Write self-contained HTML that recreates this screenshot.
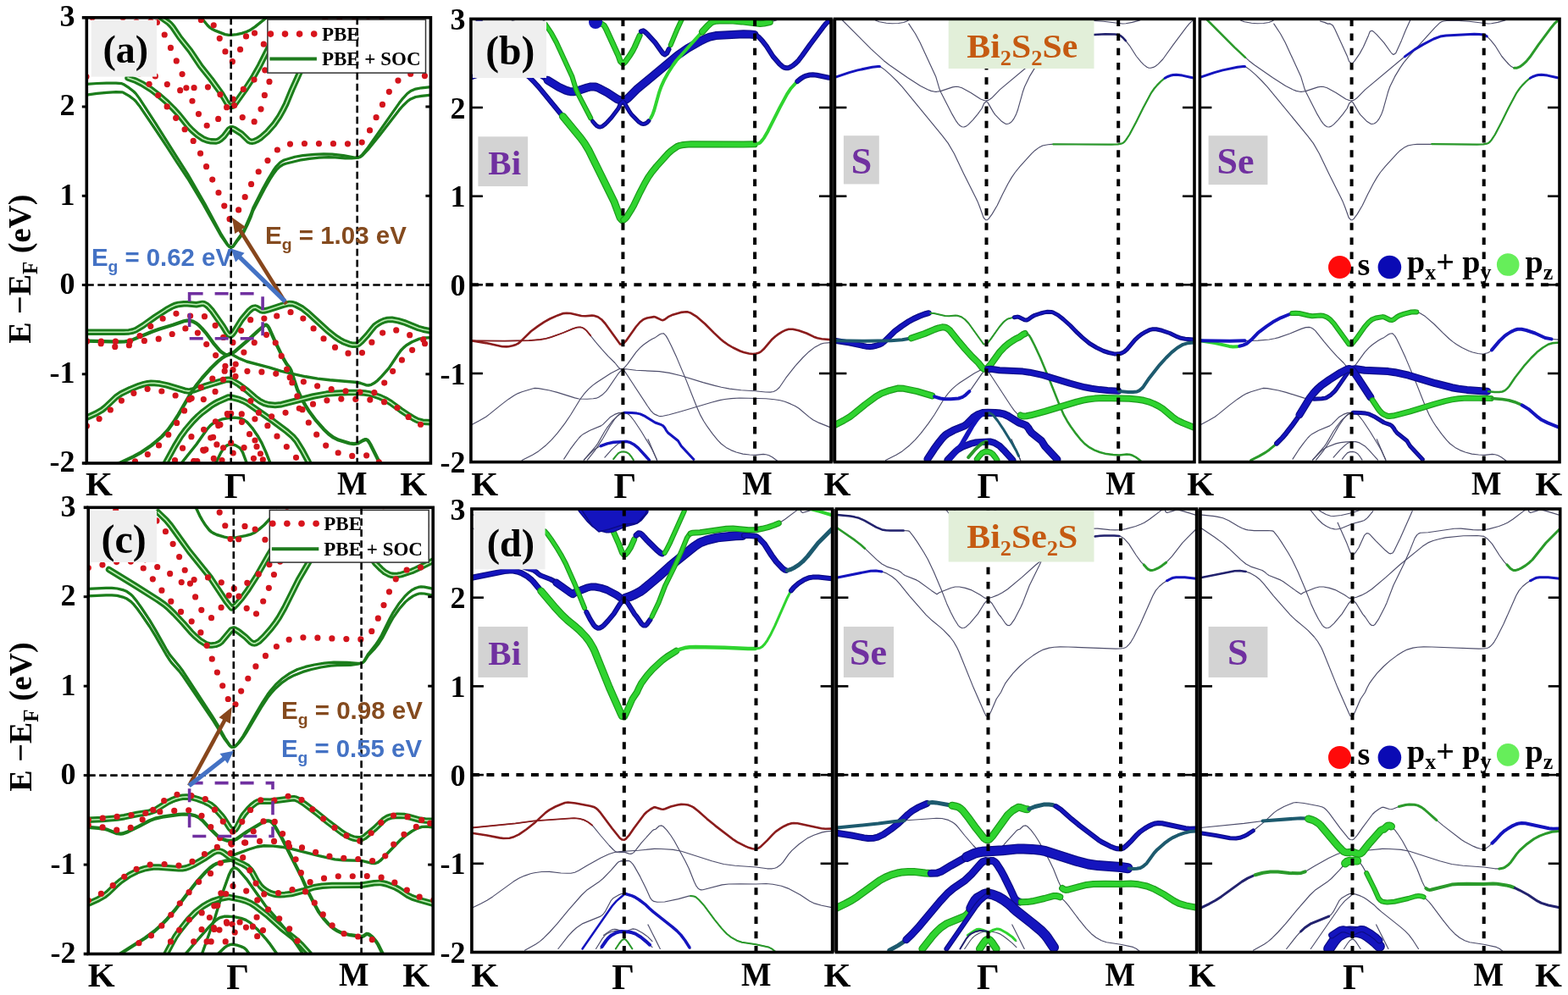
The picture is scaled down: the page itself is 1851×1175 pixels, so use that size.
<!DOCTYPE html>
<html><head><meta charset="utf-8"><title>Band structures</title>
<style>html,body{margin:0;padding:0;background:#fff;overflow:hidden}svg{display:block}</style>
</head><body>
<svg width="1851" height="1175" viewBox="0 0 1851 1175">
<rect width="1851" height="1175" fill="#fff"/>
<defs>
<clipPath id="cl_a"><rect x="102.3" y="20.8" width="406.1" height="526.2"/></clipPath>
<clipPath id="cl_b1"><rect x="555.9" y="22.4" width="425.1" height="523.2"/></clipPath>
<clipPath id="cl_b2"><rect x="985.4" y="22.4" width="424.6" height="523.2"/></clipPath>
<clipPath id="cl_b3"><rect x="1416.4" y="22.4" width="424.6" height="523.2"/></clipPath>
<clipPath id="cl_c"><rect x="104.2" y="599.3" width="407.0" height="527.2"/></clipPath>
<clipPath id="cl_d1"><rect x="556.9" y="601.0" width="425.7" height="523.5"/></clipPath>
<clipPath id="cl_d2"><rect x="987.4" y="601.0" width="425.2" height="523.5"/></clipPath>
<clipPath id="cl_d3"><rect x="1417.0" y="601.0" width="424.7" height="523.5"/></clipPath>
</defs>
<g clip-path="url(#cl_a)">
<path d="M102 99.4L114.6 98.5 125.7 98.2 136.9 98.2 143.8 98.7 145.6 99.4 152.6 103.9 157.8 108 160.2 110.4 164.5 116.1 183.2 144.8 209 185.9 221.6 205.6 241.9 240.8 261.3 276.9 268.3 288.2 270.6 290.9 272.7 292.3 275.1 290.9 279.8 283.7 285.9 275.3 287.9 271.8 296 253.5 298.7 245.7 310.2 223 316.5 211.5 322.7 201.3 326.3 196.3 330.2 192.3 332 190.9 335.5 189 348.1 185.3 357.5 183.6 371.1 182.3 382.2 181.8 392.2 182.1 405.4 183.6 418.6 186 421.6 186.2 424.3 185.3 427.1 183.2 433.4 175.6 471.2 121.8 475.5 116.3 480.8 110.5 484.8 107.4 490.6 105.1 497.6 103.8 510 102.6" fill="none" stroke="#1b7d1b" stroke-width="3.2" stroke-linejoin="round" stroke-linecap="round"/>
<path d="M102 112.1L114.6 110.4 125.7 109.4 136.9 108.6 143.8 108.8 145.6 109.3 152.6 113.4 157.8 117.2 160.2 119.5 164.5 124.9 183.2 152.5 196.4 172.3 209 192 221.6 210.8 239.6 240.8 261.3 279.1 268.3 289 270.6 291.3 272.7 292.3 275.1 291.3 279.8 284.7 285.9 277.2 287.9 274 292.1 265.6 296 256.7 298.7 249 312.3 223 318.6 212 322.7 205.6 326.3 200.7 330.2 196.9 333.8 194.6 337.2 193.2 353.7 189.2 365.4 187.4 376.7 186.2 388 185.7 395.7 185.9 407.4 186.9 415.1 186.9 423.1 186.1 425.3 185.5 428 183.4 434.4 176.7 448 159.9 471.2 129.9 475.5 125 480.8 119.8 484.8 116.9 490.6 114.5 497.6 113.3 510 112.1" fill="none" stroke="#1b7d1b" stroke-width="3.2" stroke-linejoin="round" stroke-linecap="round"/>
<path d="M151 92L160.4 95.3 167.4 98.8 178.6 105.8 187.3 112.4 196.1 120 204.8 128.6 211.4 135.8 222.3 149.4 226.7 153.9 233.3 159.7 239.8 164 244.4 165.8 249 166.8 255.1 167 257.9 166.2 260.2 164.7 264.3 160.9 270.3 153 272.8 151.7 274.5 151.8 276.5 152.5 285 157.9 293.5 166.1 295.7 167.1 297.6 167.2 299.6 166.9 303.6 165.3 308 162.5 315.6 155.8 323.3 147.1 329.8 137.6 333.7 130.7 337.6 123 344.7 105.8 366.2 58.3" fill="none" stroke="#1b7d1b" stroke-width="7.5" stroke-linejoin="round" stroke-linecap="round"/>
<path d="M151 92L160.4 95.3 167.4 98.8 178.6 105.8 187.3 112.4 196.1 120 204.8 128.6 211.4 135.8 222.3 149.4 226.7 153.9 233.3 159.7 239.8 164 244.4 165.8 249 166.8 255.1 167 257.9 166.2 260.2 164.7 264.3 160.9 270.3 153 272.8 151.7 274.5 151.8 276.5 152.5 285 157.9 293.5 166.1 295.7 167.1 297.6 167.2 299.6 166.9 303.6 165.3 308 162.5 315.6 155.8 323.3 147.1 329.8 137.6 333.7 130.7 337.6 123 344.7 105.8 366.2 58.3" fill="none" stroke="#bdf0b5" stroke-width="1.6" stroke-linejoin="round" stroke-linecap="round"/>
<path d="M189.3 20L199 26.8 201.5 29.2 203.8 31.9 212.3 44.5 224.5 59.8 236.8 78.2 249 93.5 261.3 110.4 268 121.7 270.3 124.5 272.8 125.7 274.6 125.2 276.6 123.6 278.5 121.2 290.6 104 298.5 91.9 306.7 77.3 323.3 44.5" fill="none" stroke="#1b7d1b" stroke-width="7.5" stroke-linejoin="round" stroke-linecap="round"/>
<path d="M189.3 20L199 26.8 201.5 29.2 203.8 31.9 212.3 44.5 224.5 59.8 236.8 78.2 249 93.5 261.3 110.4 268 121.7 270.3 124.5 272.8 125.7 274.6 125.2 276.6 123.6 278.5 121.2 290.6 104 298.5 91.9 306.7 77.3 323.3 44.5" fill="none" stroke="#bdf0b5" stroke-width="1.6" stroke-linejoin="round" stroke-linecap="round"/>
<path d="M236.8 20L245.1 30 247.5 32.3 249.8 33.9 254.7 36.4 265.6 40.6 270 41.4 272.8 41.4 279.5 40.6 285.4 39.3 291 37.5 294.8 35.8 301.1 31.6 315.6 20" fill="none" stroke="#1b7d1b" stroke-width="3.4" stroke-linejoin="round" stroke-linecap="round"/>
<path d="M102 392.2L146.2 392.2 152.2 391.9 156.7 391 160.8 389.4 168.8 384.5 183.4 374.1 196.2 365.8 202.2 362.4 206.5 360.5 210.8 359.4 217 358.8 221.3 358.8 231.9 359.7 239 358.4 241.1 358.8 243.4 360 245.6 361.7 250.4 367.1 263.4 385.7 267.9 393.1 270 395.6 272.7 395.9 274.3 394.6 276.1 392.3 284.2 379.1 286.1 376.4 293.7 367.4 297.3 364.3 299.1 363.4 301.1 363.1 302.9 363.6 308.4 366.7 310.2 367.1 312 367 315.6 366.2 334.6 360.1 341.8 358.4 345.5 358.8 348.9 359.9 356.5 363.9 363.7 369.5 386.4 390.3 395.8 397.9 401.3 401.5 404.8 403.4 412.1 406.3 415.8 407.2 419.7 407.3 421.7 407 423.8 405.8 427 402.9 433.7 395.6 439.1 388.7 442.5 384.8 445.7 382.4 449.8 380.1 454.1 378.3 457.5 377.5 462.6 377.2 469.9 378.6 478.5 381.2 493.9 387.5 500 389.2 510 391.2" fill="none" stroke="#1b7d1b" stroke-width="7.5" stroke-linejoin="round" stroke-linecap="round"/>
<path d="M102 392.2L146.2 392.2 152.2 391.9 156.7 391 160.8 389.4 168.8 384.5 183.4 374.1 196.2 365.8 202.2 362.4 206.5 360.5 210.8 359.4 217 358.8 221.3 358.8 231.9 359.7 239 358.4 241.1 358.8 243.4 360 245.6 361.7 250.4 367.1 263.4 385.7 267.9 393.1 270 395.6 272.7 395.9 274.3 394.6 276.1 392.3 284.2 379.1 286.1 376.4 293.7 367.4 297.3 364.3 299.1 363.4 301.1 363.1 302.9 363.6 308.4 366.7 310.2 367.1 312 367 315.6 366.2 334.6 360.1 341.8 358.4 345.5 358.8 348.9 359.9 356.5 363.9 363.7 369.5 386.4 390.3 395.8 397.9 401.3 401.5 404.8 403.4 412.1 406.3 415.8 407.2 419.7 407.3 421.7 407 423.8 405.8 427 402.9 433.7 395.6 439.1 388.7 442.5 384.8 445.7 382.4 449.8 380.1 454.1 378.3 457.5 377.5 462.6 377.2 469.9 378.6 478.5 381.2 493.9 387.5 500 389.2 510 391.2" fill="none" stroke="#bdf0b5" stroke-width="1.6" stroke-linejoin="round" stroke-linecap="round"/>
<path d="M102 402.7L140.2 403.7 146.5 403.5 150.9 402.9 157.3 400.9 179.3 391.7 187.6 388.7 204 383.8 217 379.3 220.7 378.6 223.3 378.6 227.7 379.6 231.9 381.9 234.1 383.6 238.5 388 243 393.1 252 405.3 258.9 413.4 261.1 415.6 265.5 418.4 267.4 419.1 269.6 419.1 272.7 418.1 277.7 414.7 291.7 402.6 305.4 390 312.7 383.9 314.1 383.5 315.8 384.7 317.5 387.1 325.1 404.2 334.5 423.4 338.3 429.8 341.8 434.3 343.6 437.6 351 459.8 356.2 471.2 360.3 478.4 365.3 486.3 373.3 496.9 382.2 506.9 388 512.5 393.7 516.7 399.6 519.6 412.6 523.5 417.7 524.2 422.6 523.5 428.3 520.2 430.6 519.2 432.7 519.2 433.9 519.9 435 521.1 437.1 524.5 447.5 545.2" fill="none" stroke="#1b7d1b" stroke-width="4.2" stroke-linejoin="round" stroke-linecap="round"/>
<path d="M272.8 418.1L282.7 423.4 291.4 427 317.6 433.9 331.4 438.2 343.9 441.2 360.8 444.8 374.9 447.1 389.3 448.7 421.7 451.5 425.7 452.5 432 454.7 435 455 438.2 454.3 441.4 452.6 445.7 449.3 450.1 444.9 459 434.9 469.9 418.5 473.1 414 476.4 410.6 479.7 407.8 486.4 403.7 495 400.1 501.3 399 510 398.6" fill="none" stroke="#1b7d1b" stroke-width="3.4" stroke-linejoin="round" stroke-linecap="round"/>
<path d="M102 493.3L113.7 488 120.6 484 124.7 480.6 137 468.9 143.2 464.7 153.5 459.7 163.8 455.6 170 453.6 174.2 452.7 178.3 452.3 182.4 452.4 188.6 453.1 196.9 454.8 218 461.2 222 461.9 224.4 461.7 228.2 460.9 241.1 456.2 266.1 448.6 270.2 448.3 274.3 449.4 281.8 453.9 291.6 461.2 300.9 469.4 306.5 473.6 312 476.3 317.3 477.8 324.8 478.5 332.1 477.7 369.8 468 385.6 465.1 396.8 464.2 410.1 463.6 421.7 463.6 430.4 464 435.9 464.9 442.4 466.7 449 469.1 455.7 472.2 461.1 475.5 473.1 484.3 483.1 491 488.6 494.4 492.8 496.5 498.8 498.2 510 498.8" fill="none" stroke="#1b7d1b" stroke-width="7.5" stroke-linejoin="round" stroke-linecap="round"/>
<path d="M102 493.3L113.7 488 120.6 484 124.7 480.6 137 468.9 143.2 464.7 153.5 459.7 163.8 455.6 170 453.6 174.2 452.7 178.3 452.3 182.4 452.4 188.6 453.1 196.9 454.8 218 461.2 222 461.9 224.4 461.7 228.2 460.9 241.1 456.2 266.1 448.6 270.2 448.3 274.3 449.4 281.8 453.9 291.6 461.2 300.9 469.4 306.5 473.6 312 476.3 317.3 477.8 324.8 478.5 332.1 477.7 369.8 468 385.6 465.1 396.8 464.2 410.1 463.6 421.7 463.6 430.4 464 435.9 464.9 442.4 466.7 449 469.1 455.7 472.2 461.1 475.5 473.1 484.3 483.1 491 488.6 494.4 492.8 496.5 498.8 498.2 510 498.8" fill="none" stroke="#bdf0b5" stroke-width="1.6" stroke-linejoin="round" stroke-linecap="round"/>
<path d="M139.1 548L157.7 539.2 166.9 534.1 178.7 526 185.2 520.7 191.1 515.5 198.3 507.6 205.9 497 210.6 489.6 225.7 463.6 232.1 454.5 238.5 446.5 249.3 434.5 257.8 426.3 262.2 422.8 264.8 421.2 272.7 417.2" fill="none" stroke="#1b7d1b" stroke-width="4.2" stroke-linejoin="round" stroke-linecap="round"/>
<path d="M194.8 548L206.4 526.8 213.3 515.5 219.5 507.1 227.7 497.5 234 491.2 238.2 487.5 248.5 479.7 252.8 476.9 257.4 474.4 269.6 469 274.1 469.4 281.5 471.3 287.8 473.7 291.6 475.7 323.2 497.9 338.7 509.6 345.5 515.5 349.9 520.6 356.8 531.8 364 545.2" fill="none" stroke="#1b7d1b" stroke-width="7.5" stroke-linejoin="round" stroke-linecap="round"/>
<path d="M194.8 548L206.4 526.8 213.3 515.5 219.5 507.1 227.7 497.5 234 491.2 238.2 487.5 248.5 479.7 252.8 476.9 257.4 474.4 269.6 469 274.1 469.4 281.5 471.3 287.8 473.7 291.6 475.7 323.2 497.9 338.7 509.6 345.5 515.5 349.9 520.6 356.8 531.8 364 545.2" fill="none" stroke="#bdf0b5" stroke-width="1.6" stroke-linejoin="round" stroke-linecap="round"/>
<path d="M213.3 548L231.9 524.8 244 507.5 248.2 502.6 250.4 500.7 254.7 498 261.5 495.2 268.3 493.8 276.7 493.1 282.5 493.7 288 495.8 291.8 498.6 297.7 505.3 304.7 515.5 309 523.1 313.9 534 319.5 548" fill="none" stroke="#1b7d1b" stroke-width="3.4" stroke-linejoin="round" stroke-linecap="round"/>
<path d="M254.1 548L260.9 534.3 263.4 530.4 265.6 527.9 267.8 526.1 270.1 525.1 272.7 524.8 276.4 525.4 278.5 526.1 282.5 528.6 284.3 530.3 286.6 534.3 291.7 548" fill="none" stroke="#1b7d1b" stroke-width="3.4" stroke-linejoin="round" stroke-linecap="round"/>
<path d="M102.4 402.9L119.2 405.7 137.4 409.8 142 410 144.5 409.8 148.9 408.9 152.8 407.5 155.3 406.2 157.3 404.5 169.6 391.8 177.5 385.6 184.2 380.8 190.8 376.9 199.6 372.8 205.9 370.5 209.7 370.1 213.7 370.4 226.1 373.4 230.6 373.6 238 373 240.2 373.2 244.6 374.7 248.6 377.6 252.8 382.4 269.5 407.1 272.6 407 275.8 403.5 287.3 386.5 291.9 380.9 295.8 377.6 300 376 307.7 374.5 309.5 374.9 315.7 378.1 318 378.5 319.9 377.8 323.8 374.6 328 372.5 338.1 369.3 344 368.6 345.9 368.8 349.7 370.2 355.5 374 365.4 382.9 375.3 393.4 383.1 401 387 404.5 391 407.4 397 411.1 404.9 415.1 409 416.6 415 418.2 419.1 418.7 421.6 418.5 425.9 417.5 428.4 416.1 431.8 413 440.7 401.9 445.1 397.8 448.4 395.2 452.7 392.4 457.1 390.2 460.2 389.3 464.9 389.3 471.4 390.8 480.4 394.1 488.8 398.2 493 399.9 497.8 400.8 507.5 401.6" fill="none" stroke="#d3141c" stroke-width="7.2" stroke-linecap="round" stroke-dasharray="0 17"/>
<path d="M102.4 402.9L140.2 403.2 167.5 402.7 180.1 401.5 186.4 400.4 190.7 399.2 203.2 394.5 216.6 388.6 221.3 387.1 225 386.9 227.3 387.4 229.3 388.7 231.8 391 241.9 404.3 248.9 413.1 256.3 421.5 263.7 429.2 267.7 434.7 269.8 436.5 272.6 436.3 274.2 435.1 277.9 430.5 287.3 416.8 291.9 411.5 295.8 407.9 302.2 403.1 305.8 400.7 309.5 399 314 395.6 316.3 394.5 318.6 394.2 321.4 397.2 323.1 400.2 333.5 423.3 343.7 448.8 356 481.3 360.3 491.5 363.9 498.3 368 504.9 374 513.6 379.6 520.9 383.6 525.2 389.2 529.7 394.8 532.9 400.7 535.4 408.2 537.4 415.8 538.4 422.7 538.7 431.3 537.7 434.5 538 437.8 539.2 441.8 541.4 448.6 546.7" fill="none" stroke="#d3141c" stroke-width="7.2" stroke-linecap="round" stroke-dasharray="0 17"/>
<path d="M102.4 503.1L112.2 497.7 119.2 493.3 123.4 490 136 479.1 144.4 472.3 150.7 467.9 155 465.5 159.5 463.6 172.1 459.7 173.8 459.3 178 459.5 190.4 461.9 199.1 464.3 218.8 470.9 223.4 471.9 227.9 472.3 232.6 472.2 239.3 471.8 243.2 471 245.2 470.2 249.4 467.3 253.6 463 255.7 460.3 267.8 441.6 270 439 272.6 437.2 275.8 436.5 287.3 438.1 313.8 439.4 325.2 441.2 338.7 444.5 363.1 452.4 376.3 456.3 383.8 458.2 393.1 460 406.1 461.6 421.6 462.7 434 463.9 439.2 464 442.9 463.4 445.8 462 449.6 458.3 457.1 447 467.5 433.2 476.1 423.2 483.4 415.9 490 410.6 496.4 407 500.1 405.9 507.5 405.2" fill="none" stroke="#d3141c" stroke-width="7.2" stroke-linecap="round" stroke-dasharray="0 17"/>
<path d="M159.5 544.9L171.3 538.6 178 534.2 186.5 527 192.7 520.6 199.1 512.9 207.6 501 214.1 491.1 225 471.9 229.6 465.5 234.2 460.3 238.7 456 243 452.6 259.1 441.5 268 436.7 270.1 436.3 272.6 437.2 276.2 441.5 300.4 480.5 304.3 486.2 306.8 488.9 309 490.5 313.1 492.4 315 492.7 318 492.4 324.8 490.9 338.7 486.8 372.5 476.2 381.9 473.6 387.6 472.5 395 471.6 404.4 471 434.4 471.8 444 472.7 450.5 473.8 455.8 475.3 462.2 477.9 467.6 480.7 471.8 483.4 483.4 493.5 487.8 496.9 494.9 500.6 507.5 505.8" fill="none" stroke="#d3141c" stroke-width="7.2" stroke-linecap="round" stroke-dasharray="0 17"/>
<path d="M301 520L311.2 544.9" fill="none" stroke="#d3141c" stroke-width="7.2" stroke-linecap="round" stroke-dasharray="0 17"/>
<path d="M206.5 543.5L213.6 532 218.7 524.6 223.6 518.2 226 515.6 228.4 513.6 235.7 509.4 248 504 250.3 502.2 258.1 493.9 263.4 490.4 268 488.6 274.3 488.2 282.6 488.6 288.4 489.2 292.1 489.9 297.8 492.8 309.1 500.1 316.1 502.8 318 504 320 506.5 321.6 509.5 323.8 512.5 334.9 521.8 338.6 528 352.6 543.8" fill="none" stroke="#d3141c" stroke-width="7.2" stroke-linecap="round" stroke-dasharray="0 17"/>
<path d="M101.9 90.5L116.1 85.2 125.7 82.2 140.1 78.8 151.1 77.2 152.8 77.3 154.2 78 158.4 81.2 164.9 87.2 171.8 94.3 177.9 101.3 223.3 159.4 229.6 168.4 236.3 180.6 247.2 204.7 260.8 233.4 265.4 244.6 269.4 256.7 271.8 259.5 273.5 259.4 275.3 258 279 252.6 284.8 242.4 291 228.8 297 216.5 301.2 209 305.1 202.9 310.6 195.8 323.7 180.6 327.4 177 332.4 173.2 335.2 171.6 337 171 342.2 170.1 346.5 169.7 359 169.5 413.9 169.8 421.2 169.5 424.8 169 426.9 168.3 428.4 167 430.3 164.6 434.4 158.1 441.8 143.5 450.2 125.9 458.3 110 462.6 103.4 469.1 95.9 472.5 92.8 476.8 89.8 479.9 88.4 484.1 87.3 487.7 87.1 492.1 87.4 506 90.6" fill="none" stroke="#d3141c" stroke-width="7.2" stroke-linecap="round" stroke-dasharray="0 17"/>
<path d="M109.1 20.4L143.1 56.4 157.5 70.4 163.6 75.5 184.2 90.6 198.6 100.4 206.6 104.6 210.5 106.2 214.7 107.2 217.1 107.2 221.1 106.5 234.8 101.7 238.7 101.1 241.1 101.3 245.1 102.6 255.1 108.3 266.2 115.9 270.6 117.7 272.7 117.9 274.7 117.4 276.6 116.3 278.5 114.7 287.9 104.8 330.6 67.1 338.2 61 347.8 54.4 361.2 46.5 368.9 42.8 374.3 41.1 379 40.4 408.9 38.8 418.1 39 421.2 39.4 422.7 40 426.2 42.3 430.1 46.7 435 53.3 442.2 65.2 447.5 71.7 450.8 75.4 454.2 78 456.4 78.9 458.6 79 461.7 78.2 463.8 77 467.1 74.3 472.4 68.7 499.2 30.6 502.6 26.3 506 23.1" fill="none" stroke="#d3141c" stroke-width="7.2" stroke-linecap="round" stroke-dasharray="0 17"/>
<path d="M185.4 26.5L192.8 38.2 198 48.5 215.7 88.9 220 104.2 222 109 234.1 133.9 238.7 142.2 241.1 145.4 243.1 147.6 245.2 148.8 247.4 149.1 249.8 148.2 252.3 146.2 257.4 140.7 262.8 133.9 267.5 127 270 121 272.7 118.6 274.3 120.4 280.4 131.4 282.7 134.7 290.1 142.7 293.9 145.2 295.6 145.6 297.9 145.1 300 143.9 302 141.7 304 138.7 306 134.7 307.9 129.3 313.6 107.7 315.8 101.1 321.3 89.2 327.3 78.8 331.2 72.8 337 65.5 366.2 31.3 372.1 25.3 373.8 24.2 376.3 23.4 379.7 22.9 393.5 22.8 404.9 23.6 426.7 26.4 430.3 26.3 437.6 24.9 445.4 22.5 450.5 20.2 458.6 15.6" fill="none" stroke="#d3141c" stroke-width="7.2" stroke-linecap="round" stroke-dasharray="0 17"/>
<path d="M237.3 23.4L242.1 24.9 245.9 26.5 248.4 26.3 251.6 28.6 253.8 32.7 261.2 49.8 267.5 64.6 269.7 71.1 272.7 73.9 274.2 72.9 276 70.8 281.8 61.8 285.9 54.1 291.6 40.4 293.3 35.5 295.7 34.7 297.1 35.7 300.9 39.4 309.1 48.9 316.7 60.2 318.3 62.1 319.9 63 322.4 61.3 328.8 46.4 333.3 34.7 340 19.2" fill="none" stroke="#d3141c" stroke-width="7.2" stroke-linecap="round" stroke-dasharray="0 17"/>
<path d="M145.1 20.4L149.1 22.9 152.3 24.2 160.3 25.7 166.7 26.2 173.7 25.9 179.7 25 183.4 23.4 185.4 21.9" fill="none" stroke="#d3141c" stroke-width="7.2" stroke-linecap="round" stroke-dasharray="0 17"/>
<path d="M228.9 544.5L241.9 528.7 244.5 524.9 252.3 510.5 260.1 499.1 262.8 495.9 267.9 490.8 270.8 489 272.7 488.3" fill="none" stroke="#d3141c" stroke-width="7.2" stroke-linecap="round" stroke-dasharray="0 17"/>
<path d="M232.8 544.5L240.6 534.2 245.5 526.7 250.3 518.7 258.1 504.3 263.4 496.1 265.9 492.9 268.5 490.8 272.7 488.6" fill="none" stroke="#d3141c" stroke-width="7.2" stroke-linecap="round" stroke-dasharray="0 17"/>
<path d="M272.7 488.3L276.8 489.1 279.6 490.8 285.4 498.2 293.5 510.9 304.1 529.3 306.2 533.2 311.1 544.5" fill="none" stroke="#d3141c" stroke-width="7.2" stroke-linecap="round" stroke-dasharray="0 17"/>
<path d="M228.9 544.5L238.2 534.4 240.6 532.1 245.6 529 255 525.2 260.1 523.9 266.5 523.1 275.3 522.8 277.4 522.8 281.6 524.2 287.5 528 292 532.6 302.2 544.5" fill="none" stroke="#d3141c" stroke-width="7.2" stroke-linecap="round" stroke-dasharray="0 17"/>
<path d="M252.3 541.4L260.1 532.1 265.5 526.9 267.9 524.9 270.8 523.4 272.7 522.9" fill="none" stroke="#d3141c" stroke-width="7.2" stroke-linecap="round" stroke-dasharray="0 17"/>
<path d="M262 543.5L264.6 540 267.9 536.3 270.8 534.9 273.7 534.7 275.7 535.1 277.7 535.9 279.6 537.3 282.5 541.1 284.5 544.5" fill="none" stroke="#d3141c" stroke-width="7.2" stroke-linecap="round" stroke-dasharray="0 17"/>
</g>
<g clip-path="url(#cl_b1)">
<path d="M556 402.3L573.7 405.1 592.9 409.2 597.8 409.4 600.4 409.2 605 408.3 609.1 406.9 611.7 405.6 613.9 403.9 626.8 391.3 635.1 385.1 642.2 380.3 649.1 376.5 658.4 372.4 665 370.1 669 369.7 673.3 370 686.3 373 691.1 373.2 698.8 372.6 701.1 372.7 705.8 374.3 710 377.2 714.4 382 732.1 406.5 735.3 406.4 738.7 402.9 750.7 386 755.4 380.5 759.5 377.2 763.9 375.5 772 374.1 773.8 374.5 780.4 377.7 782.7 378.1 784.7 377.3 788.8 374.2 793.2 372.1 803.7 368.9 809.9 368.3 811.9 368.4 815.8 369.8 821.9 373.6 832.3 382.5 842.6 392.9 850.7 400.5 854.9 403.9 859 406.8 865.3 410.5 873.6 414.5 877.8 416 884.1 417.5 888.4 418 891 417.9 895.4 416.8 898.1 415.4 901.5 412.3 910.8 401.3 915.3 397.2 918.8 394.6 923.2 391.9 927.8 389.7 931 388.8 935.9 388.8 942.7 390.3 952 393.5 960.6 397.7 965 399.3 970.1 400.2 980 401.1" fill="none" stroke="#4d4d6b" stroke-width="1.15" stroke-linejoin="round" stroke-linecap="round"/>
<path d="M556 402.3L595.8 402.6 624.6 402.1 637.9 401 644.5 399.8 649 398.6 662.2 394 676.4 388.1 681.2 386.6 685.2 386.4 687.6 387 689.7 388.2 692.3 390.4 702.9 403.7 710.4 412.4 718.1 420.9 725.9 428.5 730.2 433.9 732.4 435.8 735.3 435.6 736.9 434.3 740.8 429.8 750.7 416.1 755.4 410.9 759.5 407.3 766.2 402.5 770 400.2 773.8 398.4 778.6 395 780.9 394 783.4 393.7 786.2 396.6 788 399.6 792.4 408.2 799 422.6 809.6 447.9 822.4 480.3 826.9 490.4 830.7 497.2 834.9 503.7 841.2 512.4 847.1 519.7 851.3 524 857.1 528.4 863 531.6 869.1 534 877 536.1 884.9 537 892.1 537.4 901.1 536.4 904.3 536.7 907.8 537.8 911.9 540 919 545.3" fill="none" stroke="#4d4d6b" stroke-width="1.15" stroke-linejoin="round" stroke-linecap="round"/>
<path d="M556 501.9L566.3 496.6 573.7 492.2 578.1 488.9 591.4 478.1 600.2 471.4 606.9 466.9 611.4 464.6 616.1 462.7 629.4 458.8 631.2 458.4 635.6 458.6 648.7 461 657.9 463.4 678.6 469.9 683.4 471 693.2 471.2 700.2 470.8 704.4 470.1 706.4 469.2 710.9 466.3 715.3 462.1 717.5 459.4 730.2 440.8 732.6 438.2 735.3 436.5 738.7 435.7 750.7 437.3 778.3 438.6 790.2 440.4 804.3 443.7 829.9 451.6 843.7 455.4 851.5 457.3 861.2 459.1 874.8 460.7 891 461.8 903.8 463 909.3 463.1 913.1 462.5 916.1 461.1 920.1 457.5 927.8 446.2 938.6 432.4 947.5 422.5 955.1 415.2 962 409.9 968.5 406.4 972.4 405.3 980 404.6" fill="none" stroke="#4d4d6b" stroke-width="1.15" stroke-linejoin="round" stroke-linecap="round"/>
<path d="M616.2 543.5L628.6 537.2 635.6 532.9 644.6 525.7 651.1 519.4 657.9 511.7 666.9 499.9 673.6 490 685.2 471 690 464.6 694.8 459.4 699.6 455.1 704.2 451.8 721.1 440.7 730.4 435.9 732.7 435.5 735.3 436.5 737.1 438.2 739 440.7 764.4 479.5 768.4 485.1 771.1 487.9 773.3 489.4 777.6 491.3 779.6 491.6 782.7 491.3 789.8 489.8 804.3 485.8 839.7 475.2 849.6 472.6 855.5 471.5 863.2 470.6 873.1 470 904.2 470.8 914.2 471.7 920.9 472.8 926.5 474.3 933.1 476.9 938.7 479.6 943.1 482.3 955.1 492.4 959.7 495.8 967 499.4 980 504.6" fill="none" stroke="#4d4d6b" stroke-width="1.15" stroke-linejoin="round" stroke-linecap="round"/>
<path d="M765 518.8L775.6 543.5" fill="none" stroke="#4d4d6b" stroke-width="1.15" stroke-linejoin="round" stroke-linecap="round"/>
<path d="M665.7 542.1L673.1 530.7 678.5 523.3 683.6 517 686.2 514.4 688.8 512.4 696.5 508.2 709.4 502.9 711.9 501.1 720.1 492.8 725.6 489.4 730.5 487.6 737.1 487.2 745.8 487.5 751.8 488.1 755.7 488.9 761.7 491.7 773.4 499 780.7 501.7 782.7 502.8 784.8 505.3 786.5 508.3 788.8 511.3 800.4 520.5 804.2 526.7 818.9 542.5" fill="none" stroke="#4d4d6b" stroke-width="1.15" stroke-linejoin="round" stroke-linecap="round"/>
<path d="M555.5 91.7L570.5 86.4 580.5 83.5 595.8 80.1 607.3 78.5 609.1 78.6 610.6 79.3 615 82.4 621.9 88.4 629.2 95.5 635.6 102.4 683.3 160.3 690 169.1 697.1 181.3 708.5 205.2 722.9 233.8 724.9 237.9 727.7 245 732 257 734.4 259.7 736.3 259.6 738.1 258.2 742 252.9 748 242.7 754.5 229.2 760.8 217 765.1 209.6 769.3 203.5 775.1 196.4 788.7 181.3 792.6 177.7 797.8 173.9 800.7 172.4 802.6 171.8 808.1 170.8 812.5 170.4 825.6 170.2 882.9 170.6 890.6 170.3 894.3 169.7 896.5 169 898 167.7 900 165.4 904.3 159 911.9 144.4 920.6 126.9 929.1 111.1 933.5 104.5 940.3 97 943.8 94 948.2 91 951.4 89.6 955.8 88.5 959.6 88.3 964.1 88.7 978.5 91.8" fill="none" stroke="#4d4d6b" stroke-width="1.15" stroke-linejoin="round" stroke-linecap="round"/>
<path d="M563.1 22L598.9 57.8 614 71.7 620.5 76.7 642.2 91.8 657.4 101.6 665.8 105.7 669.8 107.4 674.3 108.3 676.9 108.3 681 107.6 695.4 102.9 699.6 102.3 702.1 102.5 706.4 103.8 716.9 109.4 728.5 117 733.2 118.8 735.4 118.9 737.5 118.4 739.5 117.3 741.5 115.8 751.2 105.9 795.9 68.5 803.9 62.4 813.9 55.8 827.9 48 835.9 44.3 841.5 42.6 846.5 41.9 877.7 40.2 887.3 40.5 890.6 40.9 892.2 41.5 895.7 43.8 899.8 48.1 904.9 54.7 912.4 66.5 917.9 73.1 921.3 76.6 924.8 79.3 927.1 80.2 929.3 80.3 932.6 79.4 934.8 78.2 938.2 75.6 943.7 70 955.8 53.2 971.5 32.2 975 27.9 978.5 24.7" fill="none" stroke="#4d4d6b" stroke-width="1.15" stroke-linejoin="round" stroke-linecap="round"/>
<path d="M643.5 28.1L651.2 39.7 656.8 50 675.3 90.2 679.9 105.3 682 110.1 694.8 134.9 699.6 143.2 702.1 146.3 704.3 148.5 706.4 149.7 708.7 150 711.3 149.1 713.9 147.1 719.3 141.6 725 134.8 730 128 732.6 122 735.4 119.7 737.1 121.4 743.5 132.4 745.8 135.6 753.6 143.6 757.5 146.1 759.4 146.5 761.7 146 763.9 144.8 766 142.6 768.1 139.6 770.2 135.6 772.2 130.3 778.2 108.8 780.5 102.3 786.2 90.4 792.5 80.1 796.5 74.1 802.5 66.8 833.2 32.8 839.3 26.9 841.1 25.8 843.7 25 847.2 24.5 861.6 24.4 873.5 25.2 896.3 28 900 27.8 907.6 26.4 915.7 24.1 920.9 21.8 929.3 17.3" fill="none" stroke="#4d4d6b" stroke-width="1.15" stroke-linejoin="round" stroke-linecap="round"/>
<path d="M698.1 25L703.2 26.4 707.2 28.1 709.8 27.9 713.2 30.1 715.5 34.2 723.3 51.2 730 65.9 732.3 72.4 735.4 75.2 736.9 74.2 738.8 72.1 745 63.1 749.2 55.5 755.2 41.9 756.9 37.1 759.4 36.3 760.9 37.2 764.9 40.9 773.4 50.3 781.4 61.5 783.1 63.5 784.7 64.4 787.3 62.7 794 47.9 798.7 36.3 805.8 20.8" fill="none" stroke="#4d4d6b" stroke-width="1.15" stroke-linejoin="round" stroke-linecap="round"/>
<path d="M601 22L605.2 24.5 608.6 25.8 617 27.2 623.8 27.8 631.2 27.5 637.4 26.5 641.3 25 643.5 23.5" fill="none" stroke="#4d4d6b" stroke-width="1.15" stroke-linejoin="round" stroke-linecap="round"/>
<path d="M689.3 543.1L703 527.4 705.7 523.6 713.9 509.3 716.6 505.2 722.1 498 725 494.8 730.3 489.8 733.4 488 735.4 487.2" fill="none" stroke="#4d4d6b" stroke-width="1.15" stroke-linejoin="round" stroke-linecap="round"/>
<path d="M693.4 543.1L701.6 532.9 706.7 525.4 711.9 517.5 720.1 503.1 725.6 495 728.3 491.8 731 489.7 735.4 487.5" fill="none" stroke="#4d4d6b" stroke-width="1.15" stroke-linejoin="round" stroke-linecap="round"/>
<path d="M735.4 487.2L739.7 488 742.6 489.8 744.5 491.7 748.7 497 757.2 509.7 768.2 528 770.4 531.9 775.5 543.1" fill="none" stroke="#4d4d6b" stroke-width="1.15" stroke-linejoin="round" stroke-linecap="round"/>
<path d="M689.3 543.1L699.1 533 701.6 530.8 706.8 527.7 716.8 523.9 722.1 522.6 728.9 521.9 738.1 521.5 740.3 521.6 744.7 522.9 750.9 526.7 755.6 531.3 766.3 543.1" fill="none" stroke="#4d4d6b" stroke-width="1.15" stroke-linejoin="round" stroke-linecap="round"/>
<path d="M713.9 540.1L722.1 530.8 727.8 525.6 730.3 523.6 733.4 522.2 735.4 521.6" fill="none" stroke="#4d4d6b" stroke-width="1.15" stroke-linejoin="round" stroke-linecap="round"/>
<path d="M724.2 542.1L726.9 538.6 730.3 534.9 733.4 533.6 736.5 533.4 738.5 533.8 740.6 534.6 742.6 536 745.6 539.7 747.8 543.1" fill="none" stroke="#4d4d6b" stroke-width="1.15" stroke-linejoin="round" stroke-linecap="round"/>
<path d="M556.8 91.2L573.1 85.6 583 82.9 600.3 79.3 607.3 78.5 609.1 78.6 613.1 81.1 617.1 84.2 624.3 90.7 631.3 97.7 635.6 102.4 662 134.5" fill="none" stroke="#0c0c86" stroke-width="6" stroke-linejoin="round" stroke-linecap="round"/>
<path d="M556.8 91.2L573.1 85.6 583 82.9 600.3 79.3 607.3 78.5 609.1 78.6 613.1 81.1 617.1 84.2 624.3 90.7 631.3 97.7 635.6 102.4 662 134.5" fill="none" stroke="#1414be" stroke-width="3.6" stroke-linejoin="round" stroke-linecap="round"/>
<path d="M664.4 137.4L685.6 163.1 690 169.1 694.7 176.8 724.9 237.9 732 257 734.4 259.7" fill="none" stroke="#1c9c1c" stroke-width="9" stroke-linejoin="round" stroke-linecap="round"/>
<path d="M664.4 137.4L685.6 163.1 690 169.1 694.7 176.8 724.9 237.9 732 257 734.4 259.7" fill="none" stroke="#2fd42f" stroke-width="6.6" stroke-linejoin="round" stroke-linecap="round"/>
<path d="M736.3 259.6L738.1 258.2 740 255.9 745.8 246.6 748 242.7 754.5 229.2 760.8 217 765.1 209.6 769.3 203.5 775.1 196.4 788.7 181.3 792.6 177.7 799.2 173.1 802.6 171.8 805 171.3 809.5 170.7 815.9 170.3 877.3 170.6 890.6 170.3" fill="none" stroke="#1c9c1c" stroke-width="8" stroke-linejoin="round" stroke-linecap="round"/>
<path d="M736.3 259.6L738.1 258.2 740 255.9 745.8 246.6 748 242.7 754.5 229.2 760.8 217 765.1 209.6 769.3 203.5 775.1 196.4 788.7 181.3 792.6 177.7 799.2 173.1 802.6 171.8 805 171.3 809.5 170.7 815.9 170.3 877.3 170.6 890.6 170.3" fill="none" stroke="#2fd42f" stroke-width="5.6" stroke-linejoin="round" stroke-linecap="round"/>
<path d="M892.8 170L895.5 169.4 897.3 168.5 900 165.4 902.1 162.6 906.5 154.9 920.6 126.9 929.1 111.1 933.5 104.5 940.3 97" fill="none" stroke="#2fd42f" stroke-width="4" stroke-linejoin="round" stroke-linecap="round"/>
<path d="M941.4 96L944.9 93.1 948.2 91 951.4 89.6 955.8 88.5 959.6 88.3 964.1 88.7 978.5 91.8" fill="none" stroke="#0c0c86" stroke-width="6" stroke-linejoin="round" stroke-linecap="round"/>
<path d="M941.4 96L944.9 93.1 948.2 91 951.4 89.6 955.8 88.5 959.6 88.3 964.1 88.7 978.5 91.8" fill="none" stroke="#1414be" stroke-width="3.6" stroke-linejoin="round" stroke-linecap="round"/>
<path d="M563.1 22L598.9 57.8 611.8 69.9 620.5 76.7 644.4 93.3" fill="none" stroke="#0c0c86" stroke-width="6" stroke-linejoin="round" stroke-linecap="round"/>
<path d="M563.1 22L598.9 57.8 611.8 69.9 620.5 76.7 644.4 93.3" fill="none" stroke="#1414be" stroke-width="3.6" stroke-linejoin="round" stroke-linecap="round"/>
<path d="M646.5 94.7L659.5 102.7 667.8 106.6 672 107.9 674.3 108.3 676.9 108.3 681 107.6 693.1 103.5 697.6 102.4 702.1 102.5 704.3 103 708.3 104.8 716.9 109.4 728.5 117 733.2 118.8 735.4 118.9 737.5 118.4 739.5 117.3 741.5 115.8 751.2 105.9 799.9 65.3 811.7 57.1 827.9 48 834 45.1 837.8 43.6 844.9 42.1 877.7 40.2 885.5 40.4 890.6 40.9" fill="none" stroke="#0c0c86" stroke-width="10" stroke-linejoin="round" stroke-linecap="round"/>
<path d="M646.5 94.7L659.5 102.7 667.8 106.6 672 107.9 674.3 108.3 676.9 108.3 681 107.6 693.1 103.5 697.6 102.4 702.1 102.5 704.3 103 708.3 104.8 716.9 109.4 728.5 117 733.2 118.8 735.4 118.9 737.5 118.4 739.5 117.3 741.5 115.8 751.2 105.9 799.9 65.3 811.7 57.1 827.9 48 834 45.1 837.8 43.6 844.9 42.1 877.7 40.2 885.5 40.4 890.6 40.9" fill="none" stroke="#1414be" stroke-width="7.6" stroke-linejoin="round" stroke-linecap="round"/>
<path d="M892.2 41.5L895.7 43.8 899.8 48.1 904.9 54.7 912.4 66.5 920.2 75.5 923.7 78.6 926 79.8 928.2 80.3 930.4 80.2 932.6 79.4 935.9 77.5 939.4 74.6 942.7 71.3 946.9 65.8 955.8 53.2 971.5 32.2 975 27.9 978.5 24.7" fill="none" stroke="#0c0c86" stroke-width="6" stroke-linejoin="round" stroke-linecap="round"/>
<path d="M892.2 41.5L895.7 43.8 899.8 48.1 904.9 54.7 912.4 66.5 920.2 75.5 923.7 78.6 926 79.8 928.2 80.3 930.4 80.2 932.6 79.4 935.9 77.5 939.4 74.6 942.7 71.3 946.9 65.8 955.8 53.2 971.5 32.2 975 27.9 978.5 24.7" fill="none" stroke="#1414be" stroke-width="3.6" stroke-linejoin="round" stroke-linecap="round"/>
<path d="M643.5 28.1L651.2 39.7 656.8 50 675.3 90.2 679.9 105.3 682 110.1 697.3 139.5" fill="none" stroke="#1c9c1c" stroke-width="6" stroke-linejoin="round" stroke-linecap="round"/>
<path d="M643.5 28.1L651.2 39.7 656.8 50 675.3 90.2 679.9 105.3 682 110.1 697.3 139.5" fill="none" stroke="#2fd42f" stroke-width="3.6" stroke-linejoin="round" stroke-linecap="round"/>
<path d="M699.6 143.2L702.1 146.3 704.3 148.5 706.4 149.7 708.7 150 711.3 149.1 713.9 147.1 716.6 144.5 722.1 138.5 730 128 732.6 122 735.4 119.7 737.1 121.4 743.5 132.4 745.8 135.6 753.6 143.6 757.5 146.1 759.4 146.5 761.7 146 763.9 144.8 766 142.6" fill="none" stroke="#0c0c86" stroke-width="5" stroke-linejoin="round" stroke-linecap="round"/>
<path d="M699.6 143.2L702.1 146.3 704.3 148.5 706.4 149.7 708.7 150 711.3 149.1 713.9 147.1 716.6 144.5 722.1 138.5 730 128 732.6 122 735.4 119.7 737.1 121.4 743.5 132.4 745.8 135.6 753.6 143.6 757.5 146.1 759.4 146.5 761.7 146 763.9 144.8 766 142.6" fill="none" stroke="#1414be" stroke-width="2.6" stroke-linejoin="round" stroke-linecap="round"/>
<path d="M768.1 139.6L770.2 135.6 772.2 130.3 778.2 108.8 780.5 102.3 784.2 94.2 788.3 86.8 794.5 77 798.5 71.5 826.8 39.9" fill="none" stroke="#2fd42f" stroke-width="4" stroke-linejoin="round" stroke-linecap="round"/>
<path d="M829 37.5L835 30.9 839.3 26.9 841.1 25.8 845.3 24.7 853.5 24.3 865.4 24.6 875.4 25.4 897.3 28 901.9 27.6 908.8 26.1" fill="none" stroke="#1c9c1c" stroke-width="8" stroke-linejoin="round" stroke-linecap="round"/>
<path d="M829 37.5L835 30.9 839.3 26.9 841.1 25.8 845.3 24.7 853.5 24.3 865.4 24.6 875.4 25.4 897.3 28 901.9 27.6 908.8 26.1" fill="none" stroke="#2fd42f" stroke-width="5.6" stroke-linejoin="round" stroke-linecap="round"/>
<path d="M700.4 25.6L707.2 28.1 709.8 27.9 713.2 30.1 715.5 34.2 723.3 51.2 730 65.9 732.3 72.4 735.4 75.2 736.9 74.2 738.8 72.1 742.9 66.3 746.8 60.1 749.2 55.5 755.2 41.9" fill="none" stroke="#1c9c1c" stroke-width="7" stroke-linejoin="round" stroke-linecap="round"/>
<path d="M700.4 25.6L707.2 28.1 709.8 27.9 713.2 30.1 715.5 34.2 723.3 51.2 730 65.9 732.3 72.4 735.4 75.2 736.9 74.2 738.8 72.1 742.9 66.3 746.8 60.1 749.2 55.5 755.2 41.9" fill="none" stroke="#2fd42f" stroke-width="4.6" stroke-linejoin="round" stroke-linecap="round"/>
<path d="M756.9 37.1L759.4 36.3 760.9 37.2 764.9 40.9 773.4 50.3 781.4 61.5 783.1 63.5 784.7 64.4 787.3 62.7 789.5 58.2" fill="none" stroke="#0c0c86" stroke-width="6" stroke-linejoin="round" stroke-linecap="round"/>
<path d="M756.9 37.1L759.4 36.3 760.9 37.2 764.9 40.9 773.4 50.3 781.4 61.5 783.1 63.5 784.7 64.4 787.3 62.7 789.5 58.2" fill="none" stroke="#1414be" stroke-width="3.6" stroke-linejoin="round" stroke-linecap="round"/>
<path d="M791.7 53.1L798.7 36.3 805.8 20.8" fill="none" stroke="#1c9c1c" stroke-width="6" stroke-linejoin="round" stroke-linecap="round"/>
<path d="M791.7 53.1L798.7 36.3 805.8 20.8" fill="none" stroke="#2fd42f" stroke-width="3.6" stroke-linejoin="round" stroke-linecap="round"/>
<path d="M556 402.3L573.7 405.1 592.9 409.2 597.8 409.4 600.4 409.2 605 408.3 609.1 406.9 611.7 405.6 613.9 403.9 626.8 391.3 635.1 385.1 642.2 380.3 649.1 376.5 658.4 372.4 665 370.1 669 369.7 673.3 370 686.3 373 691.1 373.2 698.8 372.6 701.1 372.7 705.8 374.3 710 377.2 714.4 382 732.1 406.5 735.3 406.4 738.7 402.9 750.7 386 755.4 380.5 759.5 377.2 763.9 375.5 772 374.1 773.8 374.5 780.4 377.7 782.7 378.1 784.7 377.3 788.8 374.2 793.2 372.1 803.7 368.9 809.9 368.3 811.9 368.4 815.8 369.8 821.9 373.6 832.3 382.5 842.6 392.9 850.7 400.5 854.9 403.9 859 406.8 865.3 410.5 873.6 414.5 877.8 416 884.1 417.5 888.4 418 891 417.9 895.4 416.8 898.1 415.4 901.5 412.3 910.8 401.3 915.3 397.2 918.8 394.6 923.2 391.9 927.8 389.7 931 388.8 935.9 388.8 942.7 390.3 952 393.5 960.6 397.7 965 399.3 970.1 400.2 980 401.1" fill="none" stroke="#8b1c1c" stroke-width="2.6" stroke-linejoin="round" stroke-linecap="round"/>
<path d="M556 402.3L595.8 402.6 624.6 402.1 637.9 401 644.5 399.8 651.3 397.9 664.8 393 676.4 388.1 681.2 386.6 683.2 386.3 685.2 386.4 687.6 387 689.7 388.2 692.3 390.4 697.3 396.4" fill="none" stroke="#8b1c1c" stroke-width="1.8" stroke-linejoin="round" stroke-linecap="round"/>
<path d="M737.1 487.2L745.8 487.5 751.8 488.1 755.7 488.9 761.7 491.7 773.4 499 780.7 501.7 782.7 502.8 784.8 505.3 786.5 508.3 788.8 511.3 800.4 520.5 804.2 526.7 818.9 542.5" fill="none" stroke="#1414be" stroke-width="3" stroke-linejoin="round" stroke-linecap="round"/>
<path d="M709.3 526.7L716.8 523.9 724.2 522.3 738.1 521.5 740.3 521.6 742.6 522.1 744.7 522.9 748.9 525.3 753.3 528.9 766.3 543.1" fill="none" stroke="#1414be" stroke-width="3.5" stroke-linejoin="round" stroke-linecap="round"/>
<path d="M724.2 542.1L726.9 538.6 730.3 534.9 733.4 533.6 736.5 533.4 738.5 533.8 740.6 534.6 742.6 536 745.6 539.7 747.8 543.1" fill="none" stroke="#2a9a2a" stroke-width="2" stroke-linejoin="round" stroke-linecap="round"/>
<circle cx="703" cy="26" r="8" fill="#1414be"/>
</g>
<g clip-path="url(#cl_b2)">
<path d="M985.5 402.3L1003.2 405.1 1022.3 409.2 1027.2 409.4 1029.8 409.2 1034.4 408.3 1038.5 406.9 1041.1 405.6 1043.2 403.9 1056.1 391.3 1064.4 385.1 1071.5 380.3 1078.4 376.5 1087.7 372.4 1094.3 370.1 1098.3 369.7 1102.5 370 1115.5 373 1120.3 373.2 1128 372.6 1130.3 372.7 1134.9 374.3 1139.1 377.2 1143.6 382 1161.2 406.5 1164.4 406.4 1167.8 402.9 1179.8 386 1184.5 380.5 1188.6 377.2 1193 375.5 1201.1 374.1 1202.9 374.5 1209.5 377.7 1211.8 378.1 1213.8 377.3 1217.9 374.2 1222.3 372.1 1232.8 368.9 1239 368.3 1241 368.4 1244.9 369.8 1251 373.6 1261.4 382.5 1271.7 392.9 1279.8 400.5 1284 403.9 1288.1 406.8 1294.4 410.5 1302.7 414.5 1306.9 416 1313.2 417.5 1317.5 418 1320.1 417.9 1324.5 416.8 1327.2 415.4 1330.6 412.3 1339.8 401.3 1344.4 397.2 1347.8 394.6 1352.3 391.9 1356.8 389.7 1360.1 388.8 1364.9 388.8 1371.7 390.3 1381 393.5 1389.7 397.7 1394 399.3 1399.1 400.2 1409 401.1" fill="none" stroke="#4d4d6b" stroke-width="1.15" stroke-linejoin="round" stroke-linecap="round"/>
<path d="M985.5 402.3L1025.2 402.6 1053.9 402.1 1067.2 401 1073.8 399.8 1078.3 398.6 1091.5 394 1105.6 388.1 1110.4 386.6 1114.4 386.4 1116.8 387 1118.9 388.2 1121.5 390.4 1132.1 403.7 1139.5 412.4 1147.2 420.9 1155 428.5 1159.3 433.9 1161.5 435.8 1164.4 435.6 1166 434.3 1169.9 429.8 1179.8 416.1 1184.5 410.9 1188.6 407.3 1195.3 402.5 1199.1 400.2 1202.9 398.4 1207.7 395 1210 394 1212.5 393.7 1215.3 396.6 1217.1 399.6 1221.5 408.2 1228.1 422.6 1238.7 447.9 1251.5 480.3 1256 490.4 1259.8 497.2 1264 503.7 1270.3 512.4 1276.2 519.7 1280.4 524 1286.2 528.4 1292.1 531.6 1298.2 534 1306.1 536.1 1314 537 1321.2 537.4 1330.1 536.4 1333.4 536.7 1336.9 537.8 1341 540 1348.1 545.3" fill="none" stroke="#4d4d6b" stroke-width="1.15" stroke-linejoin="round" stroke-linecap="round"/>
<path d="M985.5 501.9L995.8 496.6 1003.2 492.2 1007.6 488.9 1020.8 478.1 1029.6 471.4 1036.3 466.9 1040.7 464.6 1045.5 462.7 1058.8 458.8 1060.6 458.4 1065 458.6 1078 461 1087.2 463.4 1107.8 469.9 1112.6 471 1122.4 471.2 1129.4 470.8 1133.5 470.1 1135.6 469.2 1140 466.3 1144.4 462.1 1146.6 459.4 1159.4 440.8 1161.7 438.2 1164.4 436.5 1167.8 435.7 1179.8 437.3 1207.4 438.6 1219.3 440.4 1233.4 443.7 1259 451.6 1272.8 455.4 1280.6 457.3 1290.3 459.1 1303.9 460.7 1320.1 461.8 1332.9 463 1338.3 463.1 1342.1 462.5 1345.2 461.1 1349.1 457.5 1356.9 446.2 1367.7 432.4 1376.6 422.5 1384.1 415.2 1391 409.9 1397.6 406.4 1401.4 405.3 1409 404.6" fill="none" stroke="#4d4d6b" stroke-width="1.15" stroke-linejoin="round" stroke-linecap="round"/>
<path d="M1045.5 543.5L1057.9 537.2 1065 532.9 1073.9 525.7 1080.4 519.4 1087.1 511.7 1096.1 499.9 1102.9 490 1114.4 471 1119.2 464.6 1124 459.4 1128.8 455.1 1133.3 451.8 1150.3 440.7 1159.5 435.9 1161.8 435.5 1164.4 436.5 1168.1 440.7 1193.5 479.5 1197.5 485.1 1200.2 487.9 1202.4 489.4 1206.7 491.3 1208.7 491.6 1211.8 491.3 1218.9 489.8 1233.4 485.8 1268.8 475.2 1278.7 472.6 1284.6 471.5 1292.3 470.6 1302.2 470 1333.3 470.8 1343.3 471.7 1350 472.8 1355.6 474.3 1362.2 476.9 1367.7 479.6 1372.1 482.3 1384.1 492.4 1388.7 495.8 1396 499.4 1409 504.6" fill="none" stroke="#4d4d6b" stroke-width="1.15" stroke-linejoin="round" stroke-linecap="round"/>
<path d="M1194.1 518.8L1204.7 543.5" fill="none" stroke="#4d4d6b" stroke-width="1.15" stroke-linejoin="round" stroke-linecap="round"/>
<path d="M1094.9 542.1L1102.4 530.7 1107.7 523.3 1112.8 517 1115.4 514.4 1118 512.4 1125.6 508.2 1138.6 502.9 1141 501.1 1149.2 492.8 1154.7 489.4 1159.6 487.6 1166.2 487.2 1174.9 487.5 1180.9 488.1 1184.8 488.9 1190.8 491.7 1202.5 499 1209.8 501.7 1211.8 502.8 1213.9 505.3 1215.6 508.3 1217.9 511.3 1229.5 520.5 1233.3 526.7 1248 542.5" fill="none" stroke="#4d4d6b" stroke-width="1.15" stroke-linejoin="round" stroke-linecap="round"/>
<path d="M985 91.7L1000 86.4 1010 83.5 1025.2 80.1 1036.7 78.5 1038.4 78.6 1040 79.3 1044.4 82.4 1051.2 88.4 1058.5 95.5 1064.9 102.4 1112.5 160.3 1119.2 169.1 1126.3 181.3 1137.7 205.2 1152 233.8 1154 237.9 1156.8 245 1161.1 257 1163.5 259.7 1165.4 259.6 1167.2 258.2 1171.1 252.9 1177.1 242.7 1183.6 229.2 1189.9 217 1194.2 209.6 1198.4 203.5 1204.2 196.4 1217.8 181.3 1221.7 177.7 1226.9 173.9 1229.8 172.4 1231.7 171.8 1237.2 170.8 1241.6 170.4 1254.7 170.2 1312 170.6 1319.7 170.3 1323.4 169.7 1325.5 169 1327.1 167.7 1329.1 165.4 1333.3 159 1341 144.4 1349.7 126.9 1358.1 111.1 1362.6 104.5 1369.3 97 1372.8 94 1377.3 91 1380.4 89.6 1384.8 88.5 1388.6 88.3 1393.1 88.7 1407.5 91.8" fill="none" stroke="#4d4d6b" stroke-width="1.15" stroke-linejoin="round" stroke-linecap="round"/>
<path d="M992.6 22L1028.3 57.8 1043.4 71.7 1049.9 76.7 1071.5 91.8 1086.6 101.6 1095.1 105.7 1099.1 107.4 1103.5 108.3 1106.1 108.3 1110.3 107.6 1124.6 102.9 1128.8 102.3 1131.3 102.5 1135.5 103.8 1146 109.4 1157.6 117 1162.3 118.8 1164.5 118.9 1166.6 118.4 1168.6 117.3 1170.6 115.8 1180.3 105.9 1225 68.5 1233 62.4 1243 55.8 1257 48 1265 44.3 1270.6 42.6 1275.6 41.9 1306.8 40.2 1316.4 40.5 1319.7 40.9 1321.3 41.5 1324.8 43.8 1328.9 48.1 1334 54.7 1341.5 66.5 1347 73.1 1350.4 76.6 1353.9 79.3 1356.2 80.2 1358.4 80.3 1361.7 79.4 1363.9 78.2 1367.3 75.6 1372.7 70 1384.8 53.2 1400.5 32.2 1404 27.9 1407.5 24.7" fill="none" stroke="#4d4d6b" stroke-width="1.15" stroke-linejoin="round" stroke-linecap="round"/>
<path d="M1072.8 28.1L1080.5 39.7 1086 50 1104.6 90.2 1109.1 105.3 1111.2 110.1 1124 134.9 1128.8 143.2 1131.2 146.3 1133.4 148.5 1135.6 149.7 1137.9 150 1140.4 149.1 1143.1 147.1 1148.5 141.6 1154.1 134.8 1159.1 128 1161.7 122 1164.5 119.7 1166.2 121.4 1172.6 132.4 1174.9 135.6 1182.7 143.6 1186.6 146.1 1188.5 146.5 1190.8 146 1193 144.8 1195.1 142.6 1197.2 139.6 1199.3 135.6 1201.3 130.3 1207.3 108.8 1209.6 102.3 1215.3 90.4 1221.6 80.1 1225.6 74.1 1231.6 66.8 1262.3 32.8 1268.4 26.9 1270.2 25.8 1272.8 25 1276.3 24.5 1290.7 24.4 1302.6 25.2 1325.3 28 1329.1 27.8 1336.6 26.4 1344.8 24.1 1350 21.8 1358.4 17.3" fill="none" stroke="#4d4d6b" stroke-width="1.15" stroke-linejoin="round" stroke-linecap="round"/>
<path d="M1127.3 25L1132.4 26.4 1136.4 28.1 1138.9 27.9 1142.3 30.1 1144.6 34.2 1152.5 51.2 1159.1 65.9 1161.4 72.4 1164.5 75.2 1166 74.2 1167.9 72.1 1174.1 63.1 1178.3 55.5 1184.3 41.9 1186 37.1 1188.5 36.3 1190 37.2 1194 40.9 1202.5 50.3 1210.5 61.5 1212.2 63.5 1213.8 64.4 1216.4 62.7 1223.1 47.9 1227.8 36.3 1234.9 20.8" fill="none" stroke="#4d4d6b" stroke-width="1.15" stroke-linejoin="round" stroke-linecap="round"/>
<path d="M1030.4 22L1034.6 24.5 1038 25.8 1046.3 27.2 1053.1 27.8 1060.5 27.5 1066.7 26.5 1070.6 25 1072.8 23.5" fill="none" stroke="#4d4d6b" stroke-width="1.15" stroke-linejoin="round" stroke-linecap="round"/>
<path d="M1118.5 543.1L1132.1 527.4 1134.9 523.6 1143.1 509.3 1145.8 505.2 1151.2 498 1154.1 494.8 1159.4 489.8 1162.5 488 1164.5 487.2" fill="none" stroke="#4d4d6b" stroke-width="1.15" stroke-linejoin="round" stroke-linecap="round"/>
<path d="M1122.6 543.1L1130.8 532.9 1135.9 525.4 1141 517.5 1149.2 503.1 1154.7 495 1157.4 491.8 1160.1 489.7 1164.5 487.5" fill="none" stroke="#4d4d6b" stroke-width="1.15" stroke-linejoin="round" stroke-linecap="round"/>
<path d="M1164.5 487.2L1168.8 488 1171.7 489.8 1173.6 491.7 1177.8 497 1186.3 509.7 1197.3 528 1199.5 531.9 1204.6 543.1" fill="none" stroke="#4d4d6b" stroke-width="1.15" stroke-linejoin="round" stroke-linecap="round"/>
<path d="M1118.5 543.1L1128.2 533 1130.8 530.8 1136 527.7 1145.9 523.9 1151.2 522.6 1158 521.9 1167.2 521.5 1169.4 521.6 1173.8 522.9 1180 526.7 1184.7 531.3 1195.4 543.1" fill="none" stroke="#4d4d6b" stroke-width="1.15" stroke-linejoin="round" stroke-linecap="round"/>
<path d="M1143.1 540.1L1151.2 530.8 1156.9 525.6 1159.4 523.6 1162.5 522.2 1164.5 521.6" fill="none" stroke="#4d4d6b" stroke-width="1.15" stroke-linejoin="round" stroke-linecap="round"/>
<path d="M1153.3 542.1L1156 538.6 1159.4 534.9 1162.5 533.6 1165.6 533.4 1167.6 533.8 1169.7 534.6 1171.7 536 1174.7 539.7 1176.9 543.1" fill="none" stroke="#4d4d6b" stroke-width="1.15" stroke-linejoin="round" stroke-linecap="round"/>
<path d="M986.3 91.2L1002.6 85.6 1012.4 82.9 1029.7 79.3 1036.7 78.5 1038.4 78.6" fill="none" stroke="#1414be" stroke-width="3" stroke-linejoin="round" stroke-linecap="round"/>
<path d="M1243.3 170.4L1312 170.6 1319.7 170.3 1323.4 169.7 1325.5 169 1327.1 167.7 1329.1 165.4 1333.3 159 1341 144.4 1349.7 126.9 1359.2 109.3 1362.6 104.5 1365.9 100.6 1370.5 96 1373.9 93.1" fill="none" stroke="#2a9a2a" stroke-width="2.2" stroke-linejoin="round" stroke-linecap="round"/>
<path d="M1375.1 92.3L1378.3 90.5 1381.5 89.3 1384.8 88.5 1388.6 88.3 1395.6 89.1 1407.5 91.8" fill="none" stroke="#1414be" stroke-width="3" stroke-linejoin="round" stroke-linecap="round"/>
<path d="M1274 42.1L1304.7 40.3 1316.4 40.5 1319.7 40.9 1322.5 42.1 1325.9 44.8 1328.9 48.1" fill="none" stroke="#22226e" stroke-width="2.5" stroke-linejoin="round" stroke-linecap="round"/>
<path d="M985.5 402.3L1003.2 405.1 1022.3 409.2 1027.2 409.4 1029.8 409.2 1034.4 408.3 1038.5 406.9 1041.1 405.6 1043.2 403.9 1056.1 391.3 1064.4 385.1 1071.5 380.3 1078.4 376.5 1085.5 373.3 1091.5 371 1096.4 369.7" fill="none" stroke="#0c0c86" stroke-width="7" stroke-linejoin="round" stroke-linecap="round"/>
<path d="M985.5 402.3L1003.2 405.1 1022.3 409.2 1027.2 409.4 1029.8 409.2 1034.4 408.3 1038.5 406.9 1041.1 405.6 1043.2 403.9 1056.1 391.3 1064.4 385.1 1071.5 380.3 1078.4 376.5 1085.5 373.3 1091.5 371 1096.4 369.7" fill="none" stroke="#1414be" stroke-width="4.6" stroke-linejoin="round" stroke-linecap="round"/>
<path d="M1098.3 369.7L1102.5 370 1115.5 373 1120.3 373.2 1128 372.6 1130.3 372.7 1134.9 374.3 1139.1 377.2 1143.6 382 1161.2 406.5 1164.4 406.4 1166 405 1169.8 400.2 1179.8 386 1184.5 380.5 1186.5 378.7 1188.6 377.2 1190.7 376.2 1195.3 375.1" fill="none" stroke="#2a9a2a" stroke-width="2" stroke-linejoin="round" stroke-linecap="round"/>
<path d="M1197.4 374.8L1201.1 374.1 1202.9 374.5 1209.5 377.7 1211.8 378.1 1213.8 377.3 1217.9 374.2 1220.6 372.7 1228.5 370 1232.8 368.9 1236.6 368.3 1241 368.4 1242.9 368.9 1249 372.1 1255.2 377 1263.5 384.5 1271.7 392.9 1277.8 398.6 1286.1 405.5 1294.4 410.5 1302.7 414.5 1308.9 416.5 1315.3 417.9 1317.5 418 1322.2 417.5 1324.5 416.8 1327.2 415.4 1330.6 412.3 1339.8 401.3 1344.4 397.2 1347.8 394.6 1352.3 391.9 1356.8 389.7 1360.1 388.8 1364.9 388.8 1371.7 390.3 1381 393.5 1389.7 397.7 1394 399.3 1399.1 400.2 1409 401.1" fill="none" stroke="#0c0c86" stroke-width="5" stroke-linejoin="round" stroke-linecap="round"/>
<path d="M1197.4 374.8L1201.1 374.1 1202.9 374.5 1209.5 377.7 1211.8 378.1 1213.8 377.3 1217.9 374.2 1220.6 372.7 1228.5 370 1232.8 368.9 1236.6 368.3 1241 368.4 1242.9 368.9 1249 372.1 1255.2 377 1263.5 384.5 1271.7 392.9 1277.8 398.6 1286.1 405.5 1294.4 410.5 1302.7 414.5 1308.9 416.5 1315.3 417.9 1317.5 418 1322.2 417.5 1324.5 416.8 1327.2 415.4 1330.6 412.3 1339.8 401.3 1344.4 397.2 1347.8 394.6 1352.3 391.9 1356.8 389.7 1360.1 388.8 1364.9 388.8 1371.7 390.3 1381 393.5 1389.7 397.7 1394 399.3 1399.1 400.2 1409 401.1" fill="none" stroke="#1414be" stroke-width="2.6" stroke-linejoin="round" stroke-linecap="round"/>
<path d="M985.5 402.3L1020.8 402.7 1051.7 402.2 1065 401.2 1073.8 399.8" fill="none" stroke="#1d5a6e" stroke-width="4" stroke-linejoin="round" stroke-linecap="round"/>
<path d="M1076 399.3L1091.5 394 1103.6 388.9 1108.2 387.3 1112.5 386.3 1114.4 386.4 1116.8 387 1118.9 388.2 1121.5 390.4 1132.1 403.7 1139.5 412.4 1147.2 420.9 1155 428.5 1159.3 433.9 1161.5 435.8 1164.4 435.6 1166 434.3 1169.9 429.8 1179.8 416.1 1186.5 409.1 1190.7 405.6 1195.3 402.5 1199.1 400.2 1202.9 398.4 1207.7 395 1210 394" fill="none" stroke="#1c9c1c" stroke-width="8" stroke-linejoin="round" stroke-linecap="round"/>
<path d="M1076 399.3L1091.5 394 1103.6 388.9 1108.2 387.3 1112.5 386.3 1114.4 386.4 1116.8 387 1118.9 388.2 1121.5 390.4 1132.1 403.7 1139.5 412.4 1147.2 420.9 1155 428.5 1159.3 433.9 1161.5 435.8 1164.4 435.6 1166 434.3 1169.9 429.8 1179.8 416.1 1186.5 409.1 1190.7 405.6 1195.3 402.5 1199.1 400.2 1202.9 398.4 1207.7 395 1210 394" fill="none" stroke="#2fd42f" stroke-width="5.6" stroke-linejoin="round" stroke-linecap="round"/>
<path d="M1212.5 393.7L1215.3 396.6 1217.1 399.6 1221.5 408.2 1228.1 422.6 1238.7 447.9 1251.5 480.3 1256 490.4 1259.8 497.2 1264 503.7 1270.3 512.4 1276.2 519.7 1280.4 524 1286.2 528.4 1292.1 531.6 1298.2 534 1306.1 536.1 1314 537 1321.2 537.4 1330.1 536.4 1333.4 536.7 1336.9 537.8 1341 540 1346.3 543.9" fill="none" stroke="#2a9a2a" stroke-width="2.5" stroke-linejoin="round" stroke-linecap="round"/>
<path d="M985.5 501.9L995.8 496.6 1003.2 492.2 1007.6 488.9 1020.8 478.1 1034.1 468.3 1040.7 464.6 1050.2 461.1 1060.6 458.4 1066.8 458.8 1082.6 462.1 1100.3 467.4" fill="none" stroke="#1c9c1c" stroke-width="8" stroke-linejoin="round" stroke-linecap="round"/>
<path d="M985.5 501.9L995.8 496.6 1003.2 492.2 1007.6 488.9 1020.8 478.1 1034.1 468.3 1040.7 464.6 1050.2 461.1 1060.6 458.4 1066.8 458.8 1082.6 462.1 1100.3 467.4" fill="none" stroke="#2fd42f" stroke-width="5.6" stroke-linejoin="round" stroke-linecap="round"/>
<path d="M1103.1 468.3L1110.1 470.5 1115 471.2 1122.4 471.2 1131.5 470.5 1135.6 469.2 1137.8 467.9 1140 466.3 1144.4 462.1" fill="none" stroke="#1414be" stroke-width="4" stroke-linejoin="round" stroke-linecap="round"/>
<path d="M1166 435.9L1169.6 435.8 1179.8 437.3 1207.4 438.6 1215.4 439.7 1231.5 443.2 1262.9 452.7 1280.6 457.3 1288.4 458.8 1298.2 460.1 1307.4 461 1320.1 461.8" fill="none" stroke="#0c0c86" stroke-width="8" stroke-linejoin="round" stroke-linecap="round"/>
<path d="M1166 435.9L1169.6 435.8 1179.8 437.3 1207.4 438.6 1215.4 439.7 1231.5 443.2 1262.9 452.7 1280.6 457.3 1288.4 458.8 1298.2 460.1 1307.4 461 1320.1 461.8" fill="none" stroke="#1414be" stroke-width="5.6" stroke-linejoin="round" stroke-linecap="round"/>
<path d="M1321.1 461.9L1331.7 462.9 1337.4 463.1 1342.1 462.5 1345.2 461.1 1348.1 458.6 1350.1 456.2 1356.9 446.2 1368.8 431.1 1376.6 422.5 1383.1 416.1 1389.8 410.7 1396.5 406.8 1401.4 405.3 1409 404.6" fill="none" stroke="#1d5a6e" stroke-width="4" stroke-linejoin="round" stroke-linecap="round"/>
<path d="M1204.7 490.4L1206.7 491.3 1208.7 491.6 1211.8 491.3 1216.9 490.3 1233.4 485.8 1270.8 474.6 1278.7 472.6 1284.6 471.5 1292.3 470.6 1302.2 470 1333.3 470.8 1343.3 471.7 1350 472.8 1355.6 474.3 1362.2 476.9 1367.7 479.6 1372.1 482.3 1384.1 492.4 1388.7 495.8 1396 499.4 1409 504.6" fill="none" stroke="#1c9c1c" stroke-width="8" stroke-linejoin="round" stroke-linecap="round"/>
<path d="M1204.7 490.4L1206.7 491.3 1208.7 491.6 1211.8 491.3 1216.9 490.3 1233.4 485.8 1270.8 474.6 1278.7 472.6 1284.6 471.5 1292.3 470.6 1302.2 470 1333.3 470.8 1343.3 471.7 1350 472.8 1355.6 474.3 1362.2 476.9 1367.7 479.6 1372.1 482.3 1384.1 492.4 1388.7 495.8 1396 499.4 1409 504.6" fill="none" stroke="#2fd42f" stroke-width="5.6" stroke-linejoin="round" stroke-linecap="round"/>
<path d="M1094.9 542.1L1102.4 530.7 1107.7 523.3 1112.8 517 1115.4 514.4 1118 512.4 1125.6 508.2 1138.6 502.9 1141 501.1 1149.2 492.8 1154.7 489.4 1159.6 487.6 1166.2 487.2 1174.9 487.5 1180.9 488.1 1184.8 488.9 1190.8 491.7 1202.5 499 1209.8 501.7 1211.8 502.8 1213.9 505.3 1215.6 508.3 1217.9 511.3 1229.5 520.5 1233.3 526.7 1248 542.5" fill="none" stroke="#0c0c86" stroke-width="9" stroke-linejoin="round" stroke-linecap="round"/>
<path d="M1094.9 542.1L1102.4 530.7 1107.7 523.3 1112.8 517 1115.4 514.4 1118 512.4 1125.6 508.2 1138.6 502.9 1141 501.1 1149.2 492.8 1154.7 489.4 1159.6 487.6 1166.2 487.2 1174.9 487.5 1180.9 488.1 1184.8 488.9 1190.8 491.7 1202.5 499 1209.8 501.7 1211.8 502.8 1213.9 505.3 1215.6 508.3 1217.9 511.3 1229.5 520.5 1233.3 526.7 1248 542.5" fill="none" stroke="#1414be" stroke-width="6.6" stroke-linejoin="round" stroke-linecap="round"/>
<path d="M1118.5 543.1L1128.2 533 1130.8 530.8 1136 527.7 1145.9 523.9 1151.2 522.6 1158 521.9 1167.2 521.5 1169.4 521.6 1173.8 522.9 1180 526.7 1184.7 531.3 1195.4 543.1" fill="none" stroke="#0c0c86" stroke-width="8" stroke-linejoin="round" stroke-linecap="round"/>
<path d="M1118.5 543.1L1128.2 533 1130.8 530.8 1136 527.7 1145.9 523.9 1151.2 522.6 1158 521.9 1167.2 521.5 1169.4 521.6 1173.8 522.9 1180 526.7 1184.7 531.3 1195.4 543.1" fill="none" stroke="#1414be" stroke-width="5.6" stroke-linejoin="round" stroke-linecap="round"/>
<path d="M1153.3 542.1L1156 538.6 1159.4 534.9 1162.5 533.6 1165.6 533.4 1167.6 533.8 1169.7 534.6 1171.7 536 1174.7 539.7 1176.9 543.1" fill="none" stroke="#1c9c1c" stroke-width="7" stroke-linejoin="round" stroke-linecap="round"/>
<path d="M1153.3 542.1L1156 538.6 1159.4 534.9 1162.5 533.6 1165.6 533.4 1167.6 533.8 1169.7 534.6 1171.7 536 1174.7 539.7 1176.9 543.1" fill="none" stroke="#2fd42f" stroke-width="4.6" stroke-linejoin="round" stroke-linecap="round"/>
<path d="M1166.2 487.5L1168.8 488 1171.7 489.8 1173.6 491.7 1177.8 497 1184.1 506.3 1195 524 1199.5 531.9 1202.5 538.3" fill="none" stroke="#1d5a6e" stroke-width="3" stroke-linejoin="round" stroke-linecap="round"/>
<path d="M1118.5 543.1L1132.1 527.4 1134.9 523.6 1143.1 509.3 1145.8 505.2 1151.2 498 1154.1 494.8 1159.4 489.8 1162.5 488 1164.5 487.2" fill="none" stroke="#1414be" stroke-width="4" stroke-linejoin="round" stroke-linecap="round"/>
<path d="M1122.6 543.1L1130.8 532.9 1135.9 525.4 1141 517.5 1149.2 503.1 1154.7 495 1157.4 491.8 1160.1 489.7 1164.5 487.5" fill="none" stroke="#1414be" stroke-width="3" stroke-linejoin="round" stroke-linecap="round"/>
<path d="M1143.1 540.1L1151.2 530.8 1156.9 525.6 1159.4 523.6 1162.5 522.2 1164.5 521.6" fill="none" stroke="#2a9a2a" stroke-width="4" stroke-linejoin="round" stroke-linecap="round"/>
</g>
<g clip-path="url(#cl_b3)">
<path d="M1416.5 402.3L1434.2 405.1 1453.3 409.2 1458.2 409.4 1460.8 409.2 1465.5 408.3 1469.5 406.9 1472.1 405.6 1474.3 403.9 1487.2 391.3 1495.5 385.1 1502.6 380.3 1509.5 376.5 1518.7 372.4 1525.3 370.1 1529.4 369.7 1533.6 370 1546.6 373 1551.3 373.2 1559.1 372.6 1561.4 372.7 1566 374.3 1570.2 377.2 1574.6 382 1592.3 406.5 1595.5 406.4 1598.9 402.9 1610.9 386 1615.7 380.5 1619.8 377.2 1624.2 375.5 1632.3 374.1 1634.1 374.5 1640.7 377.7 1643 378.1 1645.1 377.3 1649.2 374.2 1653.6 372.1 1664.1 368.9 1670.3 368.3 1672.3 368.4 1676.2 369.8 1682.4 373.6 1692.7 382.5 1703.1 392.9 1711.2 400.5 1715.4 403.9 1719.5 406.8 1725.8 410.5 1734.1 414.5 1738.4 416 1744.7 417.5 1749 418 1751.6 417.9 1756 416.8 1758.6 415.4 1762.1 412.3 1771.2 401.3 1775.8 397.2 1779.2 394.6 1783.6 391.9 1788.1 389.7 1791.4 388.8 1796.2 388.8 1802.9 390.3 1812.2 393.5 1820.8 397.7 1825.1 399.3 1830.1 400.2 1840.1 401.1" fill="none" stroke="#4d4d6b" stroke-width="1.15" stroke-linejoin="round" stroke-linecap="round"/>
<path d="M1416.5 402.3L1456.3 402.6 1485 402.1 1498.2 401 1504.8 399.8 1509.3 398.6 1522.5 394 1536.7 388.1 1541.5 386.6 1545.5 386.4 1547.8 387 1550 388.2 1552.6 390.4 1563.2 403.7 1570.6 412.4 1578.3 420.9 1586.1 428.5 1590.4 433.9 1592.6 435.8 1595.5 435.6 1597.1 434.3 1601 429.8 1610.9 416.1 1615.7 410.9 1619.8 407.3 1626.5 402.5 1630.3 400.2 1634.1 398.4 1638.9 395 1641.2 394 1643.7 393.7 1646.6 396.6 1648.4 399.6 1652.7 408.2 1659.3 422.6 1670 447.9 1682.8 480.3 1687.4 490.4 1691.2 497.2 1695.4 503.7 1701.7 512.4 1707.6 519.7 1711.8 524 1717.7 528.4 1723.5 531.6 1729.7 534 1737.5 536.1 1745.5 537 1752.7 537.4 1761.6 536.4 1764.8 536.7 1768.3 537.8 1772.4 540 1779.4 545.3" fill="none" stroke="#4d4d6b" stroke-width="1.15" stroke-linejoin="round" stroke-linecap="round"/>
<path d="M1416.5 501.9L1426.8 496.6 1434.2 492.2 1438.6 488.9 1451.8 478.1 1460.7 471.4 1467.3 466.9 1471.8 464.6 1476.5 462.7 1489.8 458.8 1491.6 458.4 1496 458.6 1509.1 461 1518.2 463.4 1538.9 469.9 1543.7 471 1553.5 471.2 1560.4 470.8 1564.6 470.1 1566.7 469.2 1571.1 466.3 1575.5 462.1 1577.7 459.4 1590.5 440.8 1592.8 438.2 1595.5 436.5 1598.9 435.7 1610.9 437.3 1638.6 438.6 1650.6 440.4 1664.7 443.7 1690.3 451.6 1704.1 455.4 1712 457.3 1721.8 459.1 1735.4 460.7 1751.6 461.8 1764.4 463 1769.7 463.1 1773.5 462.5 1776.5 461.1 1780.5 457.5 1788.2 446.2 1798.9 432.4 1807.7 422.5 1815.3 415.2 1822.1 409.9 1828.6 406.4 1832.5 405.3 1840.1 404.6" fill="none" stroke="#4d4d6b" stroke-width="1.15" stroke-linejoin="round" stroke-linecap="round"/>
<path d="M1476.6 543.5L1488.9 537.2 1496 532.9 1505 525.7 1511.5 519.4 1518.2 511.7 1527.2 499.9 1533.9 490 1545.5 471 1550.3 464.6 1555.1 459.4 1559.9 455.1 1564.4 451.8 1581.3 440.7 1590.6 435.9 1592.9 435.5 1595.5 436.5 1597.3 438.2 1599.2 440.7 1624.7 479.5 1628.7 485.1 1631.3 487.9 1633.6 489.4 1637.9 491.3 1639.9 491.6 1643 491.3 1650.2 489.8 1664.7 485.8 1700.2 475.2 1710.1 472.6 1716 471.5 1723.7 470.6 1733.6 470 1764.7 470.8 1774.6 471.7 1781.3 472.8 1786.9 474.3 1793.5 476.9 1799 479.6 1803.3 482.3 1815.3 492.4 1819.8 495.8 1827.1 499.4 1840.1 504.6" fill="none" stroke="#4d4d6b" stroke-width="1.15" stroke-linejoin="round" stroke-linecap="round"/>
<path d="M1625.3 518.8L1635.9 543.5" fill="none" stroke="#4d4d6b" stroke-width="1.15" stroke-linejoin="round" stroke-linecap="round"/>
<path d="M1526 542.1L1533.4 530.7 1538.8 523.3 1543.9 517 1546.5 514.4 1549 512.4 1556.7 508.2 1569.7 502.9 1572.1 501.1 1580.3 492.8 1585.8 489.4 1590.7 487.6 1597.3 487.2 1606 487.5 1612 488.1 1616 488.9 1621.9 491.7 1633.7 499 1641.1 501.7 1643 502.8 1645.1 505.3 1646.8 508.3 1649.2 511.3 1660.8 520.5 1664.6 526.7 1679.3 542.5" fill="none" stroke="#4d4d6b" stroke-width="1.15" stroke-linejoin="round" stroke-linecap="round"/>
<path d="M1416 91.7L1431 86.4 1441 83.5 1456.2 80.1 1467.7 78.5 1469.5 78.6 1471 79.3 1475.4 82.4 1482.3 88.4 1489.5 95.5 1495.9 102.4 1543.6 160.3 1550.3 169.1 1557.3 181.3 1568.8 205.2 1583.1 233.8 1585.1 237.9 1587.9 245 1592.2 257 1594.6 259.7 1596.5 259.6 1598.3 258.2 1602.2 252.9 1608.2 242.7 1614.7 229.2 1621.1 217 1625.4 209.6 1629.5 203.5 1635.4 196.4 1649.1 181.3 1652.9 177.7 1658.1 173.9 1661.1 172.4 1663 171.8 1668.4 170.8 1672.9 170.4 1686 170.2 1743.5 170.6 1751.2 170.3 1754.9 169.7 1757 169 1758.6 167.7 1760.6 165.4 1764.8 159 1772.4 144.4 1781 126.9 1789.4 111.1 1793.9 104.5 1800.5 97 1804 94 1808.4 91 1811.6 89.6 1816 88.5 1819.7 88.3 1824.2 88.7 1838.5 91.8" fill="none" stroke="#4d4d6b" stroke-width="1.15" stroke-linejoin="round" stroke-linecap="round"/>
<path d="M1423.6 22L1459.3 57.8 1474.4 71.7 1480.9 76.7 1502.5 91.8 1517.7 101.6 1526.1 105.7 1530.1 107.4 1534.6 108.3 1537.2 108.3 1541.3 107.6 1555.7 102.9 1559.9 102.3 1562.4 102.5 1566.6 103.8 1577.1 109.4 1588.7 117 1593.4 118.8 1595.6 118.9 1597.7 118.4 1599.7 117.3 1601.7 115.8 1611.5 105.9 1656.2 68.5 1664.2 62.4 1674.3 55.8 1688.3 48 1696.4 44.3 1702 42.6 1707 41.9 1738.3 40.2 1747.9 40.5 1751.2 40.9 1752.8 41.5 1756.3 43.8 1760.3 48.1 1765.5 54.7 1772.8 66.5 1780.6 75.5 1784 78.6 1786.3 79.8 1788.6 80.3 1791.8 79.9 1794 78.9 1797.3 76.6 1802.9 71.3 1807.2 65.8 1815.9 53.2 1831.5 32.2 1835 27.9 1838.5 24.7" fill="none" stroke="#4d4d6b" stroke-width="1.15" stroke-linejoin="round" stroke-linecap="round"/>
<path d="M1503.8 28.1L1511.5 39.7 1517.1 50 1535.6 90.2 1540.2 105.3 1542.3 110.1 1555 134.9 1559.9 143.2 1562.3 146.3 1564.5 148.5 1566.7 149.7 1569 150 1571.5 149.1 1574.2 147.1 1579.6 141.6 1585.2 134.8 1590.2 128 1592.8 122 1595.6 119.7 1597.3 121.4 1603.7 132.4 1606 135.6 1613.8 143.6 1617.8 146.1 1619.6 146.5 1622 146 1624.2 144.8 1626.3 142.6 1628.4 139.6 1630.5 135.6 1632.5 130.3 1638.5 108.8 1640.8 102.3 1646.6 90.4 1652.8 80.1 1656.9 74.1 1662.9 66.8 1693.6 32.8 1699.7 26.9 1701.6 25.8 1704.2 25 1707.7 24.5 1722.1 24.4 1734.1 25.2 1756.8 28 1760.5 27.8 1768.1 26.4 1776.1 24.1 1781.3 21.8 1789.7 17.3" fill="none" stroke="#4d4d6b" stroke-width="1.15" stroke-linejoin="round" stroke-linecap="round"/>
<path d="M1558.4 25L1563.5 26.4 1567.4 28.1 1570 27.9 1573.4 30.1 1575.7 34.2 1583.5 51.2 1590.2 65.9 1592.5 72.4 1595.6 75.2 1597.1 74.2 1599 72.1 1605.2 63.1 1609.4 55.5 1615.4 41.9 1617.2 37.1 1619.7 36.3 1621.2 37.2 1625.2 40.9 1633.7 50.3 1641.7 61.5 1643.4 63.5 1645 64.4 1647.7 62.7 1654.4 47.9 1659.1 36.3 1666.1 20.8" fill="none" stroke="#4d4d6b" stroke-width="1.15" stroke-linejoin="round" stroke-linecap="round"/>
<path d="M1461.4 22L1465.6 24.5 1469 25.8 1477.4 27.2 1484.2 27.8 1491.5 27.5 1497.8 26.5 1501.7 25 1503.8 23.5" fill="none" stroke="#4d4d6b" stroke-width="1.15" stroke-linejoin="round" stroke-linecap="round"/>
<path d="M1549.5 543.1L1563.2 527.4 1565.9 523.6 1574.1 509.3 1576.9 505.2 1582.3 498 1585.2 494.8 1590.5 489.8 1593.6 488 1595.6 487.2" fill="none" stroke="#4d4d6b" stroke-width="1.15" stroke-linejoin="round" stroke-linecap="round"/>
<path d="M1553.6 543.1L1561.8 532.9 1567 525.4 1572.1 517.5 1580.3 503.1 1585.8 495 1588.5 491.8 1591.2 489.7 1595.6 487.5" fill="none" stroke="#4d4d6b" stroke-width="1.15" stroke-linejoin="round" stroke-linecap="round"/>
<path d="M1595.6 487.2L1599.9 488 1602.9 489.8 1604.7 491.7 1608.9 497 1617.4 509.7 1628.5 528 1630.7 531.9 1635.8 543.1" fill="none" stroke="#4d4d6b" stroke-width="1.15" stroke-linejoin="round" stroke-linecap="round"/>
<path d="M1549.5 543.1L1559.3 533 1561.8 530.8 1567.1 527.7 1577 523.9 1582.3 522.6 1589.1 521.9 1598.3 521.5 1600.5 521.6 1604.9 522.9 1611.1 526.7 1615.9 531.3 1626.5 543.1" fill="none" stroke="#4d4d6b" stroke-width="1.15" stroke-linejoin="round" stroke-linecap="round"/>
<path d="M1574.1 540.1L1582.3 530.8 1588 525.6 1590.5 523.6 1593.6 522.2 1595.6 521.6" fill="none" stroke="#4d4d6b" stroke-width="1.15" stroke-linejoin="round" stroke-linecap="round"/>
<path d="M1584.4 542.1L1587.1 538.6 1590.5 534.9 1593.6 533.6 1596.7 533.4 1598.7 533.8 1600.9 534.6 1602.9 536 1605.8 539.7 1608 543.1" fill="none" stroke="#4d4d6b" stroke-width="1.15" stroke-linejoin="round" stroke-linecap="round"/>
<path d="M1417.3 91.2L1433.6 85.6 1443.4 82.9 1460.8 79.3 1467.7 78.5 1469.5 78.6" fill="none" stroke="#1414be" stroke-width="3" stroke-linejoin="round" stroke-linecap="round"/>
<path d="M1690.2 170.2L1743.5 170.6 1751.2 170.3 1754.9 169.7 1757 169 1758.6 167.7 1760.6 165.4 1764.8 159 1772.4 144.4 1781 126.9 1790.5 109.3 1793.9 104.5 1797.1 100.6 1801.7 96 1805.1 93.1" fill="none" stroke="#2a9a2a" stroke-width="2.2" stroke-linejoin="round" stroke-linecap="round"/>
<path d="M1806.3 92.3L1809.5 90.5 1812.7 89.3 1816 88.5 1819.7 88.3 1826.7 89.1 1838.5 91.8" fill="none" stroke="#1414be" stroke-width="3" stroke-linejoin="round" stroke-linecap="round"/>
<path d="M1423.6 22L1457.3 55.9 1470.1 67.9" fill="none" stroke="#2a9a2a" stroke-width="2.5" stroke-linejoin="round" stroke-linecap="round"/>
<path d="M1658.3 66.9L1670.1 58.4 1680.2 52.4 1692.4 46 1700.2 43.1 1707 41.9 1740.3 40.2 1746.1 40.4 1751.2 40.9 1752.8 41.5 1755.2 42.9" fill="none" stroke="#1414be" stroke-width="3" stroke-linejoin="round" stroke-linecap="round"/>
<path d="M1787.5 80.2L1790.8 80.2 1794 78.9 1797.3 76.6 1801.9 72.4 1806.1 67.3 1815.9 53.2 1831.5 32.2 1835 27.9 1838.5 24.7" fill="none" stroke="#2a9a2a" stroke-width="3" stroke-linejoin="round" stroke-linecap="round"/>
<path d="M1416.5 402.3L1434.2 405.1 1451.1 408.9 1455.4 409.4 1460.8 409.2" fill="none" stroke="#2fd42f" stroke-width="4" stroke-linejoin="round" stroke-linecap="round"/>
<path d="M1463.2 408.8L1467.5 407.6 1472.1 405.6 1478.3 400.2 1484.3 393.8 1487.2 391.3 1495.5 385.1 1502.6 380.3 1511.9 375.3 1522.5 371" fill="none" stroke="#1414be" stroke-width="4" stroke-linejoin="round" stroke-linecap="round"/>
<path d="M1525.3 370.1L1529.4 369.7 1533.6 370 1544.4 372.5 1549 373.3 1559.1 372.6 1561.4 372.7 1566 374.3 1570.2 377.2 1574.6 382 1592.3 406.5 1595.5 406.4 1597.1 405 1600.9 400.2 1610.9 386 1615.7 380.5 1619.8 377.2 1624.2 375.5 1632.3 374.1 1634.1 374.5 1640.7 377.7 1643 378.1 1645.1 377.3 1649.2 374.2 1651.9 372.7 1657.6 370.7 1666.1 368.5 1670.3 368.3 1672.3 368.4" fill="none" stroke="#1c9c1c" stroke-width="6" stroke-linejoin="round" stroke-linecap="round"/>
<path d="M1525.3 370.1L1529.4 369.7 1533.6 370 1544.4 372.5 1549 373.3 1559.1 372.6 1561.4 372.7 1566 374.3 1570.2 377.2 1574.6 382 1592.3 406.5 1595.5 406.4 1597.1 405 1600.9 400.2 1610.9 386 1615.7 380.5 1619.8 377.2 1624.2 375.5 1632.3 374.1 1634.1 374.5 1640.7 377.7 1643 378.1 1645.1 377.3 1649.2 374.2 1651.9 372.7 1657.6 370.7 1666.1 368.5 1670.3 368.3 1672.3 368.4" fill="none" stroke="#2fd42f" stroke-width="3.6" stroke-linejoin="round" stroke-linecap="round"/>
<path d="M1761 413.4L1770.1 402.6 1775.8 397.2 1779.2 394.6 1783.6 391.9 1788.1 389.7 1791.4 388.8 1796.2 388.8 1801.7 390 1812.2 393.5 1824 399 1831.5 400.4" fill="none" stroke="#1414be" stroke-width="4" stroke-linejoin="round" stroke-linecap="round"/>
<path d="M1416.5 402.3L1451.8 402.7 1469.5 402.3" fill="none" stroke="#1414be" stroke-width="4" stroke-linejoin="round" stroke-linecap="round"/>
<path d="M1551 471.3L1560.4 470.8 1564.6 470.1 1566.7 469.2 1571.1 466.3 1575.5 462.1 1577.7 459.4 1590.5 440.8 1592.8 438.2 1595.5 436.5" fill="none" stroke="#0c0c86" stroke-width="5" stroke-linejoin="round" stroke-linecap="round"/>
<path d="M1551 471.3L1560.4 470.8 1564.6 470.1 1566.7 469.2 1571.1 466.3 1575.5 462.1 1577.7 459.4 1590.5 440.8 1592.8 438.2 1595.5 436.5" fill="none" stroke="#1414be" stroke-width="2.6" stroke-linejoin="round" stroke-linecap="round"/>
<path d="M1597.1 435.9L1600.7 435.8 1610.9 437.3 1638.6 438.6 1646.6 439.7 1662.7 443.2 1694.3 452.7 1714 457.7 1721.8 459.1 1731.7 460.4 1755.8 462.2" fill="none" stroke="#0c0c86" stroke-width="9" stroke-linejoin="round" stroke-linecap="round"/>
<path d="M1597.1 435.9L1600.7 435.8 1610.9 437.3 1638.6 438.6 1646.6 439.7 1662.7 443.2 1694.3 452.7 1714 457.7 1721.8 459.1 1731.7 460.4 1755.8 462.2" fill="none" stroke="#1414be" stroke-width="6.6" stroke-linejoin="round" stroke-linecap="round"/>
<path d="M1757 462.3L1764.4 463 1769.7 463.1 1773.5 462.5 1776.5 461.1 1779.4 458.6 1781.5 456.2 1788.2 446.2 1800 431.1 1807.7 422.5 1814.2 416.1 1821 410.7 1827.5 406.8 1832.5 405.3 1840.1 404.6" fill="none" stroke="#2a9a2a" stroke-width="2.5" stroke-linejoin="round" stroke-linecap="round"/>
<path d="M1476.6 543.5L1486.4 538.6 1493.8 534.4 1498.3 531.2 1505 525.7" fill="none" stroke="#2a9a2a" stroke-width="3" stroke-linejoin="round" stroke-linecap="round"/>
<path d="M1507.1 523.7L1513.7 517 1518.2 511.7 1525 502.9 1531.4 494" fill="none" stroke="#0c0c86" stroke-width="6" stroke-linejoin="round" stroke-linecap="round"/>
<path d="M1507.1 523.7L1513.7 517 1518.2 511.7 1525 502.9 1531.4 494" fill="none" stroke="#1414be" stroke-width="3.6" stroke-linejoin="round" stroke-linecap="round"/>
<path d="M1533.9 490L1545.5 471 1550.3 464.6 1555.1 459.4 1559.9 455.1 1569.2 448.5 1581.3 440.7 1590.6 435.9 1592.9 435.5 1595.5 436.5 1597.3 438.2 1601.3 443.8 1618 469.2" fill="none" stroke="#0c0c86" stroke-width="9" stroke-linejoin="round" stroke-linecap="round"/>
<path d="M1533.9 490L1545.5 471 1550.3 464.6 1555.1 459.4 1559.9 455.1 1569.2 448.5 1581.3 440.7 1590.6 435.9 1592.9 435.5 1595.5 436.5 1597.3 438.2 1601.3 443.8 1618 469.2" fill="none" stroke="#1414be" stroke-width="6.6" stroke-linejoin="round" stroke-linecap="round"/>
<path d="M1620.2 472.6L1626.8 482.6 1628.7 485.1 1631.3 487.9 1633.6 489.4 1635.9 490.4 1637.9 491.3 1639.9 491.6 1644.5 491.1 1652.3 489.2 1664.7 485.8 1694.3 476.8 1706.1 473.6 1714 471.9 1721.8 470.8 1731.7 470.1 1760.1 470.6" fill="none" stroke="#1c9c1c" stroke-width="7" stroke-linejoin="round" stroke-linecap="round"/>
<path d="M1620.2 472.6L1626.8 482.6 1628.7 485.1 1631.3 487.9 1633.6 489.4 1635.9 490.4 1637.9 491.3 1639.9 491.6 1644.5 491.1 1652.3 489.2 1664.7 485.8 1694.3 476.8 1706.1 473.6 1714 471.9 1721.8 470.8 1731.7 470.1 1760.1 470.6" fill="none" stroke="#2fd42f" stroke-width="4.6" stroke-linejoin="round" stroke-linecap="round"/>
<path d="M1761.3 470.6L1773.5 471.6 1781.3 472.8 1788 474.7 1795.7 477.9" fill="none" stroke="#2a9a2a" stroke-width="3.5" stroke-linejoin="round" stroke-linecap="round"/>
<path d="M1796.8 478.5L1804.4 483.1 1815.3 492.4 1819.8 495.8 1827.1 499.4 1840.1 504.6" fill="none" stroke="#1414be" stroke-width="4" stroke-linejoin="round" stroke-linecap="round"/>
<path d="M1597.3 487.2L1606 487.5 1612 488.1 1616 488.9 1621.9 491.7 1633.7 499 1641.1 501.7 1643 502.8 1645.1 505.3 1646.8 508.3 1649.2 511.3 1660.8 520.5 1664.6 526.7 1679.3 542.5" fill="none" stroke="#0c0c86" stroke-width="5" stroke-linejoin="round" stroke-linecap="round"/>
<path d="M1597.3 487.2L1606 487.5 1612 488.1 1616 488.9 1621.9 491.7 1633.7 499 1641.1 501.7 1643 502.8 1645.1 505.3 1646.8 508.3 1649.2 511.3 1660.8 520.5 1664.6 526.7 1679.3 542.5" fill="none" stroke="#1414be" stroke-width="2.6" stroke-linejoin="round" stroke-linecap="round"/>
</g>
<g clip-path="url(#cl_c)">
<path d="M104 695.4L125.1 694.3 132 694.4 138.4 695 144.9 696.6 149.8 698.6 154.5 702 157 704.4 161.9 710.6 166.8 717.5 176.7 732.4 183.4 743.6 196 766 200.5 773.3 211.4 786.4 216.1 792.8 249.9 844.6 256.4 855 265.2 870.8 269.5 877.4 271.4 880.2 273.4 881.9 275.7 882.3 277.3 881.5 280.8 878 286.9 869.4 302.4 842.1 309.9 829.3 315.8 820.3 319.6 815.2 325.2 808.7 333.3 801.2 342 795.1 351.1 790.5 360.6 787.4 371.2 785 382.8 783.2 394.1 782.1 409.8 782.3 422.5 783.3 426.7 783.1 428.4 782.1 429.7 780.8 434.6 772.4 442.7 762.3 446.1 757.5 450.4 750.2 460 730.8 464.2 723.1 471.4 712.2 478.5 703.6 482.6 699.7 486.6 696.6 490.6 694.5 493.8 693.4 497 692.9 500.7 693.1 512 695.4" fill="none" stroke="#1b7d1b" stroke-width="3.2" stroke-linejoin="round" stroke-linecap="round"/>
<path d="M104 703.8L125.1 702.8 132 702.9 138.4 703.4 144.9 705.1 149.8 707.1 154.5 710.4 157 712.8 161.9 718.8 166.8 725.5 176.7 740 183.4 750.9 196 772.8 200.5 779.9 202.5 782.6 211.4 792.4 216.1 798.6 251.9 851.3 265.2 872.8 271.4 881 273.4 882.4 275.7 882.3 277.3 881.7 279 880.5 282.8 876.5 286.9 871 290.5 865.6 308.1 836 315.8 824.1 319.6 819.2 325.2 813 333.3 805.8 340.4 801 347.3 797.4 357.5 793.4 367.6 790.5 378.9 788 390.5 786.2 397.9 785.6 413.7 785.3 422.5 784.2 428.4 782.4 430.6 780.3 434.6 774.1 442.7 765.6 447.2 760 451.4 753.4 460 736.7 464.2 729.3 471.4 719 478.5 710.9 482.6 707.4 487.6 703.9 491.7 702 494.8 701 497 700.8 500.7 701 512 703.3" fill="none" stroke="#1b7d1b" stroke-width="3.2" stroke-linejoin="round" stroke-linecap="round"/>
<path d="M128.5 672.5L160.3 692 185.8 708.2 194 713.9 198.4 717.5 205.6 724.5 216.6 736.3 225.3 746.3 229.6 750.6 236.2 756.3 242.8 760.5 247.3 761.9 249.8 762 254.5 761.4 258.7 759.8 261.3 757.8 272.8 744.1 275.8 743 277.5 743.4 281.6 745.8 290 752.4 296 758.3 298.1 759.5 300.2 759.9 302.1 759.5 306 757.2 312 751.4 319.8 742.5 325.7 734.7 329.4 729.2 335.8 717.9 352.3 684.8 363.1 666.4 372.3 649.6" fill="none" stroke="#1b7d1b" stroke-width="7.5" stroke-linejoin="round" stroke-linecap="round"/>
<path d="M128.5 672.5L160.3 692 185.8 708.2 194 713.9 198.4 717.5 205.6 724.5 216.6 736.3 225.3 746.3 229.6 750.6 236.2 756.3 242.8 760.5 247.3 761.9 249.8 762 254.5 761.4 258.7 759.8 261.3 757.8 272.8 744.1 275.8 743 277.5 743.4 281.6 745.8 290 752.4 296 758.3 298.1 759.5 300.2 759.9 302.1 759.5 306 757.2 312 751.4 319.8 742.5 325.7 734.7 329.4 729.2 335.8 717.9 352.3 684.8 363.1 666.4 372.3 649.6" fill="none" stroke="#bdf0b5" stroke-width="1.6" stroke-linejoin="round" stroke-linecap="round"/>
<path d="M186.7 605.1L196.3 614.4 201.4 620.5 223.4 651.1 248 681.7 267.1 710.4 273.2 718 275.8 716.9 279.3 713.6 285.9 705.9 292.1 697.4 302.6 681 317.1 655.7 326.3 640.4" fill="none" stroke="#1b7d1b" stroke-width="7.5" stroke-linejoin="round" stroke-linecap="round"/>
<path d="M186.7 605.1L196.3 614.4 201.4 620.5 223.4 651.1 248 681.7 267.1 710.4 273.2 718 275.8 716.9 279.3 713.6 285.9 705.9 292.1 697.4 302.6 681 317.1 655.7 326.3 640.4" fill="none" stroke="#bdf0b5" stroke-width="1.6" stroke-linejoin="round" stroke-linecap="round"/>
<path d="M231.1 599L235.7 608.8 238.8 614.3 242.6 620.3 247 625.9 249.5 628.1 251.5 629.4 255.9 631.5 264.8 634.2 270.8 635.3 279.3 634.6 289.9 632.7 295.6 631.2 300.4 629 306.1 624.9 311.8 620 319.1 612.1 326.3 603.6" fill="none" stroke="#1b7d1b" stroke-width="3.4" stroke-linejoin="round" stroke-linecap="round"/>
<path d="M439.7 660.3L442.5 664.4 444.3 666.4 449.9 672 454.4 675.8 459.5 678.5 462.3 679.3 465.3 679.6 469.7 679.3 473.5 678.6 486.2 674.5 491.6 672.1 512 661.8" fill="none" stroke="#1b7d1b" stroke-width="7.5" stroke-linejoin="round" stroke-linecap="round"/>
<path d="M439.7 660.3L442.5 664.4 444.3 666.4 449.9 672 454.4 675.8 459.5 678.5 462.3 679.3 465.3 679.6 469.7 679.3 473.5 678.6 486.2 674.5 491.6 672.1 512 661.8" fill="none" stroke="#bdf0b5" stroke-width="1.6" stroke-linejoin="round" stroke-linecap="round"/>
<path d="M104 968.3L121 967.5 138.2 966 146.7 964.7 161.7 961.5 176.6 959.1 183.1 956.7 198.2 947.2 202.6 945.1 207.1 943.3 211.4 942.1 215.5 941.3 220 941 226.4 941.7 233 943.5 242 946.8 248.2 950 253.1 953.9 261.7 963.5 264 966.5 271 977.6 273.4 980 275.7 980.8 277.8 979.6 279.7 976.9 285.9 964.9 288.1 961.6 293.6 955.2 297.6 951.3 301.5 948.3 303.5 947.1 307.1 946 318.9 946.2 346.3 942.8 347.7 942.8 349.2 943.2 351.6 944.2 358.6 948.6 372.7 959.2 388.1 971.6 403.7 983.3 407.4 985.6 413.1 988.4 416.6 989.8 420.2 990.6 424.2 990.7 426.6 990.4 430.3 988.5 443 978 453 968.2 457.4 965.4 461.4 964.1 469 963.2 477.7 963.6 482 964.4 495.9 968.3 502.1 968.9 512 969.3" fill="none" stroke="#1b7d1b" stroke-width="7.5" stroke-linejoin="round" stroke-linecap="round"/>
<path d="M104 968.3L121 967.5 138.2 966 146.7 964.7 161.7 961.5 176.6 959.1 183.1 956.7 198.2 947.2 202.6 945.1 207.1 943.3 211.4 942.1 215.5 941.3 220 941 226.4 941.7 233 943.5 242 946.8 248.2 950 253.1 953.9 261.7 963.5 264 966.5 271 977.6 273.4 980 275.7 980.8 277.8 979.6 279.7 976.9 285.9 964.9 288.1 961.6 293.6 955.2 297.6 951.3 301.5 948.3 303.5 947.1 307.1 946 318.9 946.2 346.3 942.8 347.7 942.8 349.2 943.2 351.6 944.2 358.6 948.6 372.7 959.2 388.1 971.6 403.7 983.3 407.4 985.6 413.1 988.4 416.6 989.8 420.2 990.6 424.2 990.7 426.6 990.4 430.3 988.5 443 978 453 968.2 457.4 965.4 461.4 964.1 469 963.2 477.7 963.6 482 964.4 495.9 968.3 502.1 968.9 512 969.3" fill="none" stroke="#bdf0b5" stroke-width="1.6" stroke-linejoin="round" stroke-linecap="round"/>
<path d="M104 976.9L116.1 977.8 123.2 978.8 127.5 980.1 138.2 984.2 142.5 984.6 144.6 984.4 151 982.2 163.8 975.9 176.6 969.1 183.1 966.6 191.6 964.7 211.1 961.9 217.4 961.5 224.1 961.9 230.5 963.3 234.8 965.4 239.3 969.1 248.2 978.8 257.1 987.4 259.3 989 263.8 991.3 268.1 992.7 270.5 992.9 273 992.9 275.7 992.3 278.9 990.9 291.8 982 309.9 971.3 315.4 969.3 316.9 969.3 319.6 970 321.7 971.8 323.6 974.2 332.5 989.3 355.4 1034.5 364.8 1055.3 370.4 1066.3 376 1076.5 382.1 1084.8 387.3 1090.7 393.1 1095.9 397.4 1098.8 403.2 1101.6 407.2 1102.8 413.5 1104.2 426.6 1105.8 428.1 1105.8 429.3 1105.3 432.2 1103.2 433.2 1102.8 434.3 1103 436.3 1104 439.7 1106.7 443.9 1111.6 446.5 1115.7 451.6 1126" fill="none" stroke="#1b7d1b" stroke-width="4.2" stroke-linejoin="round" stroke-linecap="round"/>
<path d="M275.8 1009.7L293.8 1003 303.5 1000 311.8 998.8 322.7 999.1 332.3 1000.2 343.9 1002.4 376.6 1010.7 395.3 1014.9 404.9 1015.8 426.6 1016.4 438 1019.2 441.1 1019.6 443 1019.5 446.1 1018.4 449.1 1016.2 473.3 991.3 479.9 986 486.4 981.5 492.8 978.1 498.3 976.4 503.3 976.1 512 977" fill="none" stroke="#1b7d1b" stroke-width="3.4" stroke-linejoin="round" stroke-linecap="round"/>
<path d="M104 1067.3L116.1 1061.8 123.2 1057.7 127.5 1054.3 138.2 1044 142.5 1040.4 153.1 1033.2 161.7 1028.8 170.2 1025.9 174.5 1025 180.9 1024 187.3 1024 210.8 1025.7 215.1 1025.7 219.4 1025 223.7 1023.5 230.1 1020.3 240.8 1014.1 251.5 1006.8 255.8 1005.1 257.8 1004.8 260.1 1005.1 262.3 1006 264.5 1007.3 273.4 1014 275.7 1015.4 286.8 1020.4 292.2 1023.6 296 1027.6 298 1030.6 303.5 1040.7 307.3 1046.2 310.9 1049.7 314.7 1052.3 318.6 1054.4 322.7 1055.8 326.4 1056.5 330.3 1056.7 336.3 1056.4 344 1055.5 358.9 1051.6 370.7 1047.8 380.4 1046.2 391.9 1045.6 426.6 1045.2 441.7 1042.7 447.8 1042.4 452.2 1043 456.4 1044 467 1048.1 471.2 1050.4 481.5 1057.3 487.2 1060.1 496.1 1063 512 1067.4" fill="none" stroke="#1b7d1b" stroke-width="7.5" stroke-linejoin="round" stroke-linecap="round"/>
<path d="M104 1067.3L116.1 1061.8 123.2 1057.7 127.5 1054.3 138.2 1044 142.5 1040.4 153.1 1033.2 161.7 1028.8 170.2 1025.9 174.5 1025 180.9 1024 187.3 1024 210.8 1025.7 215.1 1025.7 219.4 1025 223.7 1023.5 230.1 1020.3 240.8 1014.1 251.5 1006.8 255.8 1005.1 257.8 1004.8 260.1 1005.1 262.3 1006 264.5 1007.3 273.4 1014 275.7 1015.4 286.8 1020.4 292.2 1023.6 296 1027.6 298 1030.6 303.5 1040.7 307.3 1046.2 310.9 1049.7 314.7 1052.3 318.6 1054.4 322.7 1055.8 326.4 1056.5 330.3 1056.7 336.3 1056.4 344 1055.5 358.9 1051.6 370.7 1047.8 380.4 1046.2 391.9 1045.6 426.6 1045.2 441.7 1042.7 447.8 1042.4 452.2 1043 456.4 1044 467 1048.1 471.2 1050.4 481.5 1057.3 487.2 1060.1 496.1 1063 512 1067.4" fill="none" stroke="#bdf0b5" stroke-width="1.6" stroke-linejoin="round" stroke-linecap="round"/>
<path d="M142.5 1126L171.3 1107.7 182.7 1099.3 190.5 1092.3 197.4 1085.2 207.8 1073.1 219.4 1057.7 232.5 1041 241.5 1031.1 248.1 1024.7 252.5 1021.5 254.8 1020.3 259.3 1018.6 266.3 1016.6 275.7 1015.4" fill="none" stroke="#1b7d1b" stroke-width="4.2" stroke-linejoin="round" stroke-linecap="round"/>
<path d="M196.3 1126L204.4 1110.8 207 1106.2 211.7 1099.3 222.4 1085.8 231.1 1076.9 239.7 1070.3 246.1 1066.5 250.4 1064.4 259.7 1061.3 270 1059.3 284.1 1062.2 290 1063.9 295.7 1066.4 301.5 1070 315 1080.5 332.3 1096.2 349.9 1110.1 356.2 1116.2 365 1126" fill="none" stroke="#1b7d1b" stroke-width="7.5" stroke-linejoin="round" stroke-linecap="round"/>
<path d="M196.3 1126L204.4 1110.8 207 1106.2 211.7 1099.3 222.4 1085.8 231.1 1076.9 239.7 1070.3 246.1 1066.5 250.4 1064.4 259.7 1061.3 270 1059.3 284.1 1062.2 290 1063.9 295.7 1066.4 301.5 1070 315 1080.5 332.3 1096.2 349.9 1110.1 356.2 1116.2 365 1126" fill="none" stroke="#bdf0b5" stroke-width="1.6" stroke-linejoin="round" stroke-linecap="round"/>
<path d="M219.4 1126L231.5 1111.8 247.2 1094.2 253.7 1087.7 257.8 1084.6 260.1 1083.5 264.5 1082.3 268.9 1082.1 277.4 1082.9 284.6 1084.3 290.1 1086.4 295.8 1089.9 303.8 1097.4 313.1 1107.8 317.8 1113.6 326.6 1126" fill="none" stroke="#1b7d1b" stroke-width="3.4" stroke-linejoin="round" stroke-linecap="round"/>
<path d="M238.6 1126L254 1082.7 263.4 1052.4 270.5 1032.7 272.9 1027.8 275.7 1025 277.6 1024.8 279.6 1025.7 281.8 1027.5 291.9 1039.2 313.1 1069.3 326.6 1084.7 338.1 1098.8 346.2 1109.8 357.3 1126" fill="none" stroke="#1b7d1b" stroke-width="3.4" stroke-linejoin="round" stroke-linecap="round"/>
<path d="M257.8 1126L264.9 1119.2 267.5 1117.3 271.3 1115.6 273.3 1115.3 275.7 1115.4 279.7 1116.2 284.3 1117.6 288.1 1119.3 290.7 1121.6 293.9 1126" fill="none" stroke="#1b7d1b" stroke-width="3.4" stroke-linejoin="round" stroke-linecap="round"/>
<path d="M104.3 670.5L140.9 662.9 144.9 662.3 148.8 662.2 155.5 663.3 160 664.9 166.6 668.8 171.1 672.6 175.5 677.6 186.9 692.3 205.6 714.7 212.4 721.5 221.5 729.3 225.6 733.2 232.6 740.9 236.6 746.4 240.8 753.9 242.8 758.7 259.2 801.3 271.7 831.3 273.5 835 275.7 835.4 277.4 833 279.4 828.8 285.2 814.8 290.4 806.8 292.5 801.8 295.6 795.8 297 793.7 302 786.8 308.3 779.5 317.1 770.9 324.9 764.5 333.5 758.7 338.7 756 345.1 754 350.7 753.2 357.5 752.8 367.1 752.9 420.9 755.1 426.7 754.9 429.7 754.4 431.7 753.7 433.4 752.5 436.1 749.5 438.1 746.6 441.2 741.1 448.4 725.8 462.3 692 465.6 685.9 469.6 680.9 473.8 677.1 478.1 674.1 483.3 671.3 486.4 670.3 490.4 669.9 496.8 670 512.5 671.8" fill="none" stroke="#d3141c" stroke-width="7.2" stroke-linecap="round" stroke-dasharray="0 17"/>
<path d="M103.8 610.6L120.1 622.2 129.7 629.6 136.4 635.8 149.7 649.1 155.7 654.2 161 657.3 174 661.8 177.1 663.9 179.1 665.9 181.6 667.8 194.6 673.2 197.3 674.8 211.7 685.9 217.9 690.1 220.5 688.2 233.8 682.6 238.5 681.4 243.2 681.4 249.9 682.8 256.4 685.1 266.9 691 270.8 693.9 272.8 694.9 275.7 695.1 280.4 693.8 286.2 691.4 292.1 688.2 298 684.3 314 670.3 330.1 655.2 356.3 633.1 362.6 628.9 368.4 626.5 374.6 624.7 382.6 622.9 403.2 620.7 419.1 620.5 426.7 621.4 430.4 624.2 435.8 630.4 443.9 644.1 449.1 651.5 455.2 658.6 457.3 660.6 459.8 661.8 461.2 661.8 465 660.8 469.3 658.5 473.9 655.3 478.3 651.4 483.6 645.3 495.3 629.3 513 610.3" fill="none" stroke="#d3141c" stroke-width="7.2" stroke-linecap="round" stroke-dasharray="0 17"/>
<path d="M103.8 595.6L120.1 597.4 125.1 598.4 129.7 599.7 136.2 602.7 147 609.3 151.4 611.6 155.7 613.3 157.9 613.8 165 614.5 180.1 614.5 185.2 614.9 186.7 615.4 191.2 621.2 195.7 628.1 203.2 640.6 207.6 648.7 214.3 663.5 222.6 684.1 229.1 701.4 233.4 711.4 237.6 720 241.8 727 244 729.4 246.3 730.5 248.4 730.3 250.6 729.1 255.1 724.8 264.2 713.6 271.1 701.7 273.4 699 275.7 697.8 277.8 698.6 280.1 701.1 287.8 714.1 290.4 717.1 295.6 725.2 297.8 727.3 300.1 727.4 301.8 725.9 305.5 720.4 312.9 705.5 315.1 700.4 322.9 679.6 334.1 655.8 340.9 640.2 347.4 623.4 349.9 619.5 351.8 618 353.7 617.3 362.6 616.7 392.7 612.1 400.2 612 414 613.5 420.1 613.8 426.7 613.6 432.4 612.5 443.3 609.4 448.7 607.2 452.9 605.1 458.6 601.2 470.6 591.3 474.5 588.8 476.4 589.1 476.3 591.9 478.3 593.2 484.9 591.2 501 584.8" fill="none" stroke="#d3141c" stroke-width="7.2" stroke-linecap="round" stroke-dasharray="0 17"/>
<path d="M259.2 605.1L269.5 629.6 273.6 640.8 275.7 643.3 277.4 642.8 279.2 640.8 283.1 634.5 289.6 620.1 292.2 617.6 294 617.9 296 619.2 302.6 626.6 313.5 637.9 317.5 641.3 319.2 642 322.1 641.1 324.1 637.7 330.7 623.6 344.5 591.4" fill="none" stroke="#d3141c" stroke-width="7.2" stroke-linecap="round" stroke-dasharray="0 17"/>
<path d="M474.5 588.8L475.9 586.9 478.3 586.7 480.6 587.1 496.9 591.7 513 597" fill="none" stroke="#d3141c" stroke-width="7.2" stroke-linecap="round" stroke-dasharray="0 17"/>
<path d="M104.3 974.3L121.3 977 135.4 979.9 139.8 980.5 146.7 980.2 150.9 979.1 157.4 975.8 165.9 969.7 174.6 962.5 187.4 949.9 191.7 946.6 198.6 942.7 204.8 939.9 209.1 938.2 212.6 937.7 221.1 938.7 237.4 941.9 241.9 943.3 244.1 944.6 246.7 947 249.3 950.2 261.9 968.2 271 980.2 273.3 982 275.8 982.4 277.5 981.4 281.2 977.2 286.9 968.6 299 951.8 301.4 949.3 306.1 945.8 309.9 943.5 311.8 943.7 318.1 945.7 320.4 946 322.5 945.6 329.1 942.8 336.8 940.8 341 940.1 345 940.2 348.8 940.7 352.7 942.3 355 943.7 360.4 947.9 370.4 957.2 380 965.5 401 982.2 405 984.8 414.6 990 418.6 991.7 422.6 992.9 426.5 993.2 429.6 992 432.6 989.4 438.8 983.1 444.9 976 448.3 972.6 453.4 968.8 457.6 966.1 462 963.9 465.3 962.8 468.4 962.3 472.6 962.7 493.8 967.7 499.9 968.9 504.7 969.1 513.5 968.9" fill="none" stroke="#d3141c" stroke-width="7.2" stroke-linecap="round" stroke-dasharray="0 17"/>
<path d="M104.3 968L153.4 962.8 176.7 959.6 217.5 956.6 223.6 956.8 230.8 958.7 235.1 961 237.2 962.6 239.7 964.9 242.1 967.7 249.2 977 259.1 989 265.8 996 267.9 997.1 270.4 997.4 275.8 996.8 281.2 998.8 283.1 999.1 285.1 998.6 287.1 997 295.5 986 308 971.6 310.2 970 311.8 969.8 316 965.7 318.7 965.3 320.5 966.4 324.6 970.8 329.1 977 333.1 983.6 345.6 1007.5 349.9 1016.6 355.9 1032 358 1036.7 360.2 1040 362.1 1041.4 364 1041.9 365.9 1041.7 387.7 1035.8 395.4 1034.9 408.8 1034.6 426.5 1034.9 437.8 1034.4 445.2 1035.1 454.7 1037.1 462.1 1040 475.7 1047.8 485.9 1054.9 491.5 1058 499.2 1060.4 513.5 1063.4" fill="none" stroke="#d3141c" stroke-width="7.2" stroke-linecap="round" stroke-dasharray="0 17"/>
<path d="M104.3 1063.3L114.2 1058.4 121.3 1054.3 127.7 1049.9 151.2 1031.9 157.6 1028 164 1024.9 170.3 1022.6 174.6 1021.4 183.1 1020.3 191.7 1020.2 204.6 1021.8 211.4 1022.1 215.8 1022 220.2 1021.1 224.7 1018.9 233.8 1013 249.2 1004 258.4 999.3 265 997.1 271.1 996.2 292 995 310.2 993 318.1 993 331.8 994 341.2 995.8 376 1007.5 389.7 1011.2 402.6 1013 426.5 1014.8 438.9 1016.5 444.5 1016.6 447.2 1016.1 449.4 1015.3 453.4 1012.3 456.5 1008.9 462.7 999.6 466.3 995 474.4 987.2 483.1 980.6 490.6 976.6 499.9 973.4 504.7 972.4 513.5 971.6" fill="none" stroke="#d3141c" stroke-width="7.2" stroke-linecap="round" stroke-dasharray="0 17"/>
<path d="M164 1113.7L176.3 1106.4 181 1102.9 185.3 1099 191.7 1092.3 200.2 1082.4 213 1066 227.9 1047.9 234.3 1041.6 247.3 1032.5 251.9 1028.4 261.1 1018.4 267.8 1010.2 269.6 1008.5 272.7 1007.3 275.8 1007.6 279.4 1007.1 281.4 1007.3 283.4 1008.5 285.5 1010.8 287.6 1014.1 294.2 1026.2 300.7 1039.9 305.8 1051.7 308 1054.3 309.7 1055.4 313.6 1056.4 322.1 1056 337.7 1052.6 349.8 1049.1 353.3 1049 355.6 1049.5 357.5 1050.3 359.3 1051.6 363.7 1056.2 367.2 1060.5 379.3 1077.3 387.3 1087.7 393.1 1094 398.6 1098.5 404.7 1102 410.4 1104 426.5 1106.6 440.3 1109.8 443.9 1111.7 449.5 1116.5" fill="none" stroke="#d3141c" stroke-width="7.2" stroke-linecap="round" stroke-dasharray="0 17"/>
<path d="M201.5 1111.9L212.8 1096.7 217.6 1091.2 222.2 1086.8 229.3 1081.8 249.2 1073.2 251.8 1071.2 254.3 1067.8 261.1 1054.3 263.3 1051.8 270.2 1047.6 272.6 1046.5 275.8 1046.2 279 1046.9 284.8 1048.9 288.6 1050.7 292.8 1053.5 300.7 1059.7 304.7 1063.9 309.2 1068 330.9 1085.8 336.3 1090.7 340.7 1095.5 345.5 1102.1 351.6 1112" fill="none" stroke="#d3141c" stroke-width="7.2" stroke-linecap="round" stroke-dasharray="0 17"/>
<path d="M228.7 1111.9L262.2 1061.1 267 1055.2 275.8 1047.1" fill="none" stroke="#d3141c" stroke-width="7.2" stroke-linecap="round" stroke-dasharray="0 17"/>
<path d="M244.1 1111.9L251.4 1099.4 254.3 1095.7 256.6 1093.9 261.5 1091.5 266.2 1090.3 269 1090.1 275.8 1091.2" fill="none" stroke="#d3141c" stroke-width="7.2" stroke-linecap="round" stroke-dasharray="0 17"/>
<path d="M249.2 1111.9L255.4 1102.3 257.7 1099.3 259.8 1097.2 261.9 1095.5 266.2 1093 270.6 1091.6 273 1091.3 281 1091.7 284.8 1092.6 288.6 1093.9 292.8 1096.5 297 1099.8 303 1105 308 1110.1" fill="none" stroke="#d3141c" stroke-width="7.2" stroke-linecap="round" stroke-dasharray="0 17"/>
<path d="M252.6 1095.7L260.3 1090.2 262.8 1088.9 265.4 1088.4 267.5 1088.8 269.6 1089.4 275.8 1092.1 277.7 1091.6 281.7 1089.4 285.8 1088.2 288.6 1088.5 290.4 1089.3 296.8 1093 303 1097.7 308 1102.9" fill="none" stroke="#d3141c" stroke-width="7.2" stroke-linecap="round" stroke-dasharray="0 17"/>
<path d="M266.2 1111.9L270.3 1105.4 273.1 1101.8 275.8 1100.2 277.7 1101.3 279.9 1103.8 285.1 1111.9" fill="none" stroke="#d3141c" stroke-width="7.2" stroke-linecap="round" stroke-dasharray="0 17"/>
<path d="M303.1 1083.2L317 1112" fill="none" stroke="#d3141c" stroke-width="7.2" stroke-linecap="round" stroke-dasharray="0 17"/>
</g>
<g clip-path="url(#cl_d1)">
<path d="M557 682.2L595.4 674.6 599.6 674 603.7 673.9 610.6 675 615.4 676.6 622.3 680.5 627 684.2 631.6 689.2 643.6 703.8 663.2 726.1 670.3 732.8 679.9 740.6 684.2 744.4 691.5 752 695.7 757.5 700.1 765 702.3 769.7 719.4 812.1 732.5 841.8 734.3 845.5 736.7 845.9 738.5 843.6 740.5 839.3 746.5 825.5 751.9 817.5 754.1 812.6 757.2 806.6 760.2 802.3 765.9 795.2 773.8 787 781.4 780.1 789.5 774.1 796.4 769.8 801.8 767.1 808.4 765.1 814.2 764.3 821.2 763.9 831 764 886.6 766.1 892.6 766 895.8 765.5 898 764.8 899.8 763.6 902.7 760.6 904.8 757.8 908.1 752.3 915.7 737.1 930.6 703.5 934 697.4 938.3 692.5 942.7 688.8 947.3 685.8 952.8 683 956.2 682 960.4 681.6 967.3 681.7 984 683.5" fill="none" stroke="#4d4d6b" stroke-width="1.15" stroke-linejoin="round" stroke-linecap="round"/>
<path d="M556.5 622.7L573.6 634.2 583.7 641.6 590.7 647.7 604.6 660.9 610.9 666 616.5 669.1 630.1 673.5 633.4 675.7 635.4 677.6 638.1 679.5 651.7 684.9 654.5 686.5 669.6 697.4 676.1 701.7 678.8 699.8 692.8 694.2 697.7 693 702.6 693 709.6 694.4 716.4 696.6 727.5 702.5 731.6 705.4 733.6 706.4 736.7 706.5 741.6 705.3 747.5 702.9 753.6 699.8 759.7 695.8 776.3 681.9 792.8 667 819.9 645.1 826.4 640.9 832.4 638.5 838.8 636.7 847 634.9 868.3 632.7 884.7 632.5 892.6 633.4 896.6 636.2 902.3 642.4 911 656 916.4 663.3 922.9 670.3 925.2 672.4 927.9 673.5 929.4 673.6 933.4 672.5 938 670.2 942.8 667.1 947.5 663.2 953.2 657.1 965.7 641.2 973.1 633.6 984.5 622.4" fill="none" stroke="#4d4d6b" stroke-width="1.15" stroke-linejoin="round" stroke-linecap="round"/>
<path d="M556.5 607.8L573.6 609.6 578.8 610.6 583.7 611.8 590.5 614.8 601.8 621.4 606.3 623.7 610.9 625.4 613.2 625.9 620.6 626.6 636.5 626.5 641.8 626.9 643.4 627.4 648.2 633.3 652.8 640.1 660.6 652.5 665.3 660.5 672.4 675.3 681 695.7 687.8 712.9 692.3 722.8 696.7 731.3 701.1 738.3 703.4 740.6 705.8 741.7 708 741.5 710.3 740.4 715.1 736.1 724.6 724.9 731.9 713.2 734.3 710.4 736.7 709.3 738.9 710.1 741.2 712.5 749.2 725.4 751.8 728.5 757.3 736.5 759.6 738.5 761.9 738.6 763.6 737.2 767.5 731.7 775.1 716.9 777.4 711.9 785.4 691.2 797 667.6 804 652.1 810.8 635.4 813.3 631.6 815.2 630.1 817.2 629.3 826.4 628.8 857.5 624.2 865.3 624.1 879.5 625.6 885.8 625.9 892.6 625.7 898.7 624.6 910.2 621.5 916 619.3 920.5 617.3 926.6 613.3 939.4 603.6 943.5 601 945.6 601.4 945.4 604.1 947.5 605.5 954.6 603.4 971.8 597.1" fill="none" stroke="#4d4d6b" stroke-width="1.15" stroke-linejoin="round" stroke-linecap="round"/>
<path d="M719.4 617.2L730.2 641.6 734.5 652.7 736.7 655.1 738.4 654.7 740.3 652.7 744.4 646.5 751.1 632.1 753.7 629.7 755.6 629.9 757.7 631.3 764.4 638.6 775.7 649.8 779.9 653.2 781.7 653.9 784.6 653 786.6 649.6 793.5 635.6 807.8 603.6" fill="none" stroke="#4d4d6b" stroke-width="1.15" stroke-linejoin="round" stroke-linecap="round"/>
<path d="M943.5 601L945 599.2 947.5 598.9 950 599.3 967.4 603.9 984.5 609.1" fill="none" stroke="#4d4d6b" stroke-width="1.15" stroke-linejoin="round" stroke-linecap="round"/>
<path d="M557 983.8L574.9 986.5 589.6 989.4 594.2 990 601.5 989.7 605.8 988.6 612.7 985.4 621.6 979.3 630.7 972.1 644.1 959.6 648.6 956.4 655.8 952.5 662.4 949.7 666.9 948 670.5 947.5 679.4 948.5 696.5 951.7 701.2 953 703.5 954.3 706.3 956.8 709 959.9 722.2 977.8 731.8 989.7 734.2 991.5 736.8 991.8 738.5 990.9 742.4 986.7 748.2 978.2 760.7 961.5 763.3 959 768.1 955.5 772 953.3 773.9 953.4 780.5 955.5 782.9 955.8 785 955.3 791.8 952.5 799.8 950.5 804.1 949.9 808.2 950 812.1 950.5 816.2 952.1 818.6 953.4 824.2 957.7 834.5 966.9 844.4 975.1 866.1 991.7 870.2 994.3 880.1 999.4 884.2 1001.1 888.3 1002.3 892.4 1002.6 895.7 1001.4 898.9 998.9 905.5 992.6 912 985.6 915.6 982.1 921 978.4 925.5 975.7 930.2 973.5 933.7 972.4 937 972 941.5 972.3 964.1 977.3 970.5 978.4 975.7 978.7 985 978.4" fill="none" stroke="#4d4d6b" stroke-width="1.15" stroke-linejoin="round" stroke-linecap="round"/>
<path d="M557 977.5L608.5 972.4 632.9 969.2 675.6 966.2 682.1 966.5 689.6 968.4 694.1 970.7 696.4 972.2 699 974.5 701.5 977.3 708.9 986.5 719.2 998.5 724.1 1003.5 726.3 1005.4 728.6 1006.5 731.1 1006.7 736.8 1006.1 742.4 1008.1 744.4 1008.4 746.4 1007.9 748.5 1006.4 757.1 995.4 770 981.1 772.3 979.6 773.9 979.3 778.3 975.3 781.1 974.9 783 976 787.2 980.4 791.8 986.5 796 993 808.9 1016.8 813.3 1025.8 819.5 1041.2 821.7 1045.8 824 1049 825.9 1050.4 827.8 1050.9 829.8 1050.8 852.4 1044.9 860.2 1044 874.1 1043.7 892.4 1044 904.4 1043.5 912.3 1044.2 922.5 1046.2 930.3 1049.1 944.8 1056.8 955.6 1063.9 961.6 1066.9 969.9 1069.3 985 1072.3" fill="none" stroke="#4d4d6b" stroke-width="1.15" stroke-linejoin="round" stroke-linecap="round"/>
<path d="M557 1072.3L567.4 1067.3 574.9 1063.3 581.6 1058.9 606.1 1041.1 612.8 1037.1 619.5 1034.1 626.2 1031.8 630.7 1030.7 639.6 1029.5 648.6 1029.4 662.2 1031 669.2 1031.3 673.9 1031.2 678.5 1030.3 683.2 1028.1 692.8 1022.2 708.9 1013.3 718.5 1008.7 725.4 1006.5 731.8 1005.6 753.6 1004.3 772.3 1002.4 780.5 1002.5 794.6 1003.4 804.4 1005.2 840.3 1016.8 854.4 1020.5 867.7 1022.3 892.4 1024 905.6 1025.8 911.6 1025.8 914.5 1025.3 916.8 1024.5 921.1 1021.6 924.4 1018.2 930.9 1008.9 934.8 1004.4 943.4 996.7 952.7 990.1 960.7 986.2 970.5 982.9 975.7 981.9 985 981.1" fill="none" stroke="#4d4d6b" stroke-width="1.15" stroke-linejoin="round" stroke-linecap="round"/>
<path d="M619.5 1122.3L632.5 1115 637.4 1111.6 641.9 1107.7 648.6 1101 657.5 1091.2 670.9 1074.9 686.6 1057 693.3 1050.7 706.9 1041.6 711.8 1037.5 721.4 1027.6 728.4 1019.5 730.3 1017.8 733.5 1016.6 736.8 1016.9 740.5 1016.4 742.5 1016.6 744.6 1017.8 746.8 1020.1 749 1023.4 755.8 1035.4 762.5 1049 767.8 1060.7 770 1063.3 771.8 1064.4 775.8 1065.3 784.6 1065 800.7 1061.6 813.2 1058.1 816.8 1058 819.2 1058.5 821.2 1059.3 823 1060.6 827.6 1065.1 831.2 1069.4 843.6 1086.1 851.9 1096.4 857.9 1102.7 863.6 1107.2 869.9 1110.7 875.8 1112.7 892.4 1115.2 907.1 1118.4 910.9 1120.3 916.9 1125" fill="none" stroke="#4d4d6b" stroke-width="1.15" stroke-linejoin="round" stroke-linecap="round"/>
<path d="M658.9 1120.5L670.7 1105.4 675.7 1100 680.6 1095.5 688 1090.6 708.9 1082.1 711.7 1080 714.3 1076.7 721.4 1063.3 723.7 1060.8 731 1056.6 733.5 1055.5 736.8 1055.3 740.1 1055.9 746.1 1057.9 750 1059.7 754.4 1062.5 762.5 1068.7 766.6 1072.8 771.3 1076.9 793.7 1094.6 799.2 1099.4 803.8 1104.1 808.8 1110.7 815 1120.5" fill="none" stroke="#4d4d6b" stroke-width="1.15" stroke-linejoin="round" stroke-linecap="round"/>
<path d="M687.5 1120.5L722.5 1070 727.6 1064.1 736.8 1056.2" fill="none" stroke="#4d4d6b" stroke-width="1.15" stroke-linejoin="round" stroke-linecap="round"/>
<path d="M703.5 1120.5L711.2 1108.1 714.3 1104.4 716.7 1102.6 721.9 1100.2 726.8 1099.1 729.7 1098.9 736.8 1100" fill="none" stroke="#4d4d6b" stroke-width="1.15" stroke-linejoin="round" stroke-linecap="round"/>
<path d="M708.9 1120.5L715.4 1111 717.8 1108 720 1105.9 722.2 1104.2 726.8 1101.7 731.4 1100.3 733.9 1100 742.2 1100.5 746.1 1101.3 750 1102.6 754.4 1105.2 758.7 1108.5 764.9 1113.6 770 1118.7" fill="none" stroke="#4d4d6b" stroke-width="1.15" stroke-linejoin="round" stroke-linecap="round"/>
<path d="M712.5 1104.4L720.5 1099 723.2 1097.6 725.9 1097.2 728.1 1097.6 730.3 1098.2 736.8 1100.8 738.7 1100.3 742.8 1098.2 747.2 1096.9 750 1097.3 751.8 1098 758.5 1101.7 764.9 1106.4 770 1111.6" fill="none" stroke="#4d4d6b" stroke-width="1.15" stroke-linejoin="round" stroke-linecap="round"/>
<path d="M726.8 1120.5L731.1 1114 734 1110.4 736.8 1108.9 738.8 1109.9 741 1112.4 746.4 1120.5" fill="none" stroke="#4d4d6b" stroke-width="1.15" stroke-linejoin="round" stroke-linecap="round"/>
<path d="M765 1091.9L779.3 1120.5" fill="none" stroke="#4d4d6b" stroke-width="1.15" stroke-linejoin="round" stroke-linecap="round"/>
<path d="M686.6 601.7L695.8 613 701.5 618.5 706.1 621.5 710.9 623.7 715.8 624.9 718.3 625 722.8 624.3 736.7 618.5 746.6 615.9 750.2 614.7 751.8 613.8 754.8 611.4 761.2 603.6" fill="none" stroke="#4d4d6b" stroke-width="1.15" stroke-linejoin="round" stroke-linecap="round"/>
<path d="M690.3 598L700.2 604.6 705.5 607.5 710.8 609.2 714.9 609.5 723.7 608.5 736.7 605.5 743.2 603.3 755.6 598" fill="none" stroke="#4d4d6b" stroke-width="1.15" stroke-linejoin="round" stroke-linecap="round"/>
<path d="M557 682.2L595.4 674.6 601.6 673.9 605.7 674.1 610.6 675 615.4 676.6 622.3 680.5 627 684.2 629.3 686.6 636.3 694.9" fill="none" stroke="#0c0c86" stroke-width="7" stroke-linejoin="round" stroke-linecap="round"/>
<path d="M557 682.2L595.4 674.6 601.6 673.9 605.7 674.1 610.6 675 615.4 676.6 622.3 680.5 627 684.2 629.3 686.6 636.3 694.9" fill="none" stroke="#1414be" stroke-width="4.6" stroke-linejoin="round" stroke-linecap="round"/>
<path d="M638.7 697.9L654.4 716.4 663.2 726.1 670.3 732.8 679.9 740.6 684.2 744.4 691.5 752 695.7 757.5 700.1 765 702.3 769.7 719.4 812.1 732.5 841.8 734.3 845.5 736.7 845.9" fill="none" stroke="#1c9c1c" stroke-width="9" stroke-linejoin="round" stroke-linecap="round"/>
<path d="M638.7 697.9L654.4 716.4 663.2 726.1 670.3 732.8 679.9 740.6 684.2 744.4 691.5 752 695.7 757.5 700.1 765 702.3 769.7 719.4 812.1 732.5 841.8 734.3 845.5 736.7 845.9" fill="none" stroke="#2fd42f" stroke-width="6.6" stroke-linejoin="round" stroke-linecap="round"/>
<path d="M738.5 843.6L746.5 825.5 751.9 817.5 754.1 812.6 757.2 806.6 763.9 797.6 770.3 790.4 781.4 780.1 787.5 775.5 798.1 768.8" fill="none" stroke="#1c9c1c" stroke-width="8" stroke-linejoin="round" stroke-linecap="round"/>
<path d="M738.5 843.6L746.5 825.5 751.9 817.5 754.1 812.6 757.2 806.6 763.9 797.6 770.3 790.4 781.4 780.1 787.5 775.5 798.1 768.8" fill="none" stroke="#2fd42f" stroke-width="5.6" stroke-linejoin="round" stroke-linecap="round"/>
<path d="M799.9 767.9L803.8 766.4 808.4 765.1 814.2 764.3 821.2 763.9 855.2 764.7 883.1 766.1 891.3 766.1" fill="none" stroke="#2fd42f" stroke-width="4.5" stroke-linejoin="round" stroke-linecap="round"/>
<path d="M892.6 766L897 765.2 899.8 763.6 902.7 760.6 905.9 756.1 909.2 750.3 914.6 739.4 929.5 705.7 932.8 699.4" fill="none" stroke="#2fd42f" stroke-width="3" stroke-linejoin="round" stroke-linecap="round"/>
<path d="M934 697.4L937.2 693.5 942.7 688.8 949.5 684.5 955.1 682.2 959.3 681.6 966.2 681.6 981.7 683.2" fill="none" stroke="#0c0c86" stroke-width="6" stroke-linejoin="round" stroke-linecap="round"/>
<path d="M934 697.4L937.2 693.5 942.7 688.8 949.5 684.5 955.1 682.2 959.3 681.6 966.2 681.6 981.7 683.2" fill="none" stroke="#1414be" stroke-width="3.6" stroke-linejoin="round" stroke-linecap="round"/>
<path d="M602.4 658.9L608.9 664.5 613.7 667.7 619.1 670.1 630.1 673.5 633.4 675.7 635.4 677.6 638.1 679.5 649.7 684 654.5 686.5" fill="none" stroke="#0c0c86" stroke-width="6" stroke-linejoin="round" stroke-linecap="round"/>
<path d="M602.4 658.9L608.9 664.5 613.7 667.7 619.1 670.1 630.1 673.5 633.4 675.7 635.4 677.6 638.1 679.5 649.7 684 654.5 686.5" fill="none" stroke="#1414be" stroke-width="3.6" stroke-linejoin="round" stroke-linecap="round"/>
<path d="M656.7 688.1L672.2 699.2 676.1 701.7 678.8 699.8 692.8 694.2 697.7 693 702.6 693 709.6 694.4 716.4 696.6 727.5 702.5 731.6 705.4 733.6 706.4 736.7 706.5" fill="none" stroke="#0c0c86" stroke-width="9" stroke-linejoin="round" stroke-linecap="round"/>
<path d="M656.7 688.1L672.2 699.2 676.1 701.7 678.8 699.8 692.8 694.2 697.7 693 702.6 693 709.6 694.4 716.4 696.6 727.5 702.5 731.6 705.4 733.6 706.4 736.7 706.5" fill="none" stroke="#1414be" stroke-width="6.6" stroke-linejoin="round" stroke-linecap="round"/>
<path d="M738.2 706.3L743.5 704.6 749.6 701.9 755.6 698.7 759.7 695.8 776.3 681.9 790.8 668.8 797.1 663.5 819.9 645.1 826.4 640.9 834.5 637.8 847 634.9 868.3 632.7 876.4 632.4" fill="none" stroke="#0c0c86" stroke-width="11" stroke-linejoin="round" stroke-linecap="round"/>
<path d="M738.2 706.3L743.5 704.6 749.6 701.9 755.6 698.7 759.7 695.8 776.3 681.9 790.8 668.8 797.1 663.5 819.9 645.1 826.4 640.9 834.5 637.8 847 634.9 868.3 632.7 876.4 632.4" fill="none" stroke="#1414be" stroke-width="8.6" stroke-linejoin="round" stroke-linecap="round"/>
<path d="M878.4 632.4L884.7 632.5 890.9 633.1 892.6 633.4 895.3 635.1 902.3 642.4 911 656 916.4 663.3 924 671.4 926.5 673.1 927.9 673.5" fill="none" stroke="#0c0c86" stroke-width="7" stroke-linejoin="round" stroke-linecap="round"/>
<path d="M878.4 632.4L884.7 632.5 890.9 633.1 892.6 633.4 895.3 635.1 902.3 642.4 911 656 916.4 663.3 924 671.4 926.5 673.1 927.9 673.5" fill="none" stroke="#1414be" stroke-width="4.6" stroke-linejoin="round" stroke-linecap="round"/>
<path d="M929.4 673.6L933.4 672.5 938 670.2 942.8 667.1 947.5 663.2 953.2 657.1 965.7 641.2 982.3 624.6" fill="none" stroke="#1d5a6e" stroke-width="5" stroke-linejoin="round" stroke-linecap="round"/>
<path d="M613.2 625.9L620.6 626.6 634.6 626.5 641.8 626.9 643.4 627.4 646.3 630.8 650.4 636.4 658.1 648.2 663.1 656.6 667.8 665.5 678.8 690.3 690.1 718.1" fill="none" stroke="#1c9c1c" stroke-width="6" stroke-linejoin="round" stroke-linecap="round"/>
<path d="M613.2 625.9L620.6 626.6 634.6 626.5 641.8 626.9 643.4 627.4 646.3 630.8 650.4 636.4 658.1 648.2 663.1 656.6 667.8 665.5 678.8 690.3 690.1 718.1" fill="none" stroke="#2fd42f" stroke-width="3.6" stroke-linejoin="round" stroke-linecap="round"/>
<path d="M692.3 722.8L696.7 731.3 701.1 738.3 703.4 740.6 705.8 741.7 708 741.5 710.3 740.4 712.7 738.5 717.5 733.4 724.6 724.9 731.9 713.2 734.3 710.4 736.7 709.3 738.9 710.1 741.2 712.5 749.2 725.4 751.8 728.5 757.3 736.5 759.6 738.5 761.9 738.6 763.6 737.2 767.5 731.7" fill="none" stroke="#0c0c86" stroke-width="6" stroke-linejoin="round" stroke-linecap="round"/>
<path d="M692.3 722.8L696.7 731.3 701.1 738.3 703.4 740.6 705.8 741.7 708 741.5 710.3 740.4 712.7 738.5 717.5 733.4 724.6 724.9 731.9 713.2 734.3 710.4 736.7 709.3 738.9 710.1 741.2 712.5 749.2 725.4 751.8 728.5 757.3 736.5 759.6 738.5 761.9 738.6 763.6 737.2 767.5 731.7" fill="none" stroke="#1414be" stroke-width="3.6" stroke-linejoin="round" stroke-linecap="round"/>
<path d="M769.5 728.2L777.4 711.9 785.4 691.2 797 667.6 804 652.1 810.8 635.4 813.3 631.6" fill="none" stroke="#1c9c1c" stroke-width="6" stroke-linejoin="round" stroke-linecap="round"/>
<path d="M769.5 728.2L777.4 711.9 785.4 691.2 797 667.6 804 652.1 810.8 635.4 813.3 631.6" fill="none" stroke="#2fd42f" stroke-width="3.6" stroke-linejoin="round" stroke-linecap="round"/>
<path d="M815.2 630.1L817.2 629.3 826.4 628.8 857.5 624.2 865.3 624.1 883.6 625.8 892.6 625.7 899.8 624.3 906.7 622.6 913.7 620.2 919.3 617.9" fill="none" stroke="#1c9c1c" stroke-width="7" stroke-linejoin="round" stroke-linecap="round"/>
<path d="M815.2 630.1L817.2 629.3 826.4 628.8 857.5 624.2 865.3 624.1 883.6 625.8 892.6 625.7 899.8 624.3 906.7 622.6 913.7 620.2 919.3 617.9" fill="none" stroke="#2fd42f" stroke-width="4.6" stroke-linejoin="round" stroke-linecap="round"/>
<path d="M719.4 617.2L730.2 641.6 734.5 652.7 736.7 655.1 738.4 654.7 740.3 652.7 742.3 649.7 744.4 646.5 748.7 636.8" fill="none" stroke="#1c9c1c" stroke-width="7" stroke-linejoin="round" stroke-linecap="round"/>
<path d="M719.4 617.2L730.2 641.6 734.5 652.7 736.7 655.1 738.4 654.7 740.3 652.7 742.3 649.7 744.4 646.5 748.7 636.8" fill="none" stroke="#2fd42f" stroke-width="4.6" stroke-linejoin="round" stroke-linecap="round"/>
<path d="M751.1 632.1L753.7 629.7 755.6 629.9 757.7 631.3 764.4 638.6 775.7 649.8 779.9 653.2 781.7 653.9" fill="none" stroke="#0c0c86" stroke-width="7" stroke-linejoin="round" stroke-linecap="round"/>
<path d="M751.1 632.1L753.7 629.7 755.6 629.9 757.7 631.3 764.4 638.6 775.7 649.8 779.9 653.2 781.7 653.9" fill="none" stroke="#1414be" stroke-width="4.6" stroke-linejoin="round" stroke-linecap="round"/>
<path d="M784.6 653L786.6 649.6 791.2 640.6 807.8 603.6" fill="none" stroke="#1c9c1c" stroke-width="6" stroke-linejoin="round" stroke-linecap="round"/>
<path d="M784.6 653L786.6 649.6 791.2 640.6 807.8 603.6" fill="none" stroke="#2fd42f" stroke-width="3.6" stroke-linejoin="round" stroke-linecap="round"/>
<path d="M686.6 601.7L695.8 613 701.5 618.5 706.1 621.5 710.9 623.7 715.8 624.9 718.3 625 722.8 624.3 736.7 618.5 746.6 615.9 750.2 614.7 751.8 613.8 754.8 611.4 761.2 603.6" fill="none" stroke="#0c0c86" stroke-width="9" stroke-linejoin="round" stroke-linecap="round"/>
<path d="M686.6 601.7L695.8 613 701.5 618.5 706.1 621.5 710.9 623.7 715.8 624.9 718.3 625 722.8 624.3 736.7 618.5 746.6 615.9 750.2 614.7 751.8 613.8 754.8 611.4 761.2 603.6" fill="none" stroke="#1414be" stroke-width="6.6" stroke-linejoin="round" stroke-linecap="round"/>
<path d="M690.3 598L700.2 604.6 705.5 607.5 710.8 609.2 714.9 609.5 723.7 608.5 736.7 605.5 743.2 603.3 755.6 598" fill="none" stroke="#0c0c86" stroke-width="7" stroke-linejoin="round" stroke-linecap="round"/>
<path d="M690.3 598L700.2 604.6 705.5 607.5 710.8 609.2 714.9 609.5 723.7 608.5 736.7 605.5 743.2 603.3 755.6 598" fill="none" stroke="#1414be" stroke-width="4.6" stroke-linejoin="round" stroke-linecap="round"/>
<path d="M943.5 601L945 599.2 947.5 598.9 950 599.3 967.4 603.9 984.5 609.1" fill="none" stroke="#2fd42f" stroke-width="4" stroke-linejoin="round" stroke-linecap="round"/>
<path d="M557 983.8L574.9 986.5 589.6 989.4 594.2 990 601.5 989.7 605.8 988.6 612.7 985.4 621.6 979.3 630.7 972.1 644.1 959.6 648.6 956.4 655.8 952.5 662.4 949.7 666.9 948 670.5 947.5 679.4 948.5 696.5 951.7 701.2 953 703.5 954.3 706.3 956.8 709 959.9 722.2 977.8 731.8 989.7 734.2 991.5 736.8 991.8 738.5 990.9 742.4 986.7 748.2 978.2 760.7 961.5 763.3 959 768.1 955.5 772 953.3 773.9 953.4 780.5 955.5 782.9 955.8 785 955.3 791.8 952.5 799.8 950.5 804.1 949.9 808.2 950 812.1 950.5 816.2 952.1 818.6 953.4 824.2 957.7 834.5 966.9 844.4 975.1 866.1 991.7 870.2 994.3 880.1 999.4 884.2 1001.1 888.3 1002.3 892.4 1002.6 895.7 1001.4 898.9 998.9 905.5 992.6 912 985.6 915.6 982.1 921 978.4 925.5 975.7 930.2 973.5 933.7 972.4 937 972 941.5 972.3 969.5 978.3 974.4 978.7 981.7 978.6" fill="none" stroke="#8b1c1c" stroke-width="2.6" stroke-linejoin="round" stroke-linecap="round"/>
<path d="M557 977.5L608.5 972.4 630.7 969.4 677.9 966.2 684.7 966.9 689.6 968.4 694.1 970.7 699 974.5" fill="none" stroke="#8b1c1c" stroke-width="1.8" stroke-linejoin="round" stroke-linecap="round"/>
<path d="M738.3 1055.5L746.1 1057.9 750 1059.7 754.4 1062.5 762.5 1068.7 766.6 1072.8 771.3 1076.9 793.7 1094.6 799.2 1099.4 803.8 1104.1 808.8 1110.7 813.9 1118.8" fill="none" stroke="#1414be" stroke-width="3.5" stroke-linejoin="round" stroke-linecap="round"/>
<path d="M710.5 1118.1L715.4 1111 717.8 1108 720 1105.9 722.2 1104.2 726.8 1101.7 731.4 1100.3 733.9 1100 742.2 1100.5 746.1 1101.3 750 1102.6 756.6 1106.8 762.5 1111.6 767 1115.7" fill="none" stroke="#1414be" stroke-width="4" stroke-linejoin="round" stroke-linecap="round"/>
<path d="M687.5 1120.5L722.5 1070 727.6 1064.1 736.8 1056.2" fill="none" stroke="#1414be" stroke-width="2.5" stroke-linejoin="round" stroke-linecap="round"/>
<path d="M726.8 1120.5L731.1 1114 734 1110.4 736.8 1108.9 738.8 1109.9 741 1112.4 746.4 1120.5" fill="none" stroke="#2a9a2a" stroke-width="2" stroke-linejoin="round" stroke-linecap="round"/>
<path d="M815.1 1057.9L819.2 1058.5 821.2 1059.3 825 1062.5 831.2 1069.4 843.6 1086.1 851.9 1096.4 857.9 1102.7 863.6 1107.2 869.9 1110.7 875.8 1112.7 892.4 1115.2 907.1 1118.4 910.9 1120.3 916.9 1125" fill="none" stroke="#2a9a2a" stroke-width="2" stroke-linejoin="round" stroke-linecap="round"/>
<path d="M686 601L699 621L707 628L719 625L738 619L752 618L762 607L764 601Z" fill="#1414be" stroke="#0c0c86" stroke-width="1.5"/>
</g>
<g clip-path="url(#cl_d2)">
<path d="M987.5 682.2L1025.7 674.6 1029.9 674 1034 673.9 1040.9 675 1045.6 676.6 1052.5 680.5 1057.2 684.2 1061.8 689.2 1073.7 703.8 1093.2 726.1 1100.3 732.8 1109.9 740.6 1114.1 744.4 1121.4 752 1125.6 757.5 1129.9 765 1132.1 769.7 1149.2 812.1 1162.2 841.8 1164.1 845.5 1166.4 845.9 1168.2 843.6 1170.3 839.3 1176.2 825.5 1181.6 817.5 1183.9 812.6 1187 806.6 1190.1 802.3 1195.8 795.2 1203.6 787 1211.3 780.1 1219.5 774.1 1226.4 769.8 1231.8 767.1 1238.5 765.1 1244.3 764.3 1251.3 763.9 1261.2 764 1317.1 766.1 1323.1 766 1326.2 765.5 1328.5 764.8 1330.2 763.6 1333.1 760.6 1335.2 757.8 1338.5 752.3 1346.1 737.1 1360.9 703.5 1364.3 697.4 1368.5 692.5 1372.9 688.8 1377.5 685.8 1383 683 1386.3 682 1390.5 681.6 1397.4 681.7 1414 683.5" fill="none" stroke="#4d4d6b" stroke-width="1.15" stroke-linejoin="round" stroke-linecap="round"/>
<path d="M987 622.7L1004 634.2 1014.1 641.6 1021 647.7 1034.9 660.9 1041.1 666 1046.7 669.1 1060.2 673.5 1063.5 675.7 1065.5 677.6 1068.2 679.5 1081.8 684.9 1084.6 686.5 1099.6 697.4 1106 701.7 1108.8 699.8 1122.7 694.2 1127.6 693 1132.5 693 1139.4 694.4 1146.2 696.6 1157.2 702.5 1161.3 705.4 1163.3 706.4 1166.4 706.5 1171.3 705.3 1177.3 702.9 1183.4 699.8 1189.5 695.8 1206.2 681.9 1222.8 667 1250.1 645.1 1256.6 640.9 1262.6 638.5 1269 636.7 1277.3 634.9 1298.7 632.7 1315.2 632.5 1323.1 633.4 1327.1 636.2 1332.7 642.4 1341.4 656 1346.8 663.3 1353.3 670.3 1355.5 672.4 1358.2 673.5 1359.7 673.6 1363.7 672.5 1368.2 670.2 1373 667.1 1377.7 663.2 1383.4 657.1 1395.8 641.2 1403.1 633.6 1414.5 622.4" fill="none" stroke="#4d4d6b" stroke-width="1.15" stroke-linejoin="round" stroke-linecap="round"/>
<path d="M987 607.8L1004 609.6 1009.2 610.6 1014.1 611.8 1020.8 614.8 1032.1 621.4 1036.6 623.7 1041.1 625.4 1043.4 625.9 1050.8 626.6 1066.6 626.5 1071.9 626.9 1073.5 627.4 1078.2 633.3 1082.9 640.1 1090.7 652.5 1095.3 660.5 1102.3 675.3 1111 695.7 1117.7 712.9 1122.2 722.8 1126.6 731.3 1131 738.3 1133.3 740.6 1135.7 741.7 1137.9 741.5 1140.2 740.4 1144.9 736.1 1154.4 724.9 1161.6 713.2 1164 710.4 1166.4 709.3 1168.6 710.1 1171 712.5 1178.9 725.4 1181.6 728.5 1187.1 736.5 1189.4 738.5 1191.7 738.6 1193.5 737.2 1197.4 731.7 1205 716.9 1207.3 711.9 1215.3 691.2 1227 667.6 1234.1 652.1 1240.8 635.4 1243.4 631.6 1245.3 630.1 1247.3 629.3 1256.6 628.8 1287.8 624.2 1295.6 624.1 1309.9 625.6 1316.2 625.9 1323.1 625.7 1329.1 624.6 1340.6 621.5 1346.4 619.3 1350.8 617.3 1356.9 613.3 1369.6 603.6 1373.7 601 1375.8 601.4 1375.6 604.1 1377.7 605.5 1384.8 603.4 1401.8 597.1" fill="none" stroke="#4d4d6b" stroke-width="1.15" stroke-linejoin="round" stroke-linecap="round"/>
<path d="M1149.2 617.2L1159.9 641.6 1164.2 652.7 1166.4 655.1 1168.2 654.7 1170 652.7 1174.1 646.5 1180.8 632.1 1183.5 629.7 1185.4 629.9 1187.5 631.3 1194.3 638.6 1205.6 649.8 1209.8 653.2 1211.6 653.9 1214.5 653 1216.6 649.6 1223.5 635.6 1237.8 603.6" fill="none" stroke="#4d4d6b" stroke-width="1.15" stroke-linejoin="round" stroke-linecap="round"/>
<path d="M1373.7 601L1375.2 599.2 1377.7 598.9 1380.2 599.3 1397.5 603.9 1414.5 609.1" fill="none" stroke="#4d4d6b" stroke-width="1.15" stroke-linejoin="round" stroke-linecap="round"/>
<path d="M987.5 983.8L1005.3 986.5 1019.9 989.4 1024.6 990 1031.8 989.7 1036.1 988.6 1042.9 985.4 1051.8 979.3 1060.9 972.1 1074.2 959.6 1078.7 956.4 1085.9 952.5 1092.4 949.7 1096.9 948 1100.5 947.5 1109.4 948.5 1126.4 951.7 1131.1 953 1133.4 954.3 1136.2 956.8 1138.8 959.9 1152 977.8 1161.5 989.7 1163.9 991.5 1166.5 991.8 1168.2 990.9 1172.1 986.7 1178 978.2 1190.5 961.5 1193.1 959 1198 955.5 1201.9 953.3 1203.8 953.4 1210.4 955.5 1212.8 955.8 1214.9 955.3 1221.8 952.5 1229.8 950.5 1234.2 949.9 1238.3 950 1242.2 950.5 1246.4 952.1 1248.7 953.4 1254.3 957.7 1264.7 966.9 1274.7 975.1 1296.5 991.7 1300.5 994.3 1310.6 999.4 1314.7 1001.1 1318.8 1002.3 1322.9 1002.6 1326.2 1001.4 1329.4 998.9 1335.9 992.6 1342.3 985.6 1346 982.1 1351.4 978.4 1355.8 975.7 1360.5 973.5 1363.9 972.4 1367.3 972 1371.7 972.3 1394.2 977.3 1400.6 978.4 1405.8 978.7 1415 978.4" fill="none" stroke="#4d4d6b" stroke-width="1.15" stroke-linejoin="round" stroke-linecap="round"/>
<path d="M987.5 977.5L1038.8 972.4 1063.1 969.2 1105.6 966.2 1112 966.5 1119.5 968.4 1124 970.7 1126.3 972.2 1128.9 974.5 1131.4 977.3 1138.7 986.5 1149 998.5 1153.9 1003.5 1156 1005.4 1158.3 1006.5 1160.8 1006.7 1166.5 1006.1 1172.1 1008.1 1174.1 1008.4 1176.2 1007.9 1178.2 1006.4 1186.9 995.4 1199.9 981.1 1202.2 979.6 1203.8 979.3 1208.2 975.3 1211 974.9 1212.9 976 1217.2 980.4 1221.8 986.5 1226 993 1234.4 1007.9 1239 1016.8 1243.4 1025.8 1249.6 1041.2 1251.8 1045.8 1254.1 1049 1256.1 1050.4 1258 1050.9 1260 1050.8 1282.6 1044.9 1290.6 1044 1304.5 1043.7 1322.9 1044 1334.9 1043.5 1342.7 1044.2 1352.8 1046.2 1360.6 1049.1 1375 1056.8 1385.8 1063.9 1391.7 1066.9 1399.9 1069.3 1415 1072.3" fill="none" stroke="#4d4d6b" stroke-width="1.15" stroke-linejoin="round" stroke-linecap="round"/>
<path d="M987.5 1072.3L997.8 1067.3 1005.3 1063.3 1012 1058.9 1036.4 1041.1 1043.1 1037.1 1049.8 1034.1 1056.4 1031.8 1060.9 1030.7 1069.8 1029.5 1078.7 1029.4 1092.2 1031 1099.2 1031.3 1103.9 1031.2 1108.5 1030.3 1113.2 1028.1 1122.7 1022.2 1138.7 1013.3 1148.3 1008.7 1155.2 1006.5 1161.6 1005.6 1183.4 1004.3 1202.2 1002.4 1210.4 1002.5 1224.6 1003.4 1234.4 1005.2 1270.5 1016.8 1284.7 1020.5 1298.1 1022.3 1322.9 1024 1336 1025.8 1342 1025.8 1344.8 1025.3 1347.2 1024.5 1351.4 1021.6 1354.7 1018.2 1361.2 1008.9 1365.1 1004.4 1373.6 996.7 1382.8 990.1 1390.8 986.2 1400.6 982.9 1405.8 981.9 1415 981.1" fill="none" stroke="#4d4d6b" stroke-width="1.15" stroke-linejoin="round" stroke-linecap="round"/>
<path d="M1049.8 1122.3L1062.7 1115 1067.6 1111.6 1072 1107.7 1078.7 1101 1087.6 1091.2 1100.9 1074.9 1116.5 1057 1123.2 1050.7 1136.7 1041.6 1141.6 1037.5 1151.2 1027.6 1158.1 1019.5 1160.1 1017.8 1163.3 1016.6 1166.5 1016.9 1170.2 1016.4 1172.3 1016.6 1174.4 1017.8 1176.5 1020.1 1178.8 1023.4 1185.6 1035.4 1192.3 1049 1197.6 1060.7 1199.9 1063.3 1201.7 1064.4 1205.7 1065.3 1214.6 1065 1230.8 1061.6 1243.3 1058.1 1246.9 1058 1249.3 1058.5 1251.3 1059.3 1253.2 1060.6 1257.7 1065.1 1261.3 1069.4 1273.9 1086.1 1282.2 1096.4 1288.3 1102.7 1294 1107.2 1300.3 1110.7 1306.2 1112.7 1322.9 1115.2 1337.5 1118.4 1341.3 1120.3 1347.3 1125" fill="none" stroke="#4d4d6b" stroke-width="1.15" stroke-linejoin="round" stroke-linecap="round"/>
<path d="M1088.9 1120.5L1100.7 1105.4 1105.7 1100 1110.6 1095.5 1117.9 1090.6 1138.7 1082.1 1141.5 1080 1144.1 1076.7 1151.2 1063.3 1153.5 1060.8 1160.7 1056.6 1163.2 1055.5 1166.5 1055.3 1169.8 1055.9 1175.8 1057.9 1179.8 1059.7 1184.2 1062.5 1192.3 1068.7 1196.5 1072.8 1201.2 1076.9 1223.7 1094.6 1229.3 1099.4 1233.8 1104.1 1238.8 1110.7 1245.1 1120.5" fill="none" stroke="#4d4d6b" stroke-width="1.15" stroke-linejoin="round" stroke-linecap="round"/>
<path d="M1117.4 1120.5L1152.3 1070 1157.3 1064.1 1166.5 1056.2" fill="none" stroke="#4d4d6b" stroke-width="1.15" stroke-linejoin="round" stroke-linecap="round"/>
<path d="M1133.4 1120.5L1141 1108.1 1144.1 1104.4 1146.5 1102.6 1151.6 1100.2 1156.5 1099.1 1159.4 1098.9 1166.5 1100" fill="none" stroke="#4d4d6b" stroke-width="1.15" stroke-linejoin="round" stroke-linecap="round"/>
<path d="M1138.7 1120.5L1145.2 1111 1147.6 1108 1149.8 1105.9 1152 1104.2 1156.5 1101.7 1161.1 1100.3 1163.6 1100 1171.9 1100.5 1175.9 1101.3 1179.8 1102.6 1184.2 1105.2 1188.5 1108.5 1194.8 1113.6 1199.9 1118.7" fill="none" stroke="#4d4d6b" stroke-width="1.15" stroke-linejoin="round" stroke-linecap="round"/>
<path d="M1142.3 1104.4L1150.3 1099 1153 1097.6 1155.6 1097.2 1157.9 1097.6 1160.1 1098.2 1166.5 1100.8 1168.4 1100.3 1172.6 1098.2 1176.9 1096.9 1179.8 1097.3 1181.6 1098 1188.3 1101.7 1194.8 1106.4 1199.9 1111.6" fill="none" stroke="#4d4d6b" stroke-width="1.15" stroke-linejoin="round" stroke-linecap="round"/>
<path d="M1156.5 1120.5L1160.8 1114 1163.7 1110.4 1166.5 1108.9 1168.5 1109.9 1170.7 1112.4 1176.2 1120.5" fill="none" stroke="#4d4d6b" stroke-width="1.15" stroke-linejoin="round" stroke-linecap="round"/>
<path d="M1194.8 1091.9L1209.2 1120.5" fill="none" stroke="#4d4d6b" stroke-width="1.15" stroke-linejoin="round" stroke-linecap="round"/>
<path d="M1116.5 601.7L1125.7 613 1131.4 618.5 1136 621.5 1140.7 623.7 1145.6 624.9 1148.1 625 1152.6 624.3 1166.4 618.5 1176.4 615.9 1180 614.7 1181.6 613.8 1184.6 611.4 1191 603.6" fill="none" stroke="#4d4d6b" stroke-width="1.15" stroke-linejoin="round" stroke-linecap="round"/>
<path d="M1120.2 598L1130.1 604.6 1135.4 607.5 1140.6 609.2 1144.7 609.5 1153.5 608.5 1166.4 605.5 1173 603.3 1185.4 598" fill="none" stroke="#4d4d6b" stroke-width="1.15" stroke-linejoin="round" stroke-linecap="round"/>
<path d="M987.5 682.2L1027.8 674.2 1034 673.9 1040.9 675" fill="none" stroke="#1414be" stroke-width="3" stroke-linejoin="round" stroke-linecap="round"/>
<path d="M1377.5 685.8L1383 683 1385.3 682.2 1388.4 681.7 1398.6 681.7 1411.7 683.2" fill="none" stroke="#1414be" stroke-width="3" stroke-linejoin="round" stroke-linecap="round"/>
<path d="M988.3 623.5L1009.2 637.9 1016.3 643.5 1021 647.7" fill="none" stroke="#2a9a2a" stroke-width="2.5" stroke-linejoin="round" stroke-linecap="round"/>
<path d="M988.3 607.9L1004 609.6 1009.2 610.6 1014.1 611.8 1020.8 614.8 1034.4 622.6 1041.1 625.4 1045.9 626.3 1050.8 626.6 1066.6 626.5" fill="none" stroke="#22226e" stroke-width="2.5" stroke-linejoin="round" stroke-linecap="round"/>
<path d="M1292.5 633.5L1298.7 632.7 1303.4 632.5 1315.2 632.5 1321.3 633.1" fill="none" stroke="#22226e" stroke-width="2.5" stroke-linejoin="round" stroke-linecap="round"/>
<path d="M1350.3 666.9L1353.3 670.3 1355.5 672.4 1358.2 673.5 1359.7 673.6 1362.6 672.9 1367.1 670.9 1371.8 667.9 1376.6 664.2" fill="none" stroke="#2a9a2a" stroke-width="3" stroke-linejoin="round" stroke-linecap="round"/>
<path d="M987.5 983.8L1005.3 986.5 1019.9 989.4 1024.6 990 1031.8 989.7 1036.1 988.6 1042.9 985.4 1051.8 979.3 1060.9 972.1 1072 961.5 1076.5 957.9 1083.5 953.7 1094.2 949" fill="none" stroke="#0c0c86" stroke-width="8" stroke-linejoin="round" stroke-linecap="round"/>
<path d="M987.5 983.8L1005.3 986.5 1019.9 989.4 1024.6 990 1031.8 989.7 1036.1 988.6 1042.9 985.4 1051.8 979.3 1060.9 972.1 1072 961.5 1076.5 957.9 1083.5 953.7 1094.2 949" fill="none" stroke="#1414be" stroke-width="5.6" stroke-linejoin="round" stroke-linecap="round"/>
<path d="M1096.9 948L1100.5 947.5 1105 947.9 1120.9 950.7" fill="none" stroke="#1d5a6e" stroke-width="5" stroke-linejoin="round" stroke-linecap="round"/>
<path d="M1123.8 951.3L1128.8 952.2 1131.1 953 1133.4 954.3 1136.2 956.8 1144.1 966.8 1152 977.8 1161.5 989.7 1163.9 991.5 1166.5 991.8 1168.2 990.9 1172.1 986.7 1188.5 963.8 1190.5 961.5 1195.6 957 1201.9 953.3 1203.8 953.4 1210.4 955.5 1212.8 955.8" fill="none" stroke="#1c9c1c" stroke-width="9" stroke-linejoin="round" stroke-linecap="round"/>
<path d="M1123.8 951.3L1128.8 952.2 1131.1 953 1133.4 954.3 1136.2 956.8 1144.1 966.8 1152 977.8 1161.5 989.7 1163.9 991.5 1166.5 991.8 1168.2 990.9 1172.1 986.7 1188.5 963.8 1190.5 961.5 1195.6 957 1201.9 953.3 1203.8 953.4 1210.4 955.5 1212.8 955.8" fill="none" stroke="#2fd42f" stroke-width="6.6" stroke-linejoin="round" stroke-linecap="round"/>
<path d="M1214.9 955.3L1221.8 952.5 1232 950.1 1238.3 950 1242.2 950.5 1244.2 951.1" fill="none" stroke="#1d5a6e" stroke-width="5" stroke-linejoin="round" stroke-linecap="round"/>
<path d="M1246.4 952.1L1252.4 956 1264.7 966.9 1274.7 975.1 1296.5 991.7 1300.5 994.3 1310.6 999.4 1314.7 1001.1 1318.8 1002.3 1322.9 1002.6 1326.2 1001.4 1329.4 998.9 1335.9 992.6 1342.3 985.6 1346 982.1 1351.4 978.4 1355.8 975.7 1360.5 973.5 1363.9 972.4 1367.3 972 1371.7 972.3 1399.6 978.3 1404.5 978.7 1411.7 978.6" fill="none" stroke="#0c0c86" stroke-width="6" stroke-linejoin="round" stroke-linecap="round"/>
<path d="M1246.4 952.1L1252.4 956 1264.7 966.9 1274.7 975.1 1296.5 991.7 1300.5 994.3 1310.6 999.4 1314.7 1001.1 1318.8 1002.3 1322.9 1002.6 1326.2 1001.4 1329.4 998.9 1335.9 992.6 1342.3 985.6 1346 982.1 1351.4 978.4 1355.8 975.7 1360.5 973.5 1363.9 972.4 1367.3 972 1371.7 972.3 1399.6 978.3 1404.5 978.7 1411.7 978.6" fill="none" stroke="#1414be" stroke-width="3.6" stroke-linejoin="round" stroke-linecap="round"/>
<path d="M987.5 977.5L1036.8 972.6 1056.4 969.9 1067.6 968.9" fill="none" stroke="#1d5a6e" stroke-width="4" stroke-linejoin="round" stroke-linecap="round"/>
<path d="M1254.1 1049L1256.1 1050.4 1258 1050.9 1260 1050.8 1282.6 1044.9 1290.6 1044 1304.5 1043.7 1322.9 1044 1334.9 1043.5 1343.8 1044.3 1353.9 1046.5 1361.7 1049.6 1375 1056.8 1385.8 1063.9 1391.7 1066.9 1399.9 1069.3 1411.9 1071.7" fill="none" stroke="#1c9c1c" stroke-width="8" stroke-linejoin="round" stroke-linecap="round"/>
<path d="M1254.1 1049L1256.1 1050.4 1258 1050.9 1260 1050.8 1282.6 1044.9 1290.6 1044 1304.5 1043.7 1322.9 1044 1334.9 1043.5 1343.8 1044.3 1353.9 1046.5 1361.7 1049.6 1375 1056.8 1385.8 1063.9 1391.7 1066.9 1399.9 1069.3 1411.9 1071.7" fill="none" stroke="#2fd42f" stroke-width="5.6" stroke-linejoin="round" stroke-linecap="round"/>
<path d="M987.5 1072.3L997.8 1067.3 1005.3 1063.3 1012 1058.9 1038.6 1039.6 1045.3 1036 1052 1033.2 1060.9 1030.7 1065.3 1029.9 1072 1029.4 1078.7 1029.4 1092.2 1031 1096.8 1031.2" fill="none" stroke="#1c9c1c" stroke-width="9" stroke-linejoin="round" stroke-linecap="round"/>
<path d="M987.5 1072.3L997.8 1067.3 1005.3 1063.3 1012 1058.9 1038.6 1039.6 1045.3 1036 1052 1033.2 1060.9 1030.7 1065.3 1029.9 1072 1029.4 1078.7 1029.4 1092.2 1031 1096.8 1031.2" fill="none" stroke="#2fd42f" stroke-width="6.6" stroke-linejoin="round" stroke-linecap="round"/>
<path d="M1099.2 1031.3L1106.1 1030.9 1110.8 1029.3 1122.7 1022.2 1138.7 1013.3" fill="none" stroke="#0c0c86" stroke-width="9" stroke-linejoin="round" stroke-linecap="round"/>
<path d="M1099.2 1031.3L1106.1 1030.9 1110.8 1029.3 1122.7 1022.2 1138.7 1013.3" fill="none" stroke="#1414be" stroke-width="6.6" stroke-linejoin="round" stroke-linecap="round"/>
<path d="M1141.2 1012L1150.6 1007.8 1155.2 1006.5 1159.4 1005.8 1183.4 1004.3 1202.2 1002.4 1208.3 1002.4 1218.4 1002.9 1226.7 1003.7 1234.4 1005.2 1270.5 1016.8 1284.7 1020.5 1296.1 1022.1 1322.9 1024 1331.4 1025.2" fill="none" stroke="#0c0c86" stroke-width="12" stroke-linejoin="round" stroke-linecap="round"/>
<path d="M1141.2 1012L1150.6 1007.8 1155.2 1006.5 1159.4 1005.8 1183.4 1004.3 1202.2 1002.4 1208.3 1002.4 1218.4 1002.9 1226.7 1003.7 1234.4 1005.2 1270.5 1016.8 1284.7 1020.5 1296.1 1022.1 1322.9 1024 1331.4 1025.2" fill="none" stroke="#1414be" stroke-width="9.6" stroke-linejoin="round" stroke-linecap="round"/>
<path d="M1332.6 1025.4L1338.1 1025.9 1342 1025.8 1346.1 1025 1349.2 1023.3 1353.7 1019.4 1362.4 1007.3 1366 1003.4 1374.8 995.7 1379.4 992.3 1384 989.4 1390.8 986.2 1399.6 983.2 1404.5 982.1 1411.7 981.4" fill="none" stroke="#1d5a6e" stroke-width="4" stroke-linejoin="round" stroke-linecap="round"/>
<path d="M1049.8 1122.3L1060.1 1116.6 1067.6 1111.6" fill="none" stroke="#1d5a6e" stroke-width="5" stroke-linejoin="round" stroke-linecap="round"/>
<path d="M1069.8 1109.7L1076.5 1103.3 1085.3 1093.7 1109.8 1064.4 1118.7 1054.7 1125.5 1049 1138.7 1040.1 1146.7 1032.4 1158.1 1019.5 1160.1 1017.8 1163.3 1016.6 1166.5 1016.9 1170.2 1016.4 1172.3 1016.6 1174.4 1017.8 1176.5 1020.1 1181.1 1027.2 1185.6 1035.4 1192.3 1049 1197.6 1060.7 1199.9 1063.3 1201.7 1064.4 1203.6 1065" fill="none" stroke="#0c0c86" stroke-width="9" stroke-linejoin="round" stroke-linecap="round"/>
<path d="M1069.8 1109.7L1076.5 1103.3 1085.3 1093.7 1109.8 1064.4 1118.7 1054.7 1125.5 1049 1138.7 1040.1 1146.7 1032.4 1158.1 1019.5 1160.1 1017.8 1163.3 1016.6 1166.5 1016.9 1170.2 1016.4 1172.3 1016.6 1174.4 1017.8 1176.5 1020.1 1181.1 1027.2 1185.6 1035.4 1192.3 1049 1197.6 1060.7 1199.9 1063.3 1201.7 1064.4 1203.6 1065" fill="none" stroke="#1414be" stroke-width="6.6" stroke-linejoin="round" stroke-linecap="round"/>
<path d="M1205.7 1065.3L1212.8 1065.1 1218.5 1064.3 1232.9 1061 1243.3 1058.1 1246.9 1058 1249.3 1058.5 1251.3 1059.3" fill="none" stroke="#1c9c1c" stroke-width="8" stroke-linejoin="round" stroke-linecap="round"/>
<path d="M1205.7 1065.3L1212.8 1065.1 1218.5 1064.3 1232.9 1061 1243.3 1058.1 1246.9 1058 1249.3 1058.5 1251.3 1059.3" fill="none" stroke="#2fd42f" stroke-width="5.6" stroke-linejoin="round" stroke-linecap="round"/>
<path d="M1088.9 1120.5L1100.7 1105.4 1105.7 1100 1110.6 1095.5 1117.9 1090.6 1138.7 1082.1 1141.5 1080 1144.1 1076.7" fill="none" stroke="#1c9c1c" stroke-width="9" stroke-linejoin="round" stroke-linecap="round"/>
<path d="M1088.9 1120.5L1100.7 1105.4 1105.7 1100 1110.6 1095.5 1117.9 1090.6 1138.7 1082.1 1141.5 1080 1144.1 1076.7" fill="none" stroke="#2fd42f" stroke-width="6.6" stroke-linejoin="round" stroke-linecap="round"/>
<path d="M1146.3 1072.6L1148.7 1067.5 1151.2 1063.3 1153.5 1060.8 1160.7 1056.6 1163.2 1055.5 1166.5 1055.3 1171.8 1056.5 1177.8 1058.8 1184.2 1062.5 1190.5 1067.2 1194 1070.2 1196.5 1072.8 1199.9 1075.8 1219.4 1091.1 1229.3 1099.4 1233.8 1104.1 1236.5 1107.5 1244 1118.8" fill="none" stroke="#0c0c86" stroke-width="12" stroke-linejoin="round" stroke-linecap="round"/>
<path d="M1146.3 1072.6L1148.7 1067.5 1151.2 1063.3 1153.5 1060.8 1160.7 1056.6 1163.2 1055.5 1166.5 1055.3 1171.8 1056.5 1177.8 1058.8 1184.2 1062.5 1190.5 1067.2 1194 1070.2 1196.5 1072.8 1199.9 1075.8 1219.4 1091.1 1229.3 1099.4 1233.8 1104.1 1236.5 1107.5 1244 1118.8" fill="none" stroke="#1414be" stroke-width="9.6" stroke-linejoin="round" stroke-linecap="round"/>
<path d="M1117.4 1120.5L1152.3 1070 1157.3 1064.1 1166.5 1056.2" fill="none" stroke="#0c0c86" stroke-width="6" stroke-linejoin="round" stroke-linecap="round"/>
<path d="M1117.4 1120.5L1152.3 1070 1157.3 1064.1 1166.5 1056.2" fill="none" stroke="#1414be" stroke-width="3.6" stroke-linejoin="round" stroke-linecap="round"/>
<path d="M1156.5 1120.5L1160.8 1114 1163.7 1110.4 1166.5 1108.9 1168.5 1109.9 1170.7 1112.4 1176.2 1120.5" fill="none" stroke="#1c9c1c" stroke-width="9" stroke-linejoin="round" stroke-linecap="round"/>
<path d="M1156.5 1120.5L1160.8 1114 1163.7 1110.4 1166.5 1108.9 1168.5 1109.9 1170.7 1112.4 1176.2 1120.5" fill="none" stroke="#2fd42f" stroke-width="6.6" stroke-linejoin="round" stroke-linecap="round"/>
<path d="M1142.3 1104.4L1150.3 1099 1153 1097.6 1155.6 1097.2 1157.9 1097.6 1160.1 1098.2 1166.5 1100.8 1168.4 1100.3 1172.6 1098.2 1176.9 1096.9 1179.8 1097.3 1181.6 1098 1188.3 1101.7 1194.8 1106.4 1198.6 1110.3" fill="none" stroke="#2fd42f" stroke-width="3" stroke-linejoin="round" stroke-linecap="round"/>
<path d="M1133.4 1120.5L1141 1108.1 1144.1 1104.4 1146.5 1102.6 1151.6 1100.2 1156.5 1099.1 1159.4 1098.9 1166.5 1100" fill="none" stroke="#22226e" stroke-width="2" stroke-linejoin="round" stroke-linecap="round"/>
</g>
<g clip-path="url(#cl_d3)">
<path d="M1417.1 682.2L1455.4 674.6 1459.6 674 1463.7 673.9 1470.6 675 1475.3 676.6 1482.3 680.5 1487 684.2 1491.6 689.2 1503.5 703.8 1523.1 726.1 1530.2 732.8 1539.7 740.6 1544 744.4 1551.3 752 1555.5 757.5 1559.9 765 1562 769.7 1579.1 812.1 1592.2 841.8 1594 845.5 1596.4 845.9 1598.2 843.6 1600.2 839.3 1606.1 825.5 1611.5 817.5 1613.7 812.6 1616.9 806.6 1619.9 802.3 1625.5 795.2 1633.3 787 1641 780.1 1649.1 774.1 1655.9 769.8 1661.2 767.1 1667.9 765.1 1673.6 764.3 1680.6 763.9 1690.4 764 1745.8 766.1 1751.8 766 1755 765.5 1757.2 764.8 1759 763.6 1761.9 760.6 1764 757.8 1767.2 752.3 1774.9 737.1 1789.7 703.5 1793.2 697.4 1797.4 692.5 1801.9 688.8 1806.5 685.8 1812 683 1815.3 682 1819.5 681.6 1826.4 681.7 1843.1 683.5" fill="none" stroke="#4d4d6b" stroke-width="1.15" stroke-linejoin="round" stroke-linecap="round"/>
<path d="M1416.6 622.7L1433.7 634.2 1443.7 641.6 1450.7 647.7 1464.6 660.9 1470.8 666 1476.5 669.1 1490 673.5 1493.3 675.7 1495.3 677.6 1498 679.5 1511.6 684.9 1514.4 686.5 1529.5 697.4 1535.9 701.7 1538.7 699.8 1552.6 694.2 1557.5 693 1562.4 693 1569.4 694.4 1576.2 696.6 1587.2 702.5 1591.3 705.4 1593.3 706.4 1596.4 706.5 1601.3 705.3 1607.2 702.9 1613.3 699.8 1619.3 695.8 1635.8 681.9 1652.4 667 1679.4 645.1 1685.8 640.9 1691.8 638.5 1698.2 636.7 1706.4 634.9 1727.6 632.7 1744 632.5 1751.8 633.4 1755.8 636.2 1761.5 642.4 1770.2 656 1775.6 663.3 1782.1 670.3 1784.4 672.4 1787 673.5 1788.5 673.6 1792.5 672.5 1797.1 670.2 1802 667.1 1806.7 663.2 1812.3 657.1 1824.8 641.2 1832.2 633.6 1843.6 622.4" fill="none" stroke="#4d4d6b" stroke-width="1.15" stroke-linejoin="round" stroke-linecap="round"/>
<path d="M1416.6 607.8L1433.7 609.6 1438.9 610.6 1443.7 611.8 1450.5 614.8 1461.8 621.4 1466.3 623.7 1470.8 625.4 1473.2 625.9 1480.6 626.6 1496.4 626.5 1501.7 626.9 1503.3 627.4 1508.1 633.3 1512.7 640.1 1520.5 652.5 1525.1 660.5 1532.2 675.3 1540.9 695.7 1547.6 712.9 1552.1 722.8 1556.5 731.3 1560.9 738.3 1563.2 740.6 1565.6 741.7 1567.8 741.5 1570.1 740.4 1574.8 736.1 1584.3 724.9 1591.6 713.2 1594 710.4 1596.4 709.3 1598.6 710.1 1600.9 712.5 1608.8 725.4 1611.5 728.5 1616.9 736.5 1619.2 738.5 1621.5 738.6 1623.3 737.2 1627.1 731.7 1634.7 716.9 1637 711.9 1644.9 691.2 1656.5 667.6 1663.5 652.1 1670.2 635.4 1672.8 631.6 1674.7 630.1 1676.7 629.3 1685.8 628.8 1716.8 624.2 1724.5 624.1 1738.7 625.6 1745 625.9 1751.8 625.7 1757.9 624.6 1769.4 621.5 1775.2 619.3 1779.6 617.3 1785.8 613.3 1798.5 603.6 1802.6 601 1804.7 601.4 1804.6 604.1 1806.7 605.5 1813.7 603.4 1830.9 597.1" fill="none" stroke="#4d4d6b" stroke-width="1.15" stroke-linejoin="round" stroke-linecap="round"/>
<path d="M1579.1 617.2L1589.9 641.6 1594.2 652.7 1596.4 655.1 1598.1 654.7 1600 652.7 1604.1 646.5 1610.7 632.1 1613.3 629.7 1615.3 629.9 1617.3 631.3 1624 638.6 1635.3 649.8 1639.5 653.2 1641.2 653.9 1644.1 653 1646.2 649.6 1653 635.6 1667.2 603.6" fill="none" stroke="#4d4d6b" stroke-width="1.15" stroke-linejoin="round" stroke-linecap="round"/>
<path d="M1802.6 601L1804.1 599.2 1806.7 598.9 1809.1 599.3 1826.5 603.9 1843.6 609.1" fill="none" stroke="#4d4d6b" stroke-width="1.15" stroke-linejoin="round" stroke-linecap="round"/>
<path d="M1417.1 983.8L1434.9 986.5 1449.6 989.4 1454.2 990 1461.5 989.7 1465.8 988.6 1472.6 985.4 1481.6 979.3 1490.6 972.1 1504 959.6 1508.5 956.4 1515.7 952.5 1522.3 949.7 1526.7 948 1530.3 947.5 1539.3 948.5 1556.3 951.7 1561 953 1563.3 954.3 1566.1 956.8 1568.8 959.9 1582 977.8 1591.5 989.7 1593.9 991.5 1596.5 991.8 1598.2 990.9 1602 986.7 1607.9 978.2 1620.3 961.5 1622.9 959 1627.7 955.5 1631.6 953.3 1633.5 953.4 1640.1 955.5 1642.4 955.8 1644.5 955.3 1651.3 952.5 1659.3 950.5 1663.6 949.9 1667.7 950 1671.6 950.5 1675.7 952.1 1678.1 953.4 1683.6 957.7 1693.9 966.9 1703.8 975.1 1725.4 991.7 1729.4 994.3 1739.4 999.4 1743.4 1001.1 1747.5 1002.3 1751.6 1002.6 1754.9 1001.4 1758.1 998.9 1764.7 992.6 1771.1 985.6 1774.8 982.1 1780.2 978.4 1784.7 975.7 1789.4 973.5 1792.8 972.4 1796.2 972 1800.6 972.3 1823.2 977.3 1829.7 978.4 1834.8 978.7 1844.1 978.4" fill="none" stroke="#4d4d6b" stroke-width="1.15" stroke-linejoin="round" stroke-linecap="round"/>
<path d="M1417.1 977.5L1468.5 972.4 1492.9 969.2 1535.5 966.2 1541.9 966.5 1549.4 968.4 1553.9 970.7 1556.2 972.2 1558.8 974.5 1561.3 977.3 1568.7 986.5 1579 998.5 1583.9 1003.5 1586 1005.4 1588.3 1006.5 1590.8 1006.7 1596.5 1006.1 1602 1008.1 1604.1 1008.4 1606.1 1007.9 1608.1 1006.4 1616.8 995.4 1629.6 981.1 1631.9 979.6 1633.5 979.3 1637.9 975.3 1640.6 974.9 1642.5 976 1646.8 980.4 1651.3 986.5 1655.5 993 1668.4 1016.8 1672.7 1025.8 1678.9 1041.2 1681.1 1045.8 1683.4 1049 1685.3 1050.4 1687.2 1050.9 1689.2 1050.8 1711.7 1044.9 1719.5 1044 1733.4 1043.7 1751.6 1044 1763.6 1043.5 1771.5 1044.2 1781.6 1046.2 1789.5 1049.1 1804 1056.8 1814.7 1063.9 1820.7 1066.9 1829 1069.3 1844.1 1072.3" fill="none" stroke="#4d4d6b" stroke-width="1.15" stroke-linejoin="round" stroke-linecap="round"/>
<path d="M1417.1 1072.3L1427.5 1067.3 1434.9 1063.3 1441.6 1058.9 1466.1 1041.1 1472.8 1037.1 1479.5 1034.1 1486.2 1031.8 1490.6 1030.7 1499.6 1029.5 1508.5 1029.4 1522 1031 1529.1 1031.3 1533.7 1031.2 1538.3 1030.3 1543 1028.1 1552.6 1022.2 1568.7 1013.3 1578.3 1008.7 1585.2 1006.5 1591.6 1005.6 1613.2 1004.3 1631.9 1002.4 1640 1002.5 1654.1 1003.4 1663.9 1005.2 1699.6 1016.8 1713.7 1020.5 1727 1022.3 1751.6 1024 1764.7 1025.8 1770.7 1025.8 1773.6 1025.3 1776 1024.5 1780.2 1021.6 1783.5 1018.2 1790.1 1008.9 1793.9 1004.4 1802.5 996.7 1811.8 990.1 1819.8 986.2 1829.7 982.9 1834.8 981.9 1844.1 981.1" fill="none" stroke="#4d4d6b" stroke-width="1.15" stroke-linejoin="round" stroke-linecap="round"/>
<path d="M1479.5 1122.3L1492.5 1115 1497.3 1111.6 1501.8 1107.7 1508.5 1101 1517.4 1091.2 1530.8 1074.9 1546.4 1057 1553.1 1050.7 1566.7 1041.6 1571.6 1037.5 1581.1 1027.6 1588.1 1019.5 1590.1 1017.8 1593.3 1016.6 1596.5 1016.9 1600.2 1016.4 1602.2 1016.6 1604.3 1017.8 1606.5 1020.1 1608.7 1023.4 1615.5 1035.4 1622.1 1049 1627.4 1060.7 1629.6 1063.3 1631.4 1064.4 1635.4 1065.3 1644.2 1065 1660.2 1061.6 1672.7 1058.1 1676.3 1058 1678.6 1058.5 1680.6 1059.3 1682.4 1060.6 1687 1065.1 1690.5 1069.4 1703 1086.1 1711.2 1096.4 1717.3 1102.7 1722.9 1107.2 1729.1 1110.7 1735 1112.7 1751.6 1115.2 1766.3 1118.4 1770.1 1120.3 1776.1 1125" fill="none" stroke="#4d4d6b" stroke-width="1.15" stroke-linejoin="round" stroke-linecap="round"/>
<path d="M1518.7 1120.5L1530.6 1105.4 1535.6 1100 1540.4 1095.5 1547.8 1090.6 1568.7 1082.1 1571.4 1080 1574 1076.7 1581.1 1063.3 1583.5 1060.8 1590.7 1056.6 1593.2 1055.5 1596.5 1055.3 1599.8 1055.9 1605.8 1057.9 1609.7 1059.7 1614 1062.5 1622.1 1068.7 1626.2 1072.8 1630.9 1076.9 1653.2 1094.6 1658.7 1099.4 1663.3 1104.1 1668.2 1110.7 1674.5 1120.5" fill="none" stroke="#4d4d6b" stroke-width="1.15" stroke-linejoin="round" stroke-linecap="round"/>
<path d="M1547.3 1120.5L1582.3 1070 1587.3 1064.1 1596.5 1056.2" fill="none" stroke="#4d4d6b" stroke-width="1.15" stroke-linejoin="round" stroke-linecap="round"/>
<path d="M1563.3 1120.5L1571 1108.1 1574 1104.4 1576.4 1102.6 1581.6 1100.2 1586.5 1099.1 1589.4 1098.9 1596.5 1100" fill="none" stroke="#4d4d6b" stroke-width="1.15" stroke-linejoin="round" stroke-linecap="round"/>
<path d="M1568.7 1120.5L1575.1 1111 1577.6 1108 1579.8 1105.9 1582 1104.2 1586.5 1101.7 1591.1 1100.3 1593.6 1100 1601.8 1100.5 1605.8 1101.3 1609.7 1102.6 1614 1105.2 1618.4 1108.5 1624.5 1113.6 1629.6 1118.7" fill="none" stroke="#4d4d6b" stroke-width="1.15" stroke-linejoin="round" stroke-linecap="round"/>
<path d="M1572.2 1104.4L1580.2 1099 1582.9 1097.6 1585.6 1097.2 1587.9 1097.6 1590.1 1098.2 1596.5 1100.8 1598.4 1100.3 1602.5 1098.2 1606.8 1096.9 1609.7 1097.3 1611.5 1098 1618.1 1101.7 1624.5 1106.4 1629.6 1111.6" fill="none" stroke="#4d4d6b" stroke-width="1.15" stroke-linejoin="round" stroke-linecap="round"/>
<path d="M1586.5 1120.5L1590.8 1114 1593.7 1110.4 1596.5 1108.9 1598.5 1109.9 1600.7 1112.4 1606.1 1120.5" fill="none" stroke="#4d4d6b" stroke-width="1.15" stroke-linejoin="round" stroke-linecap="round"/>
<path d="M1624.6 1091.9L1638.9 1120.5" fill="none" stroke="#4d4d6b" stroke-width="1.15" stroke-linejoin="round" stroke-linecap="round"/>
<path d="M1546.4 601.7L1555.6 613 1561.3 618.5 1565.9 621.5 1570.6 623.7 1575.5 624.9 1578 625 1582.5 624.3 1596.4 618.5 1606.3 615.9 1609.9 614.7 1611.5 613.8 1614.4 611.4 1620.8 603.6" fill="none" stroke="#4d4d6b" stroke-width="1.15" stroke-linejoin="round" stroke-linecap="round"/>
<path d="M1550.1 598L1560 604.6 1565.3 607.5 1570.6 609.2 1574.6 609.5 1583.4 608.5 1596.4 605.5 1602.9 603.3 1615.2 598" fill="none" stroke="#4d4d6b" stroke-width="1.15" stroke-linejoin="round" stroke-linecap="round"/>
<path d="M1417.1 682.2L1457.5 674.2 1463.7 673.9 1470.6 675" fill="none" stroke="#22226e" stroke-width="2.5" stroke-linejoin="round" stroke-linecap="round"/>
<path d="M1806.5 685.8L1812 683 1814.2 682.2 1817.4 681.7 1827.6 681.7 1840.8 683.2" fill="none" stroke="#1414be" stroke-width="3" stroke-linejoin="round" stroke-linecap="round"/>
<path d="M1779.1 666.9L1783.2 671.4 1785.7 673.1 1787 673.5 1789.5 673.4 1792.5 672.5 1795.9 670.9 1800.8 667.9 1805.5 664.2 1809 661 1824.8 641.2 1841.4 624.6" fill="none" stroke="#2a9a2a" stroke-width="3" stroke-linejoin="round" stroke-linecap="round"/>
<path d="M1417.1 983.8L1434.9 986.5 1452 989.7 1459.1 990 1463.7 989.3 1468.1 987.7 1472.6 985.4 1479.3 981" fill="none" stroke="#0c0c86" stroke-width="5" stroke-linejoin="round" stroke-linecap="round"/>
<path d="M1417.1 983.8L1434.9 986.5 1452 989.7 1459.1 990 1463.7 989.3 1468.1 987.7 1472.6 985.4 1479.3 981" fill="none" stroke="#1414be" stroke-width="2.6" stroke-linejoin="round" stroke-linecap="round"/>
<path d="M1490.6 969.4L1535.5 966.2 1541.9 966.5" fill="none" stroke="#1d5a6e" stroke-width="4" stroke-linejoin="round" stroke-linecap="round"/>
<path d="M1544.5 966.9L1549.4 968.4 1551.7 969.4 1556.2 972.2 1558.8 974.5 1579 998.5 1583.9 1003.5 1586 1005.4 1588.3 1006.5 1590.8 1006.7 1596.5 1006.1 1602 1008.1 1604.1 1008.4 1606.1 1007.9 1608.1 1006.4 1616.8 995.4 1629.6 981.1 1631.9 979.6 1633.5 979.3 1637.9 975.3 1640.6 974.9 1642.5 976" fill="none" stroke="#1c9c1c" stroke-width="9" stroke-linejoin="round" stroke-linecap="round"/>
<path d="M1544.5 966.9L1549.4 968.4 1551.7 969.4 1556.2 972.2 1558.8 974.5 1579 998.5 1583.9 1003.5 1586 1005.4 1588.3 1006.5 1590.8 1006.7 1596.5 1006.1 1602 1008.1 1604.1 1008.4 1606.1 1007.9 1608.1 1006.4 1616.8 995.4 1629.6 981.1 1631.9 979.6 1633.5 979.3 1637.9 975.3 1640.6 974.9 1642.5 976" fill="none" stroke="#2fd42f" stroke-width="6.6" stroke-linejoin="round" stroke-linecap="round"/>
<path d="M1651.3 952.5L1659.3 950.5 1663.6 949.9 1669.7 950.2 1673.6 951.1 1678.1 953.4 1681.7 956 1695.9 968.6" fill="none" stroke="#2a9a2a" stroke-width="3" stroke-linejoin="round" stroke-linecap="round"/>
<path d="M1761.4 995.7L1765.8 991.5 1772.3 984.4 1776.1 981.1 1781.3 977.7 1785.8 975.1 1789.4 973.5 1792.8 972.4 1796.2 972 1800.6 972.3 1828.6 978.3 1833.5 978.7 1840.8 978.6" fill="none" stroke="#1414be" stroke-width="4" stroke-linejoin="round" stroke-linecap="round"/>
<path d="M1588.1 1019.5L1590.1 1017.8 1593.3 1016.6 1596.5 1016.9 1600.2 1016.4 1602.2 1016.6" fill="none" stroke="#1c9c1c" stroke-width="10" stroke-linejoin="round" stroke-linecap="round"/>
<path d="M1588.1 1019.5L1590.1 1017.8 1593.3 1016.6 1596.5 1016.9 1600.2 1016.4 1602.2 1016.6" fill="none" stroke="#2fd42f" stroke-width="7.6" stroke-linejoin="round" stroke-linecap="round"/>
<path d="M1417.1 1072.3L1427.5 1067.3 1434.9 1063.3 1441.6 1058.9 1466.1 1041.1 1472.8 1037.1 1479.5 1034.1" fill="none" stroke="#22226e" stroke-width="3" stroke-linejoin="round" stroke-linecap="round"/>
<path d="M1481.7 1033.2L1490.6 1030.7 1499.6 1029.5 1508.5 1029.4 1522 1031 1531.4 1031.3 1536 1030.9 1540.7 1029.3" fill="none" stroke="#2a9a2a" stroke-width="4" stroke-linejoin="round" stroke-linecap="round"/>
<path d="M1769.8 1025.9L1773.6 1025.3 1776 1024.5 1780.2 1021.6 1783.5 1018.2 1790.1 1008.9 1793.9 1004.4 1802.5 996.7 1810.7 990.8 1817.5 987.1 1825.4 984.2 1832.2 982.3 1840.8 981.4" fill="none" stroke="#2a9a2a" stroke-width="3" stroke-linejoin="round" stroke-linecap="round"/>
<path d="M1613.2 1031.2L1622.1 1049 1627.4 1060.7 1629.6 1063.3 1631.4 1064.4 1633.3 1065 1637.6 1065.4 1646.1 1064.7 1662.4 1061 1670.7 1058.5 1674.5 1057.9 1678.6 1058.5 1680.6 1059.3" fill="none" stroke="#1c9c1c" stroke-width="6" stroke-linejoin="round" stroke-linecap="round"/>
<path d="M1613.2 1031.2L1622.1 1049 1627.4 1060.7 1629.6 1063.3 1631.4 1064.4 1633.3 1065 1637.6 1065.4 1646.1 1064.7 1662.4 1061 1670.7 1058.5 1674.5 1057.9 1678.6 1058.5 1680.6 1059.3" fill="none" stroke="#2fd42f" stroke-width="3.6" stroke-linejoin="round" stroke-linecap="round"/>
<path d="M1683.4 1049L1685.3 1050.4 1687.2 1050.9 1689.2 1050.8 1713.7 1044.6 1721.5 1043.9 1731.5 1043.7 1751.6 1044 1762.5 1043.5 1767.2 1043.7 1778.2 1045.4 1782.8 1046.5 1787.3 1048.1" fill="none" stroke="#2a9a2a" stroke-width="4" stroke-linejoin="round" stroke-linecap="round"/>
<path d="M1788.4 1048.6L1793.9 1051.3 1804 1056.8 1814.7 1063.9 1819.5 1066.4 1827.7 1069 1841 1071.7" fill="none" stroke="#22226e" stroke-width="3" stroke-linejoin="round" stroke-linecap="round"/>
<path d="M1568.7 1120.5L1575.1 1111 1577.6 1108 1579.8 1105.9 1582 1104.2 1586.5 1101.7 1591.1 1100.3 1593.6 1100 1601.8 1100.5 1605.8 1101.3 1609.7 1102.6 1614 1105.2 1618.4 1108.5 1624.5 1113.6 1628.4 1117.5" fill="none" stroke="#0c0c86" stroke-width="13" stroke-linejoin="round" stroke-linecap="round"/>
<path d="M1568.7 1120.5L1575.1 1111 1577.6 1108 1579.8 1105.9 1582 1104.2 1586.5 1101.7 1591.1 1100.3 1593.6 1100 1601.8 1100.5 1605.8 1101.3 1609.7 1102.6 1614 1105.2 1618.4 1108.5 1624.5 1113.6 1628.4 1117.5" fill="none" stroke="#1414be" stroke-width="10.6" stroke-linejoin="round" stroke-linecap="round"/>
<path d="M1572.2 1104.4L1580.2 1099 1582.9 1097.6 1585.6 1097.2 1587.9 1097.6 1590.1 1098.2 1596.5 1100.8 1598.4 1100.3 1602.5 1098.2 1606.8 1096.9 1609.7 1097.3 1611.5 1098 1618.1 1101.7 1624.5 1106.4 1628.4 1110.3" fill="none" stroke="#0c0c86" stroke-width="8" stroke-linejoin="round" stroke-linecap="round"/>
<path d="M1572.2 1104.4L1580.2 1099 1582.9 1097.6 1585.6 1097.2 1587.9 1097.6 1590.1 1098.2 1596.5 1100.8 1598.4 1100.3 1602.5 1098.2 1606.8 1096.9 1609.7 1097.3 1611.5 1098 1618.1 1101.7 1624.5 1106.4 1628.4 1110.3" fill="none" stroke="#1414be" stroke-width="5.6" stroke-linejoin="round" stroke-linecap="round"/>
<path d="M1535.6 1100L1540.4 1095.5 1547.8 1090.6 1568.7 1082.1" fill="none" stroke="#22226e" stroke-width="3" stroke-linejoin="round" stroke-linecap="round"/>
</g>
<rect x="315.9" y="23.1" width="186.6" height="63" fill="#fff" stroke="#333" stroke-width="1.5"/>
<circle cx="319.4" cy="40.1" r="3.8" fill="#d8141c"/>
<circle cx="336.5" cy="40.1" r="3.8" fill="#d8141c"/>
<circle cx="353.6" cy="40.1" r="3.8" fill="#d8141c"/>
<circle cx="370.7" cy="40.1" r="3.8" fill="#d8141c"/>
<line x1="318.4" y1="69.6" x2="373.9" y2="69.6" stroke="#1e7b1e" stroke-width="4" />
<text x="379.9" y="48" font-size="23" style="font-family:'Liberation Serif','Times New Roman',serif;font-weight:bold" fill="#000" text-anchor="start" >PBE</text>
<text x="379.9" y="77" font-size="23" style="font-family:'Liberation Serif','Times New Roman',serif;font-weight:bold" fill="#000" text-anchor="start" >PBE + SOC</text>
<rect x="318.3" y="602.4" width="187.9" height="61.7" fill="#fff" stroke="#333" stroke-width="1.5"/>
<circle cx="321.8" cy="618.2" r="3.8" fill="#d8141c"/>
<circle cx="338.9" cy="618.2" r="3.8" fill="#d8141c"/>
<circle cx="356" cy="618.2" r="3.8" fill="#d8141c"/>
<circle cx="373.1" cy="618.2" r="3.8" fill="#d8141c"/>
<line x1="320.8" y1="648.2" x2="376.3" y2="648.2" stroke="#1e7b1e" stroke-width="4" />
<text x="382.3" y="625.5" font-size="23" style="font-family:'Liberation Serif','Times New Roman',serif;font-weight:bold" fill="#000" text-anchor="start" >PBE</text>
<text x="382.3" y="655.5" font-size="23" style="font-family:'Liberation Serif','Times New Roman',serif;font-weight:bold" fill="#000" text-anchor="start" >PBE + SOC</text>
<rect x="223.6" y="346.7" width="86.5" height="53.1" fill="none" stroke="#7030a0" stroke-width="3.6" stroke-dasharray="16 14"/>
<rect x="223.6" y="924.6" width="98.4" height="62.9" fill="none" stroke="#7030a0" stroke-width="3.6" stroke-dasharray="16 14"/>
<line x1="272.7" y1="20.8" x2="272.7" y2="547" stroke="#000" stroke-width="2.6" stroke-dasharray="8.5 4.5"/>
<line x1="421.7" y1="20.8" x2="421.7" y2="547" stroke="#000" stroke-width="2.6" stroke-dasharray="8.5 4.5"/>
<line x1="102.3" y1="336.5" x2="508.4" y2="336.5" stroke="#000" stroke-width="2.6" stroke-dasharray="8.5 4.5"/>
<line x1="275.8" y1="599.3" x2="275.8" y2="1126.5" stroke="#000" stroke-width="2.6" stroke-dasharray="8.5 4.5"/>
<line x1="426.6" y1="599.3" x2="426.6" y2="1126.5" stroke="#000" stroke-width="2.6" stroke-dasharray="8.5 4.5"/>
<line x1="104.2" y1="915.6" x2="511.2" y2="915.6" stroke="#000" stroke-width="2.6" stroke-dasharray="8.5 4.5"/>
<line x1="735.4" y1="22.4" x2="735.4" y2="545.6" stroke="#000" stroke-width="4" stroke-dasharray="8.5 8.7"/>
<line x1="891.1" y1="22.4" x2="891.1" y2="545.6" stroke="#000" stroke-width="4" stroke-dasharray="8.5 8.7"/>
<line x1="555.9" y1="336.3" x2="981" y2="336.3" stroke="#000" stroke-width="4" stroke-dasharray="9 8.5"/>
<line x1="1164.5" y1="22.4" x2="1164.5" y2="545.6" stroke="#000" stroke-width="4" stroke-dasharray="8.5 8.7"/>
<line x1="1320.2" y1="22.4" x2="1320.2" y2="545.6" stroke="#000" stroke-width="4" stroke-dasharray="8.5 8.7"/>
<line x1="985.4" y1="336.3" x2="1410" y2="336.3" stroke="#000" stroke-width="4" stroke-dasharray="9 8.5"/>
<line x1="1595.6" y1="22.4" x2="1595.6" y2="545.6" stroke="#000" stroke-width="4" stroke-dasharray="8.5 8.7"/>
<line x1="1751.7" y1="22.4" x2="1751.7" y2="545.6" stroke="#000" stroke-width="4" stroke-dasharray="8.5 8.7"/>
<line x1="1416.4" y1="336.3" x2="1841" y2="336.3" stroke="#000" stroke-width="4" stroke-dasharray="9 8.5"/>
<line x1="736.8" y1="601" x2="736.8" y2="1124.5" stroke="#000" stroke-width="4" stroke-dasharray="8.5 8.7"/>
<line x1="892.5" y1="601" x2="892.5" y2="1124.5" stroke="#000" stroke-width="4" stroke-dasharray="8.5 8.7"/>
<line x1="556.9" y1="915.1" x2="982.6" y2="915.1" stroke="#000" stroke-width="4" stroke-dasharray="9 8.5"/>
<line x1="1166.5" y1="601" x2="1166.5" y2="1124.5" stroke="#000" stroke-width="4" stroke-dasharray="8.5 8.7"/>
<line x1="1323" y1="601" x2="1323" y2="1124.5" stroke="#000" stroke-width="4" stroke-dasharray="8.5 8.7"/>
<line x1="987.4" y1="915.1" x2="1412.6" y2="915.1" stroke="#000" stroke-width="4" stroke-dasharray="9 8.5"/>
<line x1="1596.5" y1="601" x2="1596.5" y2="1124.5" stroke="#000" stroke-width="4" stroke-dasharray="8.5 8.7"/>
<line x1="1751.7" y1="601" x2="1751.7" y2="1124.5" stroke="#000" stroke-width="4" stroke-dasharray="8.5 8.7"/>
<line x1="1417" y1="915.1" x2="1841.7" y2="915.1" stroke="#000" stroke-width="4" stroke-dasharray="9 8.5"/>
<rect x="107.7" y="23.6" width="77.4" height="67" fill="#efefef" />
<rect x="558" y="24.7" width="87" height="67.3" fill="#efefef" />
<rect x="105.7" y="602.8" width="79.4" height="61.2" fill="#efefef" />
<rect x="559.3" y="603.4" width="84.2" height="68.9" fill="#efefef" />
<rect x="564.4" y="161.3" width="58.7" height="58.7" fill="#d3d3d3" />
<rect x="995.9" y="160.2" width="41.9" height="57.2" fill="#d3d3d3" />
<rect x="1426.6" y="160.2" width="69.8" height="57.9" fill="#d3d3d3" />
<rect x="564.4" y="740" width="58.7" height="60" fill="#d3d3d3" />
<rect x="995.9" y="740" width="59.1" height="60" fill="#d3d3d3" />
<rect x="1426.6" y="740" width="69.8" height="60" fill="#d3d3d3" />
<rect x="1119.7" y="23.2" width="171.8" height="57.8" fill="#e2efd9" />
<rect x="1119.7" y="602.5" width="171.8" height="61" fill="#e2efd9" />
<rect x="981.5" y="22.4" width="2.5" height="523.2" fill="#454545" />
<rect x="983.4" y="601" width="3.2" height="523.5" fill="#454545" />
<rect x="1413.4" y="601" width="2.8" height="523.5" fill="#454545" />
<rect x="102.3" y="20.8" width="406.1" height="526.2" fill="none" stroke="#000" stroke-width="3.6"/>
<line x1="96.8" y1="126" x2="102.3" y2="126" stroke="#000" stroke-width="3" />
<line x1="502.4" y1="126" x2="508.4" y2="126" stroke="#000" stroke-width="3" />
<line x1="96.8" y1="231.3" x2="102.3" y2="231.3" stroke="#000" stroke-width="3" />
<line x1="502.4" y1="231.3" x2="508.4" y2="231.3" stroke="#000" stroke-width="3" />
<line x1="96.8" y1="336.5" x2="102.3" y2="336.5" stroke="#000" stroke-width="3" />
<line x1="502.4" y1="336.5" x2="508.4" y2="336.5" stroke="#000" stroke-width="3" />
<line x1="96.8" y1="441.8" x2="102.3" y2="441.8" stroke="#000" stroke-width="3" />
<line x1="502.4" y1="441.8" x2="508.4" y2="441.8" stroke="#000" stroke-width="3" />
<line x1="96.8" y1="20.8" x2="102.3" y2="20.8" stroke="#000" stroke-width="3.6" />
<line x1="96.8" y1="547" x2="102.3" y2="547" stroke="#000" stroke-width="3.6" />
<rect x="555.9" y="22.4" width="425.1" height="523.2" fill="none" stroke="#000" stroke-width="3.6"/>
<line x1="555.9" y1="127" x2="569.9" y2="127" stroke="#000" stroke-width="2.6" />
<line x1="967" y1="127" x2="981" y2="127" stroke="#000" stroke-width="2.6" />
<line x1="555.9" y1="231.7" x2="569.9" y2="231.7" stroke="#000" stroke-width="2.6" />
<line x1="967" y1="231.7" x2="981" y2="231.7" stroke="#000" stroke-width="2.6" />
<line x1="555.9" y1="336.3" x2="569.9" y2="336.3" stroke="#000" stroke-width="2.6" />
<line x1="967" y1="336.3" x2="981" y2="336.3" stroke="#000" stroke-width="2.6" />
<line x1="555.9" y1="441" x2="569.9" y2="441" stroke="#000" stroke-width="2.6" />
<line x1="967" y1="441" x2="981" y2="441" stroke="#000" stroke-width="2.6" />
<rect x="985.4" y="22.4" width="424.6" height="523.2" fill="none" stroke="#000" stroke-width="3.6"/>
<line x1="985.4" y1="127" x2="999.4" y2="127" stroke="#000" stroke-width="2.6" />
<line x1="1396" y1="127" x2="1410" y2="127" stroke="#000" stroke-width="2.6" />
<line x1="985.4" y1="231.7" x2="999.4" y2="231.7" stroke="#000" stroke-width="2.6" />
<line x1="1396" y1="231.7" x2="1410" y2="231.7" stroke="#000" stroke-width="2.6" />
<line x1="985.4" y1="336.3" x2="999.4" y2="336.3" stroke="#000" stroke-width="2.6" />
<line x1="1396" y1="336.3" x2="1410" y2="336.3" stroke="#000" stroke-width="2.6" />
<line x1="985.4" y1="441" x2="999.4" y2="441" stroke="#000" stroke-width="2.6" />
<line x1="1396" y1="441" x2="1410" y2="441" stroke="#000" stroke-width="2.6" />
<rect x="1416.4" y="22.4" width="424.6" height="523.2" fill="none" stroke="#000" stroke-width="3.6"/>
<line x1="1416.4" y1="127" x2="1430.4" y2="127" stroke="#000" stroke-width="2.6" />
<line x1="1827" y1="127" x2="1841" y2="127" stroke="#000" stroke-width="2.6" />
<line x1="1416.4" y1="231.7" x2="1430.4" y2="231.7" stroke="#000" stroke-width="2.6" />
<line x1="1827" y1="231.7" x2="1841" y2="231.7" stroke="#000" stroke-width="2.6" />
<line x1="1416.4" y1="336.3" x2="1430.4" y2="336.3" stroke="#000" stroke-width="2.6" />
<line x1="1827" y1="336.3" x2="1841" y2="336.3" stroke="#000" stroke-width="2.6" />
<line x1="1416.4" y1="441" x2="1430.4" y2="441" stroke="#000" stroke-width="2.6" />
<line x1="1827" y1="441" x2="1841" y2="441" stroke="#000" stroke-width="2.6" />
<rect x="104.2" y="599.3" width="407" height="527.2" fill="none" stroke="#000" stroke-width="3.6"/>
<line x1="98.7" y1="704.7" x2="104.2" y2="704.7" stroke="#000" stroke-width="3" />
<line x1="505.2" y1="704.7" x2="511.2" y2="704.7" stroke="#000" stroke-width="3" />
<line x1="98.7" y1="810.2" x2="104.2" y2="810.2" stroke="#000" stroke-width="3" />
<line x1="505.2" y1="810.2" x2="511.2" y2="810.2" stroke="#000" stroke-width="3" />
<line x1="98.7" y1="915.6" x2="104.2" y2="915.6" stroke="#000" stroke-width="3" />
<line x1="505.2" y1="915.6" x2="511.2" y2="915.6" stroke="#000" stroke-width="3" />
<line x1="98.7" y1="1021.1" x2="104.2" y2="1021.1" stroke="#000" stroke-width="3" />
<line x1="505.2" y1="1021.1" x2="511.2" y2="1021.1" stroke="#000" stroke-width="3" />
<line x1="98.7" y1="599.3" x2="104.2" y2="599.3" stroke="#000" stroke-width="3.6" />
<line x1="98.7" y1="1126.5" x2="104.2" y2="1126.5" stroke="#000" stroke-width="3.6" />
<rect x="556.9" y="601" width="425.7" height="523.5" fill="none" stroke="#000" stroke-width="3.6"/>
<line x1="556.9" y1="705.7" x2="570.9" y2="705.7" stroke="#000" stroke-width="2.6" />
<line x1="968.6" y1="705.7" x2="982.6" y2="705.7" stroke="#000" stroke-width="2.6" />
<line x1="556.9" y1="810.4" x2="570.9" y2="810.4" stroke="#000" stroke-width="2.6" />
<line x1="968.6" y1="810.4" x2="982.6" y2="810.4" stroke="#000" stroke-width="2.6" />
<line x1="556.9" y1="915.1" x2="570.9" y2="915.1" stroke="#000" stroke-width="2.6" />
<line x1="968.6" y1="915.1" x2="982.6" y2="915.1" stroke="#000" stroke-width="2.6" />
<line x1="556.9" y1="1019.8" x2="570.9" y2="1019.8" stroke="#000" stroke-width="2.6" />
<line x1="968.6" y1="1019.8" x2="982.6" y2="1019.8" stroke="#000" stroke-width="2.6" />
<rect x="987.4" y="601" width="425.2" height="523.5" fill="none" stroke="#000" stroke-width="3.6"/>
<line x1="987.4" y1="705.7" x2="1001.4" y2="705.7" stroke="#000" stroke-width="2.6" />
<line x1="1398.6" y1="705.7" x2="1412.6" y2="705.7" stroke="#000" stroke-width="2.6" />
<line x1="987.4" y1="810.4" x2="1001.4" y2="810.4" stroke="#000" stroke-width="2.6" />
<line x1="1398.6" y1="810.4" x2="1412.6" y2="810.4" stroke="#000" stroke-width="2.6" />
<line x1="987.4" y1="915.1" x2="1001.4" y2="915.1" stroke="#000" stroke-width="2.6" />
<line x1="1398.6" y1="915.1" x2="1412.6" y2="915.1" stroke="#000" stroke-width="2.6" />
<line x1="987.4" y1="1019.8" x2="1001.4" y2="1019.8" stroke="#000" stroke-width="2.6" />
<line x1="1398.6" y1="1019.8" x2="1412.6" y2="1019.8" stroke="#000" stroke-width="2.6" />
<rect x="1417" y="601" width="424.7" height="523.5" fill="none" stroke="#000" stroke-width="3.6"/>
<line x1="1417" y1="705.7" x2="1431" y2="705.7" stroke="#000" stroke-width="2.6" />
<line x1="1827.7" y1="705.7" x2="1841.7" y2="705.7" stroke="#000" stroke-width="2.6" />
<line x1="1417" y1="810.4" x2="1431" y2="810.4" stroke="#000" stroke-width="2.6" />
<line x1="1827.7" y1="810.4" x2="1841.7" y2="810.4" stroke="#000" stroke-width="2.6" />
<line x1="1417" y1="915.1" x2="1431" y2="915.1" stroke="#000" stroke-width="2.6" />
<line x1="1827.7" y1="915.1" x2="1841.7" y2="915.1" stroke="#000" stroke-width="2.6" />
<line x1="1417" y1="1019.8" x2="1431" y2="1019.8" stroke="#000" stroke-width="2.6" />
<line x1="1827.7" y1="1019.8" x2="1841.7" y2="1019.8" stroke="#000" stroke-width="2.6" />
<text x="88.5" y="31.2" font-size="36" style="font-family:'Liberation Serif','Times New Roman',serif;font-weight:bold" fill="#000" text-anchor="end" >3</text>
<text x="88.5" y="136.4" font-size="36" style="font-family:'Liberation Serif','Times New Roman',serif;font-weight:bold" fill="#000" text-anchor="end" >2</text>
<text x="88.5" y="241.7" font-size="36" style="font-family:'Liberation Serif','Times New Roman',serif;font-weight:bold" fill="#000" text-anchor="end" >1</text>
<text x="88.5" y="346.9" font-size="36" style="font-family:'Liberation Serif','Times New Roman',serif;font-weight:bold" fill="#000" text-anchor="end" >0</text>
<text x="88.5" y="452.2" font-size="36" style="font-family:'Liberation Serif','Times New Roman',serif;font-weight:bold" fill="#000" text-anchor="end" >-1</text>
<text x="88.5" y="557.4" font-size="36" style="font-family:'Liberation Serif','Times New Roman',serif;font-weight:bold" fill="#000" text-anchor="end" >-2</text>
<text x="89.5" y="609.7" font-size="36" style="font-family:'Liberation Serif','Times New Roman',serif;font-weight:bold" fill="#000" text-anchor="end" >3</text>
<text x="89.5" y="715.1" font-size="36" style="font-family:'Liberation Serif','Times New Roman',serif;font-weight:bold" fill="#000" text-anchor="end" >2</text>
<text x="89.5" y="820.6" font-size="36" style="font-family:'Liberation Serif','Times New Roman',serif;font-weight:bold" fill="#000" text-anchor="end" >1</text>
<text x="89.5" y="926" font-size="36" style="font-family:'Liberation Serif','Times New Roman',serif;font-weight:bold" fill="#000" text-anchor="end" >0</text>
<text x="89.5" y="1031.5" font-size="36" style="font-family:'Liberation Serif','Times New Roman',serif;font-weight:bold" fill="#000" text-anchor="end" >-1</text>
<text x="89.5" y="1136.9" font-size="36" style="font-family:'Liberation Serif','Times New Roman',serif;font-weight:bold" fill="#000" text-anchor="end" >-2</text>
<text x="549.5" y="35" font-size="36" style="font-family:'Liberation Serif','Times New Roman',serif;font-weight:bold" fill="#000" text-anchor="end" >3</text>
<text x="549.5" y="139.6" font-size="36" style="font-family:'Liberation Serif','Times New Roman',serif;font-weight:bold" fill="#000" text-anchor="end" >2</text>
<text x="549.5" y="244.3" font-size="36" style="font-family:'Liberation Serif','Times New Roman',serif;font-weight:bold" fill="#000" text-anchor="end" >1</text>
<text x="549.5" y="348.9" font-size="36" style="font-family:'Liberation Serif','Times New Roman',serif;font-weight:bold" fill="#000" text-anchor="end" >0</text>
<text x="549.5" y="453.6" font-size="36" style="font-family:'Liberation Serif','Times New Roman',serif;font-weight:bold" fill="#000" text-anchor="end" >-1</text>
<text x="549.5" y="558.2" font-size="36" style="font-family:'Liberation Serif','Times New Roman',serif;font-weight:bold" fill="#000" text-anchor="end" >-2</text>
<text x="549.5" y="613.6" font-size="36" style="font-family:'Liberation Serif','Times New Roman',serif;font-weight:bold" fill="#000" text-anchor="end" >3</text>
<text x="549.5" y="718.3" font-size="36" style="font-family:'Liberation Serif','Times New Roman',serif;font-weight:bold" fill="#000" text-anchor="end" >2</text>
<text x="549.5" y="823" font-size="36" style="font-family:'Liberation Serif','Times New Roman',serif;font-weight:bold" fill="#000" text-anchor="end" >1</text>
<text x="549.5" y="927.7" font-size="36" style="font-family:'Liberation Serif','Times New Roman',serif;font-weight:bold" fill="#000" text-anchor="end" >0</text>
<text x="549.5" y="1032.4" font-size="36" style="font-family:'Liberation Serif','Times New Roman',serif;font-weight:bold" fill="#000" text-anchor="end" >-1</text>
<text x="549.5" y="1137.1" font-size="36" style="font-family:'Liberation Serif','Times New Roman',serif;font-weight:bold" fill="#000" text-anchor="end" >-2</text>
<text x="101" y="584.8" font-size="41" style="font-family:'Liberation Serif','Times New Roman',serif;font-weight:bold" fill="#000" text-anchor="start" >K</text>
<text x="264.7" y="588" font-size="42" style="font-family:'Liberation Serif','Times New Roman',serif;font-weight:bold" fill="#000" text-anchor="start" >Γ</text>
<text x="397.9" y="584.3" font-size="41" style="font-family:'Liberation Serif','Times New Roman',serif;font-weight:bold" fill="#000" text-anchor="start" textLength="35.5" lengthAdjust="spacingAndGlyphs">M</text>
<text x="472.3" y="584.8" font-size="41" style="font-family:'Liberation Serif','Times New Roman',serif;font-weight:bold" fill="#000" text-anchor="start" >K</text>
<text x="556.2" y="584.8" font-size="41" style="font-family:'Liberation Serif','Times New Roman',serif;font-weight:bold" fill="#000" text-anchor="start" >K</text>
<text x="724.6" y="588" font-size="42" style="font-family:'Liberation Serif','Times New Roman',serif;font-weight:bold" fill="#000" text-anchor="start" >Γ</text>
<text x="876.2" y="584.3" font-size="41" style="font-family:'Liberation Serif','Times New Roman',serif;font-weight:bold" fill="#000" text-anchor="start" textLength="35.5" lengthAdjust="spacingAndGlyphs">M</text>
<text x="972.4" y="584.8" font-size="41" style="font-family:'Liberation Serif','Times New Roman',serif;font-weight:bold" fill="#000" text-anchor="start" >K</text>
<text x="1153.6" y="588" font-size="42" style="font-family:'Liberation Serif','Times New Roman',serif;font-weight:bold" fill="#000" text-anchor="start" >Γ</text>
<text x="1305.2" y="584.3" font-size="41" style="font-family:'Liberation Serif','Times New Roman',serif;font-weight:bold" fill="#000" text-anchor="start" textLength="35.5" lengthAdjust="spacingAndGlyphs">M</text>
<text x="1401.3" y="584.8" font-size="41" style="font-family:'Liberation Serif','Times New Roman',serif;font-weight:bold" fill="#000" text-anchor="start" >K</text>
<text x="1585" y="588" font-size="42" style="font-family:'Liberation Serif','Times New Roman',serif;font-weight:bold" fill="#000" text-anchor="start" >Γ</text>
<text x="1736.9" y="584.3" font-size="41" style="font-family:'Liberation Serif','Times New Roman',serif;font-weight:bold" fill="#000" text-anchor="start" textLength="35.5" lengthAdjust="spacingAndGlyphs">M</text>
<text x="1812.2" y="584.8" font-size="41" style="font-family:'Liberation Serif','Times New Roman',serif;font-weight:bold" fill="#000" text-anchor="start" >K</text>
<text x="103.7" y="1164.5" font-size="41" style="font-family:'Liberation Serif','Times New Roman',serif;font-weight:bold" fill="#000" text-anchor="start" >K</text>
<text x="267.2" y="1167.7" font-size="42" style="font-family:'Liberation Serif','Times New Roman',serif;font-weight:bold" fill="#000" text-anchor="start" >Γ</text>
<text x="400.1" y="1164" font-size="41" style="font-family:'Liberation Serif','Times New Roman',serif;font-weight:bold" fill="#000" text-anchor="start" textLength="35.5" lengthAdjust="spacingAndGlyphs">M</text>
<text x="475.2" y="1164.5" font-size="41" style="font-family:'Liberation Serif','Times New Roman',serif;font-weight:bold" fill="#000" text-anchor="start" >K</text>
<text x="556.2" y="1164.5" font-size="41" style="font-family:'Liberation Serif','Times New Roman',serif;font-weight:bold" fill="#000" text-anchor="start" >K</text>
<text x="722.2" y="1167.7" font-size="42" style="font-family:'Liberation Serif','Times New Roman',serif;font-weight:bold" fill="#000" text-anchor="start" >Γ</text>
<text x="875" y="1164" font-size="41" style="font-family:'Liberation Serif','Times New Roman',serif;font-weight:bold" fill="#000" text-anchor="start" textLength="35.5" lengthAdjust="spacingAndGlyphs">M</text>
<text x="972.4" y="1164.5" font-size="41" style="font-family:'Liberation Serif','Times New Roman',serif;font-weight:bold" fill="#000" text-anchor="start" >K</text>
<text x="1153.1" y="1167.7" font-size="42" style="font-family:'Liberation Serif','Times New Roman',serif;font-weight:bold" fill="#000" text-anchor="start" >Γ</text>
<text x="1304.5" y="1164" font-size="41" style="font-family:'Liberation Serif','Times New Roman',serif;font-weight:bold" fill="#000" text-anchor="start" textLength="35.5" lengthAdjust="spacingAndGlyphs">M</text>
<text x="1403" y="1164.5" font-size="41" style="font-family:'Liberation Serif','Times New Roman',serif;font-weight:bold" fill="#000" text-anchor="start" >K</text>
<text x="1585" y="1167.7" font-size="42" style="font-family:'Liberation Serif','Times New Roman',serif;font-weight:bold" fill="#000" text-anchor="start" >Γ</text>
<text x="1739.5" y="1164" font-size="41" style="font-family:'Liberation Serif','Times New Roman',serif;font-weight:bold" fill="#000" text-anchor="start" textLength="35.5" lengthAdjust="spacingAndGlyphs">M</text>
<text x="1811.9" y="1164.5" font-size="41" style="font-family:'Liberation Serif','Times New Roman',serif;font-weight:bold" fill="#000" text-anchor="start" >K</text>
<text transform="translate(36.0,405.8) rotate(-90)" font-size="38" style="font-family:'Liberation Serif','Times New Roman',serif;font-weight:bold" fill="#000">E −E<tspan font-size="25" dy="8">F</tspan><tspan dy="-8"> (eV)</tspan></text>
<text transform="translate(36.6,934.7) rotate(-90)" font-size="38" style="font-family:'Liberation Serif','Times New Roman',serif;font-weight:bold" fill="#000">E −E<tspan font-size="25" dy="8">F</tspan><tspan dy="-8"> (eV)</tspan></text>
<text x="121.5" y="73.5" font-size="46" style="font-family:'Liberation Serif','Times New Roman',serif;font-weight:bold" fill="#000" text-anchor="start" >(a)</text>
<text x="573.2" y="76.4" font-size="47.5" style="font-family:'Liberation Serif','Times New Roman',serif;font-weight:bold" fill="#000" text-anchor="start" >(b)</text>
<text x="119.4" y="653" font-size="48" style="font-family:'Liberation Serif','Times New Roman',serif;font-weight:bold" fill="#000" text-anchor="start" >(c)</text>
<text x="574.8" y="656.5" font-size="46" style="font-family:'Liberation Serif','Times New Roman',serif;font-weight:bold" fill="#000" text-anchor="start" >(d)</text>
<text x="576.3" y="205.5" font-size="41" style="font-family:'Liberation Serif','Times New Roman',serif;font-weight:bold" fill="#7030a0" text-anchor="start" >Bi</text>
<text x="1004.8" y="204.5" font-size="44" style="font-family:'Liberation Serif','Times New Roman',serif;font-weight:bold" fill="#7030a0" text-anchor="start" >S</text>
<text x="1436.5" y="204.5" font-size="44" style="font-family:'Liberation Serif','Times New Roman',serif;font-weight:bold" fill="#7030a0" text-anchor="start" >Se</text>
<text x="576.3" y="785" font-size="41" style="font-family:'Liberation Serif','Times New Roman',serif;font-weight:bold" fill="#7030a0" text-anchor="start" >Bi</text>
<text x="1003" y="785" font-size="44" style="font-family:'Liberation Serif','Times New Roman',serif;font-weight:bold" fill="#7030a0" text-anchor="start" >Se</text>
<text x="1449" y="785" font-size="44" style="font-family:'Liberation Serif','Times New Roman',serif;font-weight:bold" fill="#7030a0" text-anchor="start" >S</text>
<text x="1141.3" y="67.5" font-size="41" style="font-family:'Liberation Serif','Times New Roman',serif;font-weight:bold" fill="#c55a11" textLength="131" lengthAdjust="spacingAndGlyphs">Bi<tspan font-size="26" dy="9">2</tspan><tspan dy="-9">S</tspan><tspan font-size="26" dy="9">2</tspan><tspan dy="-9">Se</tspan></text>
<text x="1141.3" y="647" font-size="41" style="font-family:'Liberation Serif','Times New Roman',serif;font-weight:bold" fill="#c55a11" textLength="131" lengthAdjust="spacingAndGlyphs">Bi<tspan font-size="26" dy="9">2</tspan><tspan dy="-9">Se</tspan><tspan font-size="26" dy="9">2</tspan><tspan dy="-9">S</tspan></text>
<circle cx="1581.5" cy="315.5" r="13.5" fill="#ff0a0a"/>
<circle cx="1640.4" cy="315.5" r="13.8" fill="#0a0ab4"/>
<circle cx="1780.2" cy="312.5" r="13.3" fill="#66ee5a"/>
<text x="1602.5" y="324.5" font-size="38" style="font-family:'Liberation Serif','Times New Roman',serif;font-weight:bold" fill="#000" text-anchor="start" >s</text>
<text x="1661" y="321.5" font-size="38" style="font-family:'Liberation Serif','Times New Roman',serif;font-weight:bold">p<tspan font-size="26" dy="8">x</tspan><tspan dy="-8">+ p</tspan><tspan font-size="26" dy="8">y</tspan></text>
<text x="1800.5" y="321.5" font-size="38" style="font-family:'Liberation Serif','Times New Roman',serif;font-weight:bold">p<tspan font-size="26" dy="8">z</tspan></text>
<circle cx="1581.5" cy="894.4" r="13.5" fill="#ff0a0a"/>
<circle cx="1640.4" cy="894.4" r="13.8" fill="#0a0ab4"/>
<circle cx="1780.2" cy="891.4" r="13.3" fill="#66ee5a"/>
<text x="1602.5" y="903.4" font-size="38" style="font-family:'Liberation Serif','Times New Roman',serif;font-weight:bold" fill="#000" text-anchor="start" >s</text>
<text x="1661" y="900.4" font-size="38" style="font-family:'Liberation Serif','Times New Roman',serif;font-weight:bold">p<tspan font-size="26" dy="8">x</tspan><tspan dy="-8">+ p</tspan><tspan font-size="26" dy="8">y</tspan></text>
<text x="1800.5" y="900.4" font-size="38" style="font-family:'Liberation Serif','Times New Roman',serif;font-weight:bold">p<tspan font-size="26" dy="8">z</tspan></text>
<text x="108" y="314.4" font-size="29" style="font-family:'Liberation Sans',Arial,sans-serif;font-weight:bold" fill="#4472c4" textLength="166" lengthAdjust="spacingAndGlyphs">E<tspan font-size="19" dy="7">g</tspan><tspan dy="-7"> = 0.62 eV</tspan></text>
<text x="313" y="288.1" font-size="29" style="font-family:'Liberation Sans',Arial,sans-serif;font-weight:bold" fill="#844a1e" textLength="167" lengthAdjust="spacingAndGlyphs">E<tspan font-size="19" dy="7">g</tspan><tspan dy="-7"> = 1.03 eV</tspan></text>
<text x="332" y="849.3" font-size="29" style="font-family:'Liberation Sans',Arial,sans-serif;font-weight:bold" fill="#844a1e" textLength="167" lengthAdjust="spacingAndGlyphs">E<tspan font-size="19" dy="7">g</tspan><tspan dy="-7"> = 0.98 eV</tspan></text>
<text x="332" y="894.4" font-size="29" style="font-family:'Liberation Sans',Arial,sans-serif;font-weight:bold" fill="#4472c4" textLength="166" lengthAdjust="spacingAndGlyphs">E<tspan font-size="19" dy="7">g</tspan><tspan dy="-7"> = 0.55 eV</tspan></text>
<line x1="338" y1="359" x2="283" y2="271.2" stroke="#87461c" stroke-width="4.6" stroke-linecap="butt"/>
<polygon points="274,256.8 289.9,268.1 277.2,276" fill="#87461c"/>
<line x1="336.7" y1="356.2" x2="282.6" y2="303.4" stroke="#4472c4" stroke-width="5.2" stroke-linecap="butt"/>
<polygon points="272.6,293.6 288.6,298.7 278.1,309.4" fill="#4472c4"/>
<line x1="223.2" y1="927.9" x2="265.6" y2="849.9" stroke="#87461c" stroke-width="4.6" stroke-linecap="butt"/>
<polygon points="273.7,835 271.7,854.4 258.5,847.2" fill="#87461c"/>
<line x1="223.2" y1="927.9" x2="264.9" y2="895.3" stroke="#4472c4" stroke-width="5.2" stroke-linecap="butt"/>
<polygon points="275.9,886.7 268.7,901.8 259.5,890" fill="#4472c4"/>
</svg>
</body></html>
